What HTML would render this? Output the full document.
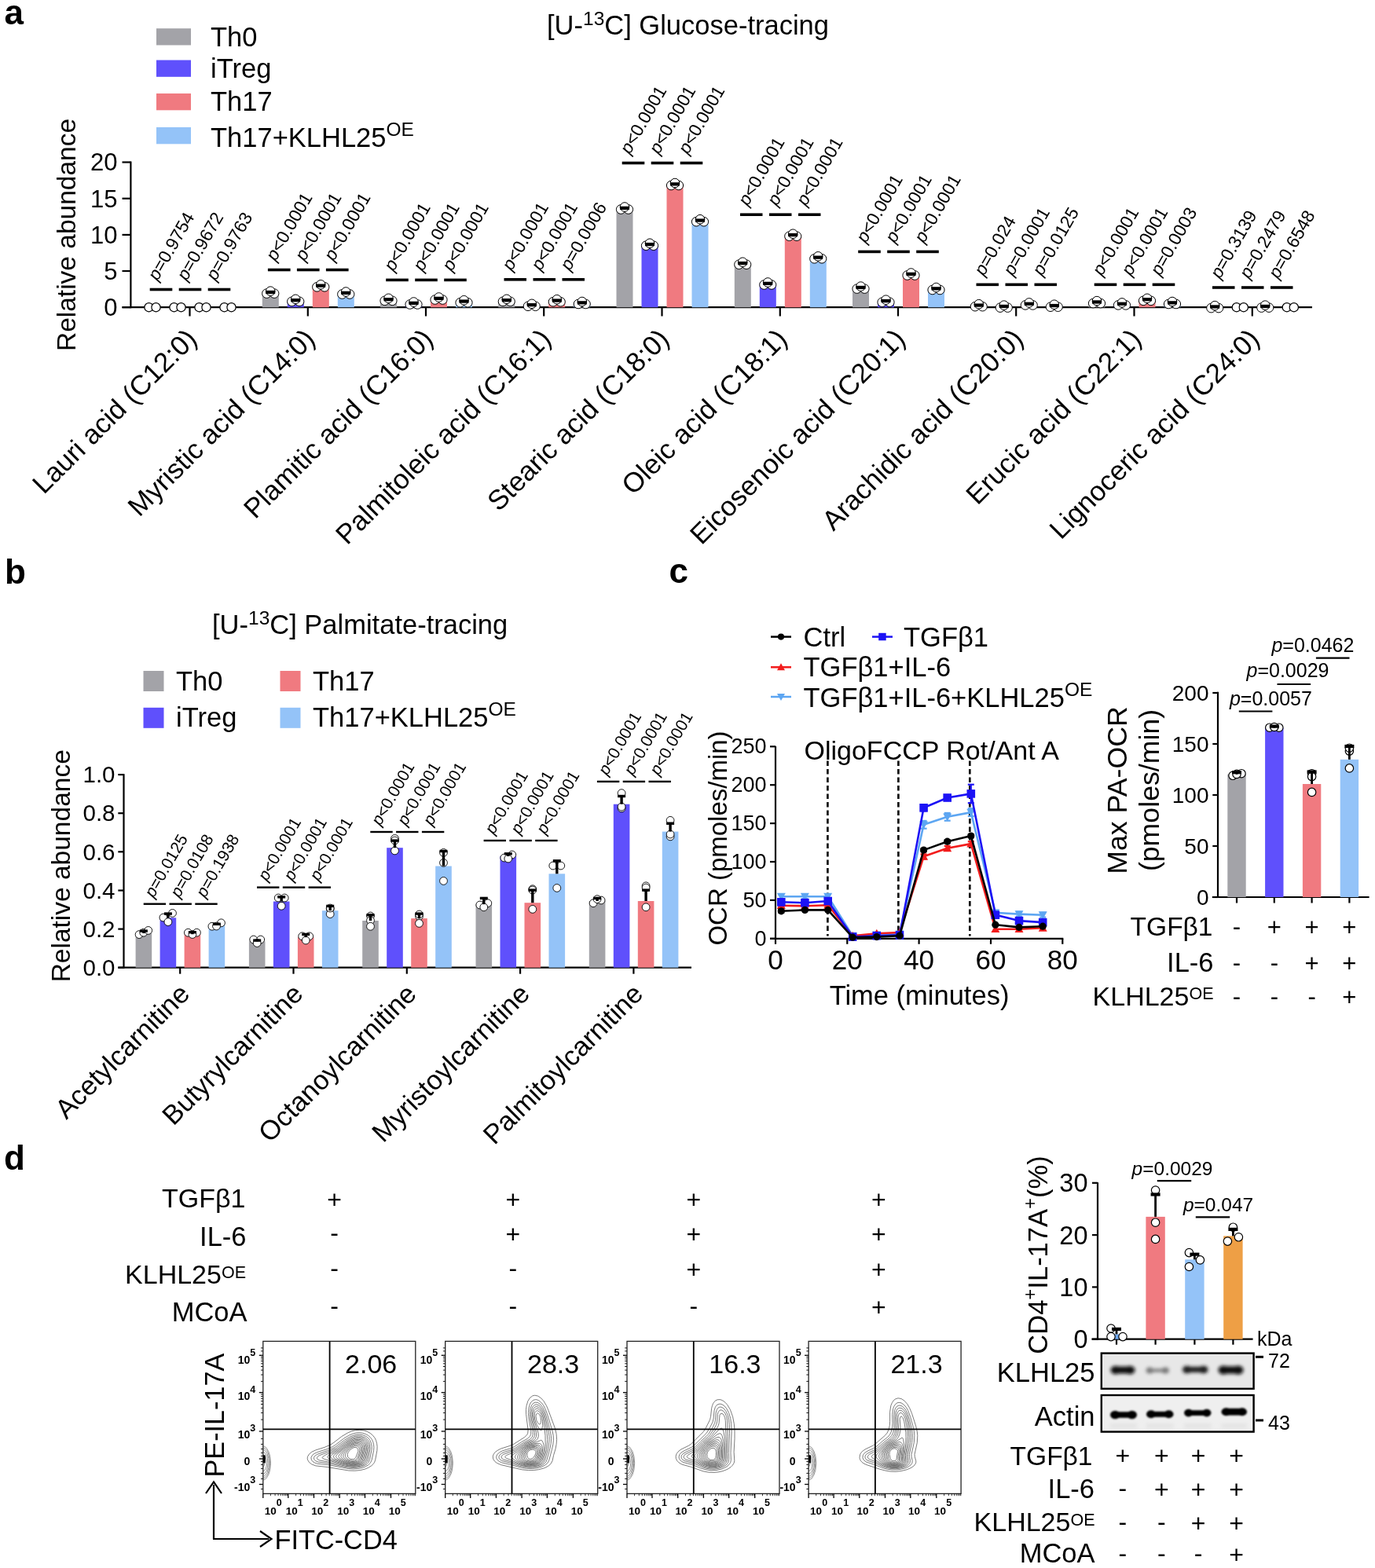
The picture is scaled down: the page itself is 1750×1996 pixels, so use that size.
<!DOCTYPE html>
<html><head><meta charset="utf-8"><title>Figure</title>
<style>html,body{margin:0;padding:0;background:#fff;} svg{display:block;} text{font-family:'Liberation Sans', Arial, Helvetica, sans-serif;}</style>
</head><body>
<svg width="1750" height="1996" viewBox="0 0 1750 1996" font-family="'Liberation Sans', Arial, Helvetica, sans-serif">
<rect width="1750" height="1996" fill="#fff"/>
<text x="5.5" y="30.5" font-size="44" font-weight="bold" >a</text>
<text x="6.0" y="742.7" font-size="44" font-weight="bold" >b</text>
<text x="851.5" y="742.4" font-size="44" font-weight="bold" >c</text>
<text x="5.0" y="1489.0" font-size="44" font-weight="bold" >d</text>
<text x="696" y="44" font-size="34.5">[U-<tspan font-size="24.5" dy="-12">13</tspan><tspan dy="12">C] Glucose-tracing</tspan></text>
<rect x="199.0" y="36.2" width="44.0" height="21.3" fill="#a3a3a8" />
<text x="268.0" y="58.5" font-size="34.5" >Th0</text>
<rect x="199.0" y="76.5" width="44.0" height="21.3" fill="#5f50fc" />
<text x="268.0" y="98.5" font-size="34.5" >iTreg</text>
<rect x="199.0" y="119.0" width="44.0" height="21.3" fill="#f07a80" />
<text x="268.0" y="141.1" font-size="34.5" >Th17</text>
<rect x="199.0" y="162.0" width="44.0" height="21.3" fill="#94c3f8" />
<text x="268" y="186.7" font-size="34.5">Th17+KLHL25<tspan font-size="24.5" dy="-14">OE</tspan></text>
<line x1="166.4" y1="205.5" x2="166.4" y2="392.2" stroke="#000" stroke-width="2.2" />
<line x1="155.5" y1="391.2" x2="166.4" y2="391.2" stroke="#000" stroke-width="2.2" />
<text x="149.5" y="402.0" font-size="31" text-anchor="end" >0</text>
<line x1="155.5" y1="345.0" x2="166.4" y2="345.0" stroke="#000" stroke-width="2.2" />
<text x="149.5" y="355.8" font-size="31" text-anchor="end" >5</text>
<line x1="155.5" y1="298.9" x2="166.4" y2="298.9" stroke="#000" stroke-width="2.2" />
<text x="149.5" y="309.7" font-size="31" text-anchor="end" >10</text>
<line x1="155.5" y1="252.7" x2="166.4" y2="252.7" stroke="#000" stroke-width="2.2" />
<text x="149.5" y="263.5" font-size="31" text-anchor="end" >15</text>
<line x1="155.5" y1="206.5" x2="166.4" y2="206.5" stroke="#000" stroke-width="2.2" />
<text x="149.5" y="217.3" font-size="31" text-anchor="end" >20</text>
<line x1="155.5" y1="391.2" x2="1670.0" y2="391.2" stroke="#000" stroke-width="2.2" />
<text transform="translate(95.5,299) rotate(-90)" font-size="33.5" text-anchor="middle">Relative abundance</text>
<line x1="241.5" y1="391.2" x2="241.5" y2="402.5" stroke="#000" stroke-width="2.2" />
<circle cx="189.5" cy="391.2" r="5.6" fill="#fff" stroke="#000" stroke-width="1.2"/>
<circle cx="198.5" cy="391.2" r="5.6" fill="#fff" stroke="#000" stroke-width="1.2"/>
<circle cx="221.5" cy="391.2" r="5.6" fill="#fff" stroke="#000" stroke-width="1.2"/>
<circle cx="230.5" cy="391.2" r="5.6" fill="#fff" stroke="#000" stroke-width="1.2"/>
<circle cx="253.5" cy="391.2" r="5.6" fill="#fff" stroke="#000" stroke-width="1.2"/>
<circle cx="262.5" cy="391.2" r="5.6" fill="#fff" stroke="#000" stroke-width="1.2"/>
<circle cx="285.5" cy="391.2" r="5.6" fill="#fff" stroke="#000" stroke-width="1.2"/>
<circle cx="294.5" cy="391.2" r="5.6" fill="#fff" stroke="#000" stroke-width="1.2"/>
<line x1="190.7" y1="368.5" x2="219.3" y2="368.5" stroke="#000" stroke-width="3.6" />
<text transform="translate(200.5,358.5) rotate(-60)" font-size="22.7"><tspan font-style="italic">p</tspan>=0.9754</text>
<line x1="227.7" y1="368.5" x2="256.3" y2="368.5" stroke="#000" stroke-width="3.6" />
<text transform="translate(237.5,358.5) rotate(-60)" font-size="22.7"><tspan font-style="italic">p</tspan>=0.9672</text>
<line x1="264.7" y1="368.5" x2="293.3" y2="368.5" stroke="#000" stroke-width="3.6" />
<text transform="translate(274.5,358.5) rotate(-60)" font-size="22.7"><tspan font-style="italic">p</tspan>=0.9763</text>
<text transform="translate(252.5,433.5) rotate(-45)" font-size="35" text-anchor="end">Lauri acid (C12:0)</text>
<line x1="391.8" y1="391.2" x2="391.8" y2="402.5" stroke="#000" stroke-width="2.2" />
<rect x="333.8" y="371.8" width="21.0" height="19.4" fill="#a3a3a8" />
<rect x="365.8" y="382.0" width="21.0" height="9.2" fill="#5f50fc" />
<rect x="397.8" y="363.5" width="21.0" height="27.7" fill="#f07a80" />
<rect x="429.8" y="372.7" width="21.0" height="18.5" fill="#94c3f8" />
<circle cx="339.4" cy="373.6" r="5.8" fill="#fff" stroke="#000" stroke-width="1.0"/>
<circle cx="349.1" cy="373.6" r="5.8" fill="#fff" stroke="#000" stroke-width="1.0"/>
<circle cx="344.2" cy="370.6" r="5.8" fill="#fff" stroke="#000" stroke-width="1.0"/>
<rect x="338.2" y="369.8" width="12.0" height="4.3" fill="#000" />
<circle cx="371.4" cy="383.8" r="5.8" fill="#fff" stroke="#000" stroke-width="1.0"/>
<circle cx="381.1" cy="383.8" r="5.8" fill="#fff" stroke="#000" stroke-width="1.0"/>
<circle cx="376.2" cy="380.8" r="5.8" fill="#fff" stroke="#000" stroke-width="1.0"/>
<rect x="370.2" y="380.0" width="12.0" height="4.3" fill="#000" />
<circle cx="403.4" cy="365.3" r="5.8" fill="#fff" stroke="#000" stroke-width="1.0"/>
<circle cx="413.1" cy="365.3" r="5.8" fill="#fff" stroke="#000" stroke-width="1.0"/>
<circle cx="408.2" cy="362.3" r="5.8" fill="#fff" stroke="#000" stroke-width="1.0"/>
<rect x="402.2" y="361.5" width="12.0" height="4.3" fill="#000" />
<circle cx="435.4" cy="374.5" r="5.8" fill="#fff" stroke="#000" stroke-width="1.0"/>
<circle cx="445.1" cy="374.5" r="5.8" fill="#fff" stroke="#000" stroke-width="1.0"/>
<circle cx="440.2" cy="371.5" r="5.8" fill="#fff" stroke="#000" stroke-width="1.0"/>
<rect x="434.2" y="370.7" width="12.0" height="4.3" fill="#000" />
<line x1="340.9" y1="343.5" x2="369.6" y2="343.5" stroke="#000" stroke-width="3.6" />
<text transform="translate(350.8,333.5) rotate(-60)" font-size="22.7"><tspan font-style="italic">p</tspan>&lt;0.0001</text>
<line x1="377.9" y1="343.5" x2="406.6" y2="343.5" stroke="#000" stroke-width="3.6" />
<text transform="translate(387.8,333.5) rotate(-60)" font-size="22.7"><tspan font-style="italic">p</tspan>&lt;0.0001</text>
<line x1="414.9" y1="343.5" x2="443.6" y2="343.5" stroke="#000" stroke-width="3.6" />
<text transform="translate(424.8,333.5) rotate(-60)" font-size="22.7"><tspan font-style="italic">p</tspan>&lt;0.0001</text>
<text transform="translate(402.8,433.5) rotate(-45)" font-size="35" text-anchor="end">Myristic acid (C14:0)</text>
<line x1="542.0" y1="391.2" x2="542.0" y2="402.5" stroke="#000" stroke-width="2.2" />
<rect x="484.0" y="381.0" width="21.0" height="10.2" fill="#a3a3a8" />
<rect x="516.0" y="385.7" width="21.0" height="5.5" fill="#5f50fc" />
<rect x="548.0" y="379.7" width="21.0" height="11.5" fill="#f07a80" />
<rect x="580.0" y="383.4" width="21.0" height="7.8" fill="#94c3f8" />
<circle cx="489.7" cy="382.8" r="5.8" fill="#fff" stroke="#000" stroke-width="1.0"/>
<circle cx="499.3" cy="382.8" r="5.8" fill="#fff" stroke="#000" stroke-width="1.0"/>
<circle cx="494.5" cy="379.8" r="5.8" fill="#fff" stroke="#000" stroke-width="1.0"/>
<rect x="488.5" y="379.0" width="12.0" height="4.3" fill="#000" />
<circle cx="521.7" cy="387.5" r="5.8" fill="#fff" stroke="#000" stroke-width="1.0"/>
<circle cx="531.3" cy="387.5" r="5.8" fill="#fff" stroke="#000" stroke-width="1.0"/>
<circle cx="526.5" cy="384.5" r="5.8" fill="#fff" stroke="#000" stroke-width="1.0"/>
<rect x="520.5" y="383.7" width="12.0" height="4.3" fill="#000" />
<circle cx="553.7" cy="381.5" r="5.8" fill="#fff" stroke="#000" stroke-width="1.0"/>
<circle cx="563.3" cy="381.5" r="5.8" fill="#fff" stroke="#000" stroke-width="1.0"/>
<circle cx="558.5" cy="378.5" r="5.8" fill="#fff" stroke="#000" stroke-width="1.0"/>
<rect x="552.5" y="377.7" width="12.0" height="4.3" fill="#000" />
<circle cx="585.7" cy="385.2" r="5.8" fill="#fff" stroke="#000" stroke-width="1.0"/>
<circle cx="595.3" cy="385.2" r="5.8" fill="#fff" stroke="#000" stroke-width="1.0"/>
<circle cx="590.5" cy="382.2" r="5.8" fill="#fff" stroke="#000" stroke-width="1.0"/>
<rect x="584.5" y="381.4" width="12.0" height="4.3" fill="#000" />
<line x1="491.2" y1="356.4" x2="519.8" y2="356.4" stroke="#000" stroke-width="3.6" />
<text transform="translate(501.0,346.4) rotate(-60)" font-size="22.7"><tspan font-style="italic">p</tspan>&lt;0.0001</text>
<line x1="528.2" y1="356.4" x2="556.8" y2="356.4" stroke="#000" stroke-width="3.6" />
<text transform="translate(538.0,346.4) rotate(-60)" font-size="22.7"><tspan font-style="italic">p</tspan>&lt;0.0001</text>
<line x1="565.2" y1="356.4" x2="593.8" y2="356.4" stroke="#000" stroke-width="3.6" />
<text transform="translate(575.0,346.4) rotate(-60)" font-size="22.7"><tspan font-style="italic">p</tspan>&lt;0.0001</text>
<text transform="translate(553.0,433.5) rotate(-45)" font-size="35" text-anchor="end">Plamitic acid (C16:0)</text>
<line x1="692.2" y1="391.2" x2="692.2" y2="402.5" stroke="#000" stroke-width="2.2" />
<rect x="634.2" y="382.0" width="21.0" height="9.2" fill="#a3a3a8" />
<rect x="666.2" y="388.0" width="21.0" height="3.2" fill="#5f50fc" />
<rect x="698.2" y="382.4" width="21.0" height="8.8" fill="#f07a80" />
<rect x="730.2" y="385.2" width="21.0" height="6.0" fill="#94c3f8" />
<circle cx="640.0" cy="383.8" r="5.8" fill="#fff" stroke="#000" stroke-width="1.0"/>
<circle cx="649.5" cy="383.8" r="5.8" fill="#fff" stroke="#000" stroke-width="1.0"/>
<circle cx="644.8" cy="380.8" r="5.8" fill="#fff" stroke="#000" stroke-width="1.0"/>
<rect x="638.8" y="380.0" width="12.0" height="4.3" fill="#000" />
<circle cx="672.0" cy="389.8" r="5.8" fill="#fff" stroke="#000" stroke-width="1.0"/>
<circle cx="681.5" cy="389.8" r="5.8" fill="#fff" stroke="#000" stroke-width="1.0"/>
<circle cx="676.8" cy="386.8" r="5.8" fill="#fff" stroke="#000" stroke-width="1.0"/>
<rect x="670.8" y="386.0" width="12.0" height="4.3" fill="#000" />
<circle cx="704.0" cy="384.2" r="5.8" fill="#fff" stroke="#000" stroke-width="1.0"/>
<circle cx="713.5" cy="384.2" r="5.8" fill="#fff" stroke="#000" stroke-width="1.0"/>
<circle cx="708.8" cy="381.2" r="5.8" fill="#fff" stroke="#000" stroke-width="1.0"/>
<rect x="702.8" y="380.4" width="12.0" height="4.3" fill="#000" />
<circle cx="736.0" cy="387.0" r="5.8" fill="#fff" stroke="#000" stroke-width="1.0"/>
<circle cx="745.5" cy="387.0" r="5.8" fill="#fff" stroke="#000" stroke-width="1.0"/>
<circle cx="740.8" cy="384.0" r="5.8" fill="#fff" stroke="#000" stroke-width="1.0"/>
<rect x="734.8" y="383.2" width="12.0" height="4.3" fill="#000" />
<line x1="641.5" y1="355.8" x2="670.0" y2="355.8" stroke="#000" stroke-width="3.6" />
<text transform="translate(651.2,345.8) rotate(-60)" font-size="22.7"><tspan font-style="italic">p</tspan>&lt;0.0001</text>
<line x1="678.5" y1="355.8" x2="707.0" y2="355.8" stroke="#000" stroke-width="3.6" />
<text transform="translate(688.2,345.8) rotate(-60)" font-size="22.7"><tspan font-style="italic">p</tspan>&lt;0.0001</text>
<line x1="715.5" y1="355.8" x2="744.0" y2="355.8" stroke="#000" stroke-width="3.6" />
<text transform="translate(725.2,345.8) rotate(-60)" font-size="22.7"><tspan font-style="italic">p</tspan>=0.0006</text>
<text transform="translate(703.2,433.5) rotate(-45)" font-size="35" text-anchor="end">Palmitoleic acid (C16:1)</text>
<line x1="842.5" y1="391.2" x2="842.5" y2="402.5" stroke="#000" stroke-width="2.2" />
<rect x="784.5" y="264.7" width="21.0" height="126.5" fill="#a3a3a8" />
<rect x="816.5" y="310.9" width="21.0" height="80.3" fill="#5f50fc" />
<rect x="848.5" y="234.2" width="21.0" height="157.0" fill="#f07a80" />
<rect x="880.5" y="280.4" width="21.0" height="110.8" fill="#94c3f8" />
<circle cx="790.2" cy="266.5" r="5.8" fill="#fff" stroke="#000" stroke-width="1.0"/>
<circle cx="799.8" cy="266.5" r="5.8" fill="#fff" stroke="#000" stroke-width="1.0"/>
<circle cx="795.0" cy="263.5" r="5.8" fill="#fff" stroke="#000" stroke-width="1.0"/>
<rect x="789.0" y="262.7" width="12.0" height="4.3" fill="#000" />
<circle cx="822.2" cy="312.7" r="5.8" fill="#fff" stroke="#000" stroke-width="1.0"/>
<circle cx="831.8" cy="312.7" r="5.8" fill="#fff" stroke="#000" stroke-width="1.0"/>
<circle cx="827.0" cy="309.7" r="5.8" fill="#fff" stroke="#000" stroke-width="1.0"/>
<rect x="821.0" y="308.9" width="12.0" height="4.3" fill="#000" />
<circle cx="854.2" cy="236.0" r="5.8" fill="#fff" stroke="#000" stroke-width="1.0"/>
<circle cx="863.8" cy="236.0" r="5.8" fill="#fff" stroke="#000" stroke-width="1.0"/>
<circle cx="859.0" cy="233.0" r="5.8" fill="#fff" stroke="#000" stroke-width="1.0"/>
<rect x="853.0" y="232.2" width="12.0" height="4.3" fill="#000" />
<circle cx="886.2" cy="282.2" r="5.8" fill="#fff" stroke="#000" stroke-width="1.0"/>
<circle cx="895.8" cy="282.2" r="5.8" fill="#fff" stroke="#000" stroke-width="1.0"/>
<circle cx="891.0" cy="279.2" r="5.8" fill="#fff" stroke="#000" stroke-width="1.0"/>
<rect x="885.0" y="278.4" width="12.0" height="4.3" fill="#000" />
<line x1="791.7" y1="207.5" x2="820.3" y2="207.5" stroke="#000" stroke-width="3.6" />
<text transform="translate(801.5,197.5) rotate(-60)" font-size="22.7"><tspan font-style="italic">p</tspan>&lt;0.0001</text>
<line x1="828.7" y1="207.5" x2="857.3" y2="207.5" stroke="#000" stroke-width="3.6" />
<text transform="translate(838.5,197.5) rotate(-60)" font-size="22.7"><tspan font-style="italic">p</tspan>&lt;0.0001</text>
<line x1="865.7" y1="207.5" x2="894.3" y2="207.5" stroke="#000" stroke-width="3.6" />
<text transform="translate(875.5,197.5) rotate(-60)" font-size="22.7"><tspan font-style="italic">p</tspan>&lt;0.0001</text>
<text transform="translate(853.5,433.5) rotate(-45)" font-size="35" text-anchor="end">Stearic acid (C18:0)</text>
<line x1="992.8" y1="391.2" x2="992.8" y2="402.5" stroke="#000" stroke-width="2.2" />
<rect x="934.8" y="334.9" width="21.0" height="56.3" fill="#a3a3a8" />
<rect x="966.8" y="360.7" width="21.0" height="30.5" fill="#5f50fc" />
<rect x="998.8" y="298.9" width="21.0" height="92.3" fill="#f07a80" />
<rect x="1030.8" y="327.5" width="21.0" height="63.7" fill="#94c3f8" />
<circle cx="940.5" cy="336.7" r="5.8" fill="#fff" stroke="#000" stroke-width="1.0"/>
<circle cx="950.0" cy="336.7" r="5.8" fill="#fff" stroke="#000" stroke-width="1.0"/>
<circle cx="945.2" cy="333.7" r="5.8" fill="#fff" stroke="#000" stroke-width="1.0"/>
<rect x="939.2" y="332.9" width="12.0" height="4.3" fill="#000" />
<circle cx="972.5" cy="362.5" r="5.8" fill="#fff" stroke="#000" stroke-width="1.0"/>
<circle cx="982.0" cy="362.5" r="5.8" fill="#fff" stroke="#000" stroke-width="1.0"/>
<circle cx="977.2" cy="359.5" r="5.8" fill="#fff" stroke="#000" stroke-width="1.0"/>
<rect x="971.2" y="358.7" width="12.0" height="4.3" fill="#000" />
<circle cx="1004.5" cy="300.7" r="5.8" fill="#fff" stroke="#000" stroke-width="1.0"/>
<circle cx="1014.0" cy="300.7" r="5.8" fill="#fff" stroke="#000" stroke-width="1.0"/>
<circle cx="1009.2" cy="297.7" r="5.8" fill="#fff" stroke="#000" stroke-width="1.0"/>
<rect x="1003.2" y="296.9" width="12.0" height="4.3" fill="#000" />
<circle cx="1036.5" cy="329.3" r="5.8" fill="#fff" stroke="#000" stroke-width="1.0"/>
<circle cx="1046.0" cy="329.3" r="5.8" fill="#fff" stroke="#000" stroke-width="1.0"/>
<circle cx="1041.2" cy="326.3" r="5.8" fill="#fff" stroke="#000" stroke-width="1.0"/>
<rect x="1035.2" y="325.5" width="12.0" height="4.3" fill="#000" />
<line x1="942.0" y1="273.2" x2="970.5" y2="273.2" stroke="#000" stroke-width="3.6" />
<text transform="translate(951.8,263.2) rotate(-60)" font-size="22.7"><tspan font-style="italic">p</tspan>&lt;0.0001</text>
<line x1="979.0" y1="273.2" x2="1007.5" y2="273.2" stroke="#000" stroke-width="3.6" />
<text transform="translate(988.8,263.2) rotate(-60)" font-size="22.7"><tspan font-style="italic">p</tspan>&lt;0.0001</text>
<line x1="1016.0" y1="273.2" x2="1044.5" y2="273.2" stroke="#000" stroke-width="3.6" />
<text transform="translate(1025.8,263.2) rotate(-60)" font-size="22.7"><tspan font-style="italic">p</tspan>&lt;0.0001</text>
<text transform="translate(1003.8,433.5) rotate(-45)" font-size="35" text-anchor="end">Oleic acid (C18:1)</text>
<line x1="1143.0" y1="391.2" x2="1143.0" y2="402.5" stroke="#000" stroke-width="2.2" />
<rect x="1085.0" y="365.8" width="21.0" height="25.4" fill="#a3a3a8" />
<rect x="1117.0" y="382.9" width="21.0" height="8.3" fill="#5f50fc" />
<rect x="1149.0" y="348.7" width="21.0" height="42.5" fill="#f07a80" />
<rect x="1181.0" y="367.2" width="21.0" height="24.0" fill="#94c3f8" />
<circle cx="1090.7" cy="367.6" r="5.8" fill="#fff" stroke="#000" stroke-width="1.0"/>
<circle cx="1100.3" cy="367.6" r="5.8" fill="#fff" stroke="#000" stroke-width="1.0"/>
<circle cx="1095.5" cy="364.6" r="5.8" fill="#fff" stroke="#000" stroke-width="1.0"/>
<rect x="1089.5" y="363.8" width="12.0" height="4.3" fill="#000" />
<circle cx="1122.7" cy="384.7" r="5.8" fill="#fff" stroke="#000" stroke-width="1.0"/>
<circle cx="1132.3" cy="384.7" r="5.8" fill="#fff" stroke="#000" stroke-width="1.0"/>
<circle cx="1127.5" cy="381.7" r="5.8" fill="#fff" stroke="#000" stroke-width="1.0"/>
<rect x="1121.5" y="380.9" width="12.0" height="4.3" fill="#000" />
<circle cx="1154.7" cy="350.5" r="5.8" fill="#fff" stroke="#000" stroke-width="1.0"/>
<circle cx="1164.3" cy="350.5" r="5.8" fill="#fff" stroke="#000" stroke-width="1.0"/>
<circle cx="1159.5" cy="347.5" r="5.8" fill="#fff" stroke="#000" stroke-width="1.0"/>
<rect x="1153.5" y="346.7" width="12.0" height="4.3" fill="#000" />
<circle cx="1186.7" cy="369.0" r="5.8" fill="#fff" stroke="#000" stroke-width="1.0"/>
<circle cx="1196.3" cy="369.0" r="5.8" fill="#fff" stroke="#000" stroke-width="1.0"/>
<circle cx="1191.5" cy="366.0" r="5.8" fill="#fff" stroke="#000" stroke-width="1.0"/>
<rect x="1185.5" y="365.2" width="12.0" height="4.3" fill="#000" />
<line x1="1092.2" y1="320.4" x2="1120.8" y2="320.4" stroke="#000" stroke-width="3.6" />
<text transform="translate(1102.0,310.4) rotate(-60)" font-size="22.7"><tspan font-style="italic">p</tspan>&lt;0.0001</text>
<line x1="1129.2" y1="320.4" x2="1157.8" y2="320.4" stroke="#000" stroke-width="3.6" />
<text transform="translate(1139.0,310.4) rotate(-60)" font-size="22.7"><tspan font-style="italic">p</tspan>&lt;0.0001</text>
<line x1="1166.2" y1="320.4" x2="1194.8" y2="320.4" stroke="#000" stroke-width="3.6" />
<text transform="translate(1176.0,310.4) rotate(-60)" font-size="22.7"><tspan font-style="italic">p</tspan>&lt;0.0001</text>
<text transform="translate(1154.0,433.5) rotate(-45)" font-size="35" text-anchor="end">Eicosenoic acid (C20:1)</text>
<line x1="1293.2" y1="391.2" x2="1293.2" y2="402.5" stroke="#000" stroke-width="2.2" />
<rect x="1235.2" y="388.4" width="21.0" height="2.8" fill="#a3a3a8" />
<rect x="1267.2" y="389.8" width="21.0" height="1.4" fill="#5f50fc" />
<rect x="1299.2" y="386.6" width="21.0" height="4.6" fill="#f07a80" />
<rect x="1331.2" y="388.9" width="21.0" height="2.3" fill="#94c3f8" />
<circle cx="1241.0" cy="390.2" r="5.8" fill="#fff" stroke="#000" stroke-width="1.0"/>
<circle cx="1250.5" cy="390.2" r="5.8" fill="#fff" stroke="#000" stroke-width="1.0"/>
<circle cx="1245.8" cy="387.2" r="5.8" fill="#fff" stroke="#000" stroke-width="1.0"/>
<rect x="1239.8" y="386.4" width="12.0" height="4.3" fill="#000" />
<circle cx="1273.0" cy="391.6" r="5.8" fill="#fff" stroke="#000" stroke-width="1.0"/>
<circle cx="1282.5" cy="391.6" r="5.8" fill="#fff" stroke="#000" stroke-width="1.0"/>
<circle cx="1277.8" cy="388.6" r="5.8" fill="#fff" stroke="#000" stroke-width="1.0"/>
<rect x="1271.8" y="387.8" width="12.0" height="4.3" fill="#000" />
<circle cx="1305.0" cy="388.4" r="5.8" fill="#fff" stroke="#000" stroke-width="1.0"/>
<circle cx="1314.5" cy="388.4" r="5.8" fill="#fff" stroke="#000" stroke-width="1.0"/>
<circle cx="1309.8" cy="385.4" r="5.8" fill="#fff" stroke="#000" stroke-width="1.0"/>
<rect x="1303.8" y="384.6" width="12.0" height="4.3" fill="#000" />
<circle cx="1337.0" cy="390.7" r="5.8" fill="#fff" stroke="#000" stroke-width="1.0"/>
<circle cx="1346.5" cy="390.7" r="5.8" fill="#fff" stroke="#000" stroke-width="1.0"/>
<circle cx="1341.8" cy="387.7" r="5.8" fill="#fff" stroke="#000" stroke-width="1.0"/>
<rect x="1335.8" y="386.9" width="12.0" height="4.3" fill="#000" />
<line x1="1242.5" y1="362.3" x2="1271.0" y2="362.3" stroke="#000" stroke-width="3.6" />
<text transform="translate(1252.2,352.3) rotate(-60)" font-size="22.7"><tspan font-style="italic">p</tspan>=0.024</text>
<line x1="1279.5" y1="362.3" x2="1308.0" y2="362.3" stroke="#000" stroke-width="3.6" />
<text transform="translate(1289.2,352.3) rotate(-60)" font-size="22.7"><tspan font-style="italic">p</tspan>=0.0001</text>
<line x1="1316.5" y1="362.3" x2="1345.0" y2="362.3" stroke="#000" stroke-width="3.6" />
<text transform="translate(1326.2,352.3) rotate(-60)" font-size="22.7"><tspan font-style="italic">p</tspan>=0.0125</text>
<text transform="translate(1304.2,433.5) rotate(-45)" font-size="35" text-anchor="end">Arachidic acid (C20:0)</text>
<line x1="1443.5" y1="391.2" x2="1443.5" y2="402.5" stroke="#000" stroke-width="2.2" />
<rect x="1385.5" y="384.3" width="21.0" height="6.9" fill="#a3a3a8" />
<rect x="1417.5" y="386.6" width="21.0" height="4.6" fill="#5f50fc" />
<rect x="1449.5" y="381.0" width="21.0" height="10.2" fill="#f07a80" />
<rect x="1481.5" y="385.2" width="21.0" height="6.0" fill="#94c3f8" />
<circle cx="1391.2" cy="386.1" r="5.8" fill="#fff" stroke="#000" stroke-width="1.0"/>
<circle cx="1400.8" cy="386.1" r="5.8" fill="#fff" stroke="#000" stroke-width="1.0"/>
<circle cx="1396.0" cy="383.1" r="5.8" fill="#fff" stroke="#000" stroke-width="1.0"/>
<rect x="1390.0" y="382.3" width="12.0" height="4.3" fill="#000" />
<circle cx="1423.2" cy="388.4" r="5.8" fill="#fff" stroke="#000" stroke-width="1.0"/>
<circle cx="1432.8" cy="388.4" r="5.8" fill="#fff" stroke="#000" stroke-width="1.0"/>
<circle cx="1428.0" cy="385.4" r="5.8" fill="#fff" stroke="#000" stroke-width="1.0"/>
<rect x="1422.0" y="384.6" width="12.0" height="4.3" fill="#000" />
<circle cx="1455.2" cy="382.8" r="5.8" fill="#fff" stroke="#000" stroke-width="1.0"/>
<circle cx="1464.8" cy="382.8" r="5.8" fill="#fff" stroke="#000" stroke-width="1.0"/>
<circle cx="1460.0" cy="379.8" r="5.8" fill="#fff" stroke="#000" stroke-width="1.0"/>
<rect x="1454.0" y="379.0" width="12.0" height="4.3" fill="#000" />
<circle cx="1487.2" cy="387.0" r="5.8" fill="#fff" stroke="#000" stroke-width="1.0"/>
<circle cx="1496.8" cy="387.0" r="5.8" fill="#fff" stroke="#000" stroke-width="1.0"/>
<circle cx="1492.0" cy="384.0" r="5.8" fill="#fff" stroke="#000" stroke-width="1.0"/>
<rect x="1486.0" y="383.2" width="12.0" height="4.3" fill="#000" />
<line x1="1392.7" y1="362.3" x2="1421.3" y2="362.3" stroke="#000" stroke-width="3.6" />
<text transform="translate(1402.5,352.3) rotate(-60)" font-size="22.7"><tspan font-style="italic">p</tspan>&lt;0.0001</text>
<line x1="1429.7" y1="362.3" x2="1458.3" y2="362.3" stroke="#000" stroke-width="3.6" />
<text transform="translate(1439.5,352.3) rotate(-60)" font-size="22.7"><tspan font-style="italic">p</tspan>&lt;0.0001</text>
<line x1="1466.7" y1="362.3" x2="1495.3" y2="362.3" stroke="#000" stroke-width="3.6" />
<text transform="translate(1476.5,352.3) rotate(-60)" font-size="22.7"><tspan font-style="italic">p</tspan>=0.0003</text>
<text transform="translate(1454.5,433.5) rotate(-45)" font-size="35" text-anchor="end">Erucic acid (C22:1)</text>
<line x1="1593.8" y1="391.2" x2="1593.8" y2="402.5" stroke="#000" stroke-width="2.2" />
<rect x="1535.8" y="390.3" width="21.0" height="0.9" fill="#a3a3a8" />
<rect x="1599.8" y="389.8" width="21.0" height="1.4" fill="#f07a80" />
<circle cx="1541.5" cy="392.1" r="5.8" fill="#fff" stroke="#000" stroke-width="1.0"/>
<circle cx="1551.0" cy="392.1" r="5.8" fill="#fff" stroke="#000" stroke-width="1.0"/>
<circle cx="1546.2" cy="389.1" r="5.8" fill="#fff" stroke="#000" stroke-width="1.0"/>
<rect x="1540.2" y="388.3" width="12.0" height="4.3" fill="#000" />
<circle cx="1573.8" cy="391.2" r="5.6" fill="#fff" stroke="#000" stroke-width="1.2"/>
<circle cx="1582.8" cy="391.2" r="5.6" fill="#fff" stroke="#000" stroke-width="1.2"/>
<circle cx="1605.5" cy="391.6" r="5.8" fill="#fff" stroke="#000" stroke-width="1.0"/>
<circle cx="1615.0" cy="391.6" r="5.8" fill="#fff" stroke="#000" stroke-width="1.0"/>
<circle cx="1610.2" cy="388.6" r="5.8" fill="#fff" stroke="#000" stroke-width="1.0"/>
<rect x="1604.2" y="387.8" width="12.0" height="4.3" fill="#000" />
<circle cx="1637.8" cy="391.2" r="5.6" fill="#fff" stroke="#000" stroke-width="1.2"/>
<circle cx="1646.8" cy="391.2" r="5.6" fill="#fff" stroke="#000" stroke-width="1.2"/>
<line x1="1543.0" y1="366.0" x2="1571.5" y2="366.0" stroke="#000" stroke-width="3.6" />
<text transform="translate(1552.8,356.0) rotate(-60)" font-size="22.7"><tspan font-style="italic">p</tspan>=0.3139</text>
<line x1="1580.0" y1="366.0" x2="1608.5" y2="366.0" stroke="#000" stroke-width="3.6" />
<text transform="translate(1589.8,356.0) rotate(-60)" font-size="22.7"><tspan font-style="italic">p</tspan>=0.2479</text>
<line x1="1617.0" y1="366.0" x2="1645.5" y2="366.0" stroke="#000" stroke-width="3.6" />
<text transform="translate(1626.8,356.0) rotate(-60)" font-size="22.7"><tspan font-style="italic">p</tspan>=0.6548</text>
<text transform="translate(1604.8,433.5) rotate(-45)" font-size="35" text-anchor="end">Lignoceric acid (C24:0)</text>
<text x="270" y="807" font-size="34.5">[U-<tspan font-size="24.5" dy="-12">13</tspan><tspan dy="12">C] Palmitate-tracing</tspan></text>
<rect x="182.5" y="854.0" width="26.0" height="26.0" fill="#a3a3a8" />
<text x="224.0" y="878.5" font-size="34.5" >Th0</text>
<rect x="182.5" y="900.8" width="26.0" height="26.0" fill="#5f50fc" />
<text x="224.0" y="925.3" font-size="34.5" >iTreg</text>
<rect x="356.5" y="854.0" width="26.0" height="26.0" fill="#f07a80" />
<text x="398.0" y="878.5" font-size="34.5" >Th17</text>
<rect x="356.5" y="900.8" width="26.0" height="26.0" fill="#94c3f8" />
<text x="398.0" y="925.3" font-size="34.5">Th17+KLHL25<tspan font-size="24.5" dy="-14">OE</tspan></text>
<line x1="157.5" y1="985.2" x2="157.5" y2="1232.7" stroke="#000" stroke-width="2.2" />
<line x1="150.3" y1="1231.7" x2="157.5" y2="1231.7" stroke="#000" stroke-width="2.2" />
<text x="146.5" y="1241.9" font-size="29.5" text-anchor="end" >0.0</text>
<line x1="150.3" y1="1182.6" x2="157.5" y2="1182.6" stroke="#000" stroke-width="2.2" />
<text x="146.5" y="1192.8" font-size="29.5" text-anchor="end" >0.2</text>
<line x1="150.3" y1="1133.5" x2="157.5" y2="1133.5" stroke="#000" stroke-width="2.2" />
<text x="146.5" y="1143.7" font-size="29.5" text-anchor="end" >0.4</text>
<line x1="150.3" y1="1084.3" x2="157.5" y2="1084.3" stroke="#000" stroke-width="2.2" />
<text x="146.5" y="1094.5" font-size="29.5" text-anchor="end" >0.6</text>
<line x1="150.3" y1="1035.2" x2="157.5" y2="1035.2" stroke="#000" stroke-width="2.2" />
<text x="146.5" y="1045.4" font-size="29.5" text-anchor="end" >0.8</text>
<line x1="150.3" y1="986.1" x2="157.5" y2="986.1" stroke="#000" stroke-width="2.2" />
<text x="146.5" y="996.3" font-size="29.5" text-anchor="end" >1.0</text>
<line x1="150.3" y1="1231.7" x2="880.0" y2="1231.7" stroke="#000" stroke-width="2.2" />
<text transform="translate(88.5,1102.3) rotate(-90)" font-size="33.5" text-anchor="middle">Relative abundance</text>
<line x1="229.2" y1="1231.7" x2="229.2" y2="1239.7" stroke="#000" stroke-width="2.2" />
<rect x="172.6" y="1188.0" width="20.6" height="43.7" fill="#a3a3a8" />
<rect x="203.6" y="1168.3" width="20.6" height="63.4" fill="#5f50fc" />
<rect x="234.6" y="1189.2" width="20.6" height="42.5" fill="#f07a80" />
<rect x="265.6" y="1177.7" width="20.6" height="54.0" fill="#94c3f8" />
<circle cx="177.1" cy="1189.6" r="4.9" fill="#fff" stroke="#000" stroke-width="0.9"/>
<circle cx="182.7" cy="1187.2" r="4.9" fill="#fff" stroke="#000" stroke-width="0.9"/>
<circle cx="188.7" cy="1184.4" r="4.9" fill="#fff" stroke="#000" stroke-width="0.9"/>
<line x1="182.9" y1="1188.0" x2="182.9" y2="1185.0" stroke="#000" stroke-width="3.4" />
<rect x="177.9" y="1183.4" width="10.0" height="3.4" fill="#000" />
<circle cx="207.9" cy="1168.0" r="4.9" fill="#fff" stroke="#000" stroke-width="0.9"/>
<circle cx="219.5" cy="1162.4" r="4.9" fill="#fff" stroke="#000" stroke-width="0.9"/>
<circle cx="213.9" cy="1173.6" r="4.9" fill="#fff" stroke="#000" stroke-width="0.9"/>
<line x1="213.9" y1="1168.3" x2="213.9" y2="1163.0" stroke="#000" stroke-width="3.4" />
<rect x="208.9" y="1161.4" width="10.0" height="3.4" fill="#000" />
<circle cx="239.4" cy="1187.2" r="4.9" fill="#fff" stroke="#000" stroke-width="0.9"/>
<circle cx="250.4" cy="1187.2" r="4.9" fill="#fff" stroke="#000" stroke-width="0.9"/>
<circle cx="244.9" cy="1189.5" r="4.9" fill="#fff" stroke="#000" stroke-width="0.9"/>
<line x1="244.9" y1="1189.2" x2="244.9" y2="1186.6" stroke="#000" stroke-width="3.4" />
<rect x="239.9" y="1185.0" width="10.0" height="3.4" fill="#000" />
<circle cx="269.9" cy="1179.2" r="4.9" fill="#fff" stroke="#000" stroke-width="0.9"/>
<circle cx="281.5" cy="1174.8" r="4.9" fill="#fff" stroke="#000" stroke-width="0.9"/>
<circle cx="275.5" cy="1179.0" r="4.9" fill="#fff" stroke="#000" stroke-width="0.9"/>
<line x1="275.9" y1="1177.7" x2="275.9" y2="1176.2" stroke="#000" stroke-width="3.4" />
<rect x="270.9" y="1174.6" width="10.0" height="3.4" fill="#000" />
<line x1="182.7" y1="1150.7" x2="211.1" y2="1150.7" stroke="#000" stroke-width="2.4" />
<text transform="translate(195.5,1143.7) rotate(-60)" font-size="21"><tspan font-style="italic">p</tspan>=0.0125</text>
<line x1="215.5" y1="1150.7" x2="243.9" y2="1150.7" stroke="#000" stroke-width="2.4" />
<text transform="translate(228.3,1143.7) rotate(-60)" font-size="21"><tspan font-style="italic">p</tspan>=0.0108</text>
<line x1="248.3" y1="1150.7" x2="276.7" y2="1150.7" stroke="#000" stroke-width="2.4" />
<text transform="translate(261.1,1143.7) rotate(-60)" font-size="21"><tspan font-style="italic">p</tspan>=0.1938</text>
<text transform="translate(243.2,1267.3) rotate(-45)" font-size="34.5" text-anchor="end">Acetylcarnitine</text>
<line x1="373.5" y1="1231.7" x2="373.5" y2="1239.7" stroke="#000" stroke-width="2.2" />
<rect x="316.9" y="1198.3" width="20.6" height="33.4" fill="#a3a3a8" />
<rect x="347.9" y="1147.5" width="20.6" height="84.2" fill="#5f50fc" />
<rect x="378.9" y="1193.1" width="20.6" height="38.6" fill="#f07a80" />
<rect x="409.9" y="1159.2" width="20.6" height="72.5" fill="#94c3f8" />
<circle cx="322.7" cy="1196.0" r="4.9" fill="#fff" stroke="#000" stroke-width="0.9"/>
<circle cx="331.7" cy="1196.0" r="4.9" fill="#fff" stroke="#000" stroke-width="0.9"/>
<circle cx="327.2" cy="1200.5" r="4.9" fill="#fff" stroke="#000" stroke-width="0.9"/>
<line x1="327.2" y1="1198.3" x2="327.2" y2="1197.0" stroke="#000" stroke-width="3.4" />
<rect x="322.2" y="1195.4" width="10.0" height="3.4" fill="#000" />
<circle cx="354.2" cy="1143.0" r="4.9" fill="#fff" stroke="#000" stroke-width="0.9"/>
<circle cx="362.2" cy="1143.0" r="4.9" fill="#fff" stroke="#000" stroke-width="0.9"/>
<circle cx="358.2" cy="1153.3" r="4.9" fill="#fff" stroke="#000" stroke-width="0.9"/>
<line x1="358.2" y1="1147.5" x2="358.2" y2="1141.7" stroke="#000" stroke-width="3.4" />
<rect x="353.2" y="1140.1" width="10.0" height="3.4" fill="#000" />
<circle cx="384.7" cy="1191.8" r="4.9" fill="#fff" stroke="#000" stroke-width="0.9"/>
<circle cx="393.7" cy="1191.8" r="4.9" fill="#fff" stroke="#000" stroke-width="0.9"/>
<circle cx="389.2" cy="1197.0" r="4.9" fill="#fff" stroke="#000" stroke-width="0.9"/>
<line x1="389.2" y1="1193.1" x2="389.2" y2="1189.3" stroke="#000" stroke-width="3.4" />
<rect x="384.2" y="1187.7" width="10.0" height="3.4" fill="#000" />
<circle cx="420.2" cy="1157.0" r="4.9" fill="#fff" stroke="#000" stroke-width="0.9"/>
<circle cx="420.2" cy="1163.6" r="4.9" fill="#fff" stroke="#000" stroke-width="0.9"/>
<circle cx="420.2" cy="1156.0" r="4.9" fill="#fff" stroke="#000" stroke-width="0.9"/>
<line x1="420.2" y1="1159.2" x2="420.2" y2="1153.3" stroke="#000" stroke-width="3.4" />
<rect x="415.2" y="1151.7" width="10.0" height="3.4" fill="#000" />
<line x1="327.0" y1="1129.6" x2="355.4" y2="1129.6" stroke="#000" stroke-width="2.4" />
<text transform="translate(339.8,1122.6) rotate(-60)" font-size="21"><tspan font-style="italic">p</tspan>&lt;0.0001</text>
<line x1="359.8" y1="1129.6" x2="388.2" y2="1129.6" stroke="#000" stroke-width="2.4" />
<text transform="translate(372.6,1122.6) rotate(-60)" font-size="21"><tspan font-style="italic">p</tspan>&lt;0.0001</text>
<line x1="392.6" y1="1129.6" x2="421.0" y2="1129.6" stroke="#000" stroke-width="2.4" />
<text transform="translate(405.4,1122.6) rotate(-60)" font-size="21"><tspan font-style="italic">p</tspan>&lt;0.0001</text>
<text transform="translate(387.5,1267.3) rotate(-45)" font-size="34.5" text-anchor="end">Butyrylcarnitine</text>
<line x1="517.8" y1="1231.7" x2="517.8" y2="1239.7" stroke="#000" stroke-width="2.2" />
<rect x="461.2" y="1172.0" width="20.6" height="59.7" fill="#a3a3a8" />
<rect x="492.2" y="1079.2" width="20.6" height="152.5" fill="#5f50fc" />
<rect x="523.2" y="1169.1" width="20.6" height="62.6" fill="#f07a80" />
<rect x="554.2" y="1102.5" width="20.6" height="129.2" fill="#94c3f8" />
<circle cx="471.5" cy="1166.0" r="4.9" fill="#fff" stroke="#000" stroke-width="0.9"/>
<circle cx="471.5" cy="1171.6" r="4.9" fill="#fff" stroke="#000" stroke-width="0.9"/>
<circle cx="471.5" cy="1179.3" r="4.9" fill="#fff" stroke="#000" stroke-width="0.9"/>
<line x1="471.5" y1="1172.0" x2="471.5" y2="1164.6" stroke="#000" stroke-width="3.4" />
<rect x="466.5" y="1163.0" width="10.0" height="3.4" fill="#000" />
<circle cx="502.5" cy="1067.4" r="4.9" fill="#fff" stroke="#000" stroke-width="0.9"/>
<circle cx="502.5" cy="1082.9" r="4.9" fill="#fff" stroke="#000" stroke-width="0.9"/>
<circle cx="502.5" cy="1070.0" r="4.9" fill="#fff" stroke="#000" stroke-width="0.9"/>
<line x1="502.5" y1="1079.2" x2="502.5" y2="1070.0" stroke="#000" stroke-width="3.4" />
<rect x="497.5" y="1068.4" width="10.0" height="3.4" fill="#000" />
<circle cx="533.5" cy="1166.4" r="4.9" fill="#fff" stroke="#000" stroke-width="0.9"/>
<circle cx="533.5" cy="1175.4" r="4.9" fill="#fff" stroke="#000" stroke-width="0.9"/>
<circle cx="533.5" cy="1164.0" r="4.9" fill="#fff" stroke="#000" stroke-width="0.9"/>
<line x1="533.5" y1="1169.1" x2="533.5" y2="1163.0" stroke="#000" stroke-width="3.4" />
<rect x="528.5" y="1161.4" width="10.0" height="3.4" fill="#000" />
<circle cx="564.5" cy="1085.4" r="4.9" fill="#fff" stroke="#000" stroke-width="0.9"/>
<circle cx="564.5" cy="1098.3" r="4.9" fill="#fff" stroke="#000" stroke-width="0.9"/>
<circle cx="564.5" cy="1121.4" r="4.9" fill="#fff" stroke="#000" stroke-width="0.9"/>
<line x1="564.5" y1="1102.5" x2="564.5" y2="1083.4" stroke="#000" stroke-width="3.4" />
<rect x="559.5" y="1081.8" width="10.0" height="3.4" fill="#000" />
<line x1="471.3" y1="1059.0" x2="499.7" y2="1059.0" stroke="#000" stroke-width="2.4" />
<text transform="translate(484.1,1052.0) rotate(-60)" font-size="21"><tspan font-style="italic">p</tspan>&lt;0.0001</text>
<line x1="504.1" y1="1059.0" x2="532.5" y2="1059.0" stroke="#000" stroke-width="2.4" />
<text transform="translate(516.9,1052.0) rotate(-60)" font-size="21"><tspan font-style="italic">p</tspan>&lt;0.0001</text>
<line x1="536.9" y1="1059.0" x2="565.3" y2="1059.0" stroke="#000" stroke-width="2.4" />
<text transform="translate(549.7,1052.0) rotate(-60)" font-size="21"><tspan font-style="italic">p</tspan>&lt;0.0001</text>
<text transform="translate(531.8,1267.3) rotate(-45)" font-size="34.5" text-anchor="end">Octanoylcarnitine</text>
<line x1="662.1" y1="1231.7" x2="662.1" y2="1239.7" stroke="#000" stroke-width="2.2" />
<rect x="605.5" y="1151.1" width="20.6" height="80.6" fill="#a3a3a8" />
<rect x="636.5" y="1090.0" width="20.6" height="141.7" fill="#5f50fc" />
<rect x="667.5" y="1149.2" width="20.6" height="82.5" fill="#f07a80" />
<rect x="698.5" y="1112.3" width="20.6" height="119.4" fill="#94c3f8" />
<circle cx="610.8" cy="1152.0" r="4.9" fill="#fff" stroke="#000" stroke-width="0.9"/>
<circle cx="620.8" cy="1149.7" r="4.9" fill="#fff" stroke="#000" stroke-width="0.9"/>
<circle cx="615.8" cy="1154.8" r="4.9" fill="#fff" stroke="#000" stroke-width="0.9"/>
<line x1="615.8" y1="1151.1" x2="615.8" y2="1143.3" stroke="#000" stroke-width="3.4" />
<rect x="610.8" y="1141.7" width="10.0" height="3.4" fill="#000" />
<circle cx="641.8" cy="1092.0" r="4.9" fill="#fff" stroke="#000" stroke-width="0.9"/>
<circle cx="651.8" cy="1088.0" r="4.9" fill="#fff" stroke="#000" stroke-width="0.9"/>
<circle cx="646.8" cy="1093.0" r="4.9" fill="#fff" stroke="#000" stroke-width="0.9"/>
<line x1="646.8" y1="1090.0" x2="646.8" y2="1086.7" stroke="#000" stroke-width="3.4" />
<rect x="641.8" y="1085.1" width="10.0" height="3.4" fill="#000" />
<circle cx="677.8" cy="1131.7" r="4.9" fill="#fff" stroke="#000" stroke-width="0.9"/>
<circle cx="677.8" cy="1157.4" r="4.9" fill="#fff" stroke="#000" stroke-width="0.9"/>
<circle cx="677.8" cy="1133.0" r="4.9" fill="#fff" stroke="#000" stroke-width="0.9"/>
<line x1="677.8" y1="1149.2" x2="677.8" y2="1133.0" stroke="#000" stroke-width="3.4" />
<rect x="672.8" y="1131.4" width="10.0" height="3.4" fill="#000" />
<circle cx="703.8" cy="1102.0" r="4.9" fill="#fff" stroke="#000" stroke-width="0.9"/>
<circle cx="713.8" cy="1102.0" r="4.9" fill="#fff" stroke="#000" stroke-width="0.9"/>
<circle cx="708.8" cy="1130.4" r="4.9" fill="#fff" stroke="#000" stroke-width="0.9"/>
<line x1="708.8" y1="1112.3" x2="708.8" y2="1095.7" stroke="#000" stroke-width="3.4" />
<rect x="703.8" y="1094.1" width="10.0" height="3.4" fill="#000" />
<line x1="615.6" y1="1070.0" x2="644.0" y2="1070.0" stroke="#000" stroke-width="2.4" />
<text transform="translate(628.4,1063.0) rotate(-60)" font-size="21"><tspan font-style="italic">p</tspan>&lt;0.0001</text>
<line x1="648.4" y1="1070.0" x2="676.8" y2="1070.0" stroke="#000" stroke-width="2.4" />
<text transform="translate(661.2,1063.0) rotate(-60)" font-size="21"><tspan font-style="italic">p</tspan>&lt;0.0001</text>
<line x1="681.2" y1="1070.0" x2="709.6" y2="1070.0" stroke="#000" stroke-width="2.4" />
<text transform="translate(694.0,1063.0) rotate(-60)" font-size="21"><tspan font-style="italic">p</tspan>&lt;0.0001</text>
<text transform="translate(676.1,1267.3) rotate(-45)" font-size="34.5" text-anchor="end">Myristoylcarnitine</text>
<line x1="806.4" y1="1231.7" x2="806.4" y2="1239.7" stroke="#000" stroke-width="2.2" />
<rect x="749.8" y="1147.0" width="20.6" height="84.7" fill="#a3a3a8" />
<rect x="780.8" y="1023.7" width="20.6" height="208.0" fill="#5f50fc" />
<rect x="811.8" y="1147.0" width="20.6" height="84.7" fill="#f07a80" />
<rect x="842.8" y="1058.6" width="20.6" height="173.1" fill="#94c3f8" />
<circle cx="755.1" cy="1149.7" r="4.9" fill="#fff" stroke="#000" stroke-width="0.9"/>
<circle cx="765.1" cy="1146.0" r="4.9" fill="#fff" stroke="#000" stroke-width="0.9"/>
<circle cx="760.1" cy="1144.6" r="4.9" fill="#fff" stroke="#000" stroke-width="0.9"/>
<line x1="760.1" y1="1147.0" x2="760.1" y2="1143.3" stroke="#000" stroke-width="3.4" />
<rect x="755.1" y="1141.7" width="10.0" height="3.4" fill="#000" />
<circle cx="791.1" cy="1009.6" r="4.9" fill="#fff" stroke="#000" stroke-width="0.9"/>
<circle cx="791.1" cy="1028.9" r="4.9" fill="#fff" stroke="#000" stroke-width="0.9"/>
<circle cx="791.1" cy="1027.0" r="4.9" fill="#fff" stroke="#000" stroke-width="0.9"/>
<line x1="791.1" y1="1023.7" x2="791.1" y2="1013.4" stroke="#000" stroke-width="3.4" />
<rect x="786.1" y="1011.8" width="10.0" height="3.4" fill="#000" />
<circle cx="822.1" cy="1127.8" r="4.9" fill="#fff" stroke="#000" stroke-width="0.9"/>
<circle cx="822.1" cy="1154.8" r="4.9" fill="#fff" stroke="#000" stroke-width="0.9"/>
<circle cx="822.1" cy="1130.0" r="4.9" fill="#fff" stroke="#000" stroke-width="0.9"/>
<line x1="822.1" y1="1147.0" x2="822.1" y2="1133.0" stroke="#000" stroke-width="3.4" />
<rect x="817.1" y="1131.4" width="10.0" height="3.4" fill="#000" />
<circle cx="853.1" cy="1044.3" r="4.9" fill="#fff" stroke="#000" stroke-width="0.9"/>
<circle cx="853.1" cy="1064.9" r="4.9" fill="#fff" stroke="#000" stroke-width="0.9"/>
<circle cx="853.1" cy="1062.0" r="4.9" fill="#fff" stroke="#000" stroke-width="0.9"/>
<line x1="853.1" y1="1058.6" x2="853.1" y2="1048.1" stroke="#000" stroke-width="3.4" />
<rect x="848.1" y="1046.5" width="10.0" height="3.4" fill="#000" />
<line x1="759.9" y1="994.9" x2="788.3" y2="994.9" stroke="#000" stroke-width="2.4" />
<text transform="translate(772.7,987.9) rotate(-60)" font-size="21"><tspan font-style="italic">p</tspan>&lt;0.0001</text>
<line x1="792.7" y1="994.9" x2="821.1" y2="994.9" stroke="#000" stroke-width="2.4" />
<text transform="translate(805.5,987.9) rotate(-60)" font-size="21"><tspan font-style="italic">p</tspan>&lt;0.0001</text>
<line x1="825.5" y1="994.9" x2="853.9" y2="994.9" stroke="#000" stroke-width="2.4" />
<text transform="translate(838.3,987.9) rotate(-60)" font-size="21"><tspan font-style="italic">p</tspan>&lt;0.0001</text>
<text transform="translate(820.4,1267.3) rotate(-45)" font-size="34.5" text-anchor="end">Palmitoylcarnitine</text>
<line x1="981.0" y1="810.6" x2="1007.0" y2="810.6" stroke="#000" stroke-width="2.5" />
<circle cx="994.0" cy="810.6" r="4.1" fill="#000"/>
<line x1="1110.0" y1="810.6" x2="1136.0" y2="810.6" stroke="#1c12f5" stroke-width="2.5" />
<rect x="1118.2" y="805.8" width="9.5" height="9.5" fill="#1c12f5"/>
<line x1="981.0" y1="849.3" x2="1007.0" y2="849.3" stroke="#f21c1c" stroke-width="2.5" />
<polygon points="994.0,844.3 999.0,853.3 989.0,853.3" fill="#f21c1c"/>
<line x1="981.0" y1="887.0" x2="1007.0" y2="887.0" stroke="#5da6f2" stroke-width="2.5" />
<polygon points="994.0,892.0 999.0,883.0 989.0,883.0" fill="#5da6f2"/>
<text x="1022.5" y="822.6" font-size="34.5" >Ctrl</text>
<text x="1150.0" y="822.6" font-size="34.5" >TGFβ1</text>
<text x="1022.5" y="861.0" font-size="34.5" >TGFβ1+IL-6</text>
<text x="1022.5" y="899.6" font-size="34.5">TGFβ1+IL-6+KLHL25<tspan font-size="24.5" dy="-14">OE</tspan></text>
<line x1="987.0" y1="949.8" x2="987.0" y2="1195.8" stroke="#000" stroke-width="2.2" />
<line x1="980.0" y1="1194.8" x2="987.0" y2="1194.8" stroke="#000" stroke-width="2.2" />
<text x="975.5" y="1203.8" font-size="27" text-anchor="end" >0</text>
<line x1="980.0" y1="1145.9" x2="987.0" y2="1145.9" stroke="#000" stroke-width="2.2" />
<text x="975.5" y="1154.9" font-size="27" text-anchor="end" >50</text>
<line x1="980.0" y1="1097.0" x2="987.0" y2="1097.0" stroke="#000" stroke-width="2.2" />
<text x="975.5" y="1106.0" font-size="27" text-anchor="end" >100</text>
<line x1="980.0" y1="1048.1" x2="987.0" y2="1048.1" stroke="#000" stroke-width="2.2" />
<text x="975.5" y="1057.1" font-size="27" text-anchor="end" >150</text>
<line x1="980.0" y1="999.2" x2="987.0" y2="999.2" stroke="#000" stroke-width="2.2" />
<text x="975.5" y="1008.2" font-size="27" text-anchor="end" >200</text>
<line x1="980.0" y1="950.3" x2="987.0" y2="950.3" stroke="#000" stroke-width="2.2" />
<text x="975.5" y="959.3" font-size="27" text-anchor="end" >250</text>
<line x1="980.0" y1="1194.8" x2="1353.3" y2="1194.8" stroke="#000" stroke-width="2.2" />
<line x1="987.0" y1="1194.8" x2="987.0" y2="1201.8" stroke="#000" stroke-width="2.2" />
<text x="987.0" y="1234.3" font-size="35" text-anchor="middle" >0</text>
<line x1="1078.3" y1="1194.8" x2="1078.3" y2="1201.8" stroke="#000" stroke-width="2.2" />
<text x="1078.3" y="1234.3" font-size="35" text-anchor="middle" >20</text>
<line x1="1169.6" y1="1194.8" x2="1169.6" y2="1201.8" stroke="#000" stroke-width="2.2" />
<text x="1169.6" y="1234.3" font-size="35" text-anchor="middle" >40</text>
<line x1="1261.0" y1="1194.8" x2="1261.0" y2="1201.8" stroke="#000" stroke-width="2.2" />
<text x="1261.0" y="1234.3" font-size="35" text-anchor="middle" >60</text>
<line x1="1352.3" y1="1194.8" x2="1352.3" y2="1201.8" stroke="#000" stroke-width="2.2" />
<text x="1352.3" y="1234.3" font-size="35" text-anchor="middle" >80</text>
<text x="1170.0" y="1279.0" font-size="34.5" text-anchor="middle" >Time (minutes)</text>
<text transform="translate(925,1067) rotate(-90)" font-size="33" text-anchor="middle">OCR (pmoles/min)</text>
<line x1="1053.4" y1="968.5" x2="1053.4" y2="1191.5" stroke="#000" stroke-width="2.6" stroke-dasharray="6.5,4"/>
<line x1="1143.4" y1="968.5" x2="1143.4" y2="1191.5" stroke="#000" stroke-width="2.6" stroke-dasharray="6.5,4"/>
<line x1="1234.3" y1="968.5" x2="1234.3" y2="1191.5" stroke="#000" stroke-width="2.6" stroke-dasharray="6.5,4"/>
<text x="1023.5" y="967.0" font-size="34" >OligoFCCP Rot/Ant A</text>
<polyline points="994.3,1141.2 1024.4,1141.2 1053.7,1141.2 1085.2,1191.2 1115.8,1189.8 1145.0,1188.9 1175.6,1049.8 1205.7,1039.8 1235.8,1034.1 1266.9,1161.8 1297.0,1163.6 1327.2,1164.7" fill="none" stroke="#5da6f2" stroke-width="2.6" stroke-linejoin="round"/>
<line x1="994.3" y1="1138.3" x2="994.3" y2="1144.1" stroke="#5da6f2" stroke-width="2.2" />
<line x1="990.3" y1="1138.3" x2="998.3" y2="1138.3" stroke="#5da6f2" stroke-width="2.2" />
<line x1="990.3" y1="1144.1" x2="998.3" y2="1144.1" stroke="#5da6f2" stroke-width="2.2" />
<polygon points="994.3,1146.7 999.8,1136.8 988.8,1136.8" fill="#5da6f2"/>
<line x1="1024.4" y1="1138.3" x2="1024.4" y2="1144.1" stroke="#5da6f2" stroke-width="2.2" />
<line x1="1020.4" y1="1138.3" x2="1028.4" y2="1138.3" stroke="#5da6f2" stroke-width="2.2" />
<line x1="1020.4" y1="1144.1" x2="1028.4" y2="1144.1" stroke="#5da6f2" stroke-width="2.2" />
<polygon points="1024.4,1146.7 1029.9,1136.8 1018.9,1136.8" fill="#5da6f2"/>
<line x1="1053.7" y1="1138.3" x2="1053.7" y2="1144.1" stroke="#5da6f2" stroke-width="2.2" />
<line x1="1049.7" y1="1138.3" x2="1057.7" y2="1138.3" stroke="#5da6f2" stroke-width="2.2" />
<line x1="1049.7" y1="1144.1" x2="1057.7" y2="1144.1" stroke="#5da6f2" stroke-width="2.2" />
<polygon points="1053.7,1146.7 1059.2,1136.8 1048.2,1136.8" fill="#5da6f2"/>
<polygon points="1085.2,1196.7 1090.7,1186.8 1079.7,1186.8" fill="#5da6f2"/>
<polygon points="1115.8,1195.3 1121.3,1185.4 1110.3,1185.4" fill="#5da6f2"/>
<polygon points="1145.0,1194.4 1150.5,1184.5 1139.5,1184.5" fill="#5da6f2"/>
<line x1="1175.6" y1="1044.9" x2="1175.6" y2="1054.7" stroke="#5da6f2" stroke-width="2.2" />
<line x1="1171.6" y1="1044.9" x2="1179.6" y2="1044.9" stroke="#5da6f2" stroke-width="2.2" />
<line x1="1171.6" y1="1054.7" x2="1179.6" y2="1054.7" stroke="#5da6f2" stroke-width="2.2" />
<polygon points="1175.6,1055.3 1181.1,1045.4 1170.1,1045.4" fill="#5da6f2"/>
<line x1="1205.7" y1="1034.9" x2="1205.7" y2="1044.7" stroke="#5da6f2" stroke-width="2.2" />
<line x1="1201.7" y1="1034.9" x2="1209.7" y2="1034.9" stroke="#5da6f2" stroke-width="2.2" />
<line x1="1201.7" y1="1044.7" x2="1209.7" y2="1044.7" stroke="#5da6f2" stroke-width="2.2" />
<polygon points="1205.7,1045.3 1211.2,1035.4 1200.2,1035.4" fill="#5da6f2"/>
<line x1="1235.8" y1="1029.2" x2="1235.8" y2="1039.0" stroke="#5da6f2" stroke-width="2.2" />
<line x1="1231.8" y1="1029.2" x2="1239.8" y2="1029.2" stroke="#5da6f2" stroke-width="2.2" />
<line x1="1231.8" y1="1039.0" x2="1239.8" y2="1039.0" stroke="#5da6f2" stroke-width="2.2" />
<polygon points="1235.8,1039.6 1241.3,1029.7 1230.3,1029.7" fill="#5da6f2"/>
<line x1="1266.9" y1="1158.9" x2="1266.9" y2="1164.8" stroke="#5da6f2" stroke-width="2.2" />
<line x1="1262.9" y1="1158.9" x2="1270.9" y2="1158.9" stroke="#5da6f2" stroke-width="2.2" />
<line x1="1262.9" y1="1164.8" x2="1270.9" y2="1164.8" stroke="#5da6f2" stroke-width="2.2" />
<polygon points="1266.9,1167.3 1272.4,1157.4 1261.4,1157.4" fill="#5da6f2"/>
<line x1="1297.0" y1="1160.7" x2="1297.0" y2="1166.5" stroke="#5da6f2" stroke-width="2.2" />
<line x1="1293.0" y1="1160.7" x2="1301.0" y2="1160.7" stroke="#5da6f2" stroke-width="2.2" />
<line x1="1293.0" y1="1166.5" x2="1301.0" y2="1166.5" stroke="#5da6f2" stroke-width="2.2" />
<polygon points="1297.0,1169.1 1302.5,1159.2 1291.5,1159.2" fill="#5da6f2"/>
<line x1="1327.2" y1="1161.7" x2="1327.2" y2="1167.6" stroke="#5da6f2" stroke-width="2.2" />
<line x1="1323.2" y1="1161.7" x2="1331.2" y2="1161.7" stroke="#5da6f2" stroke-width="2.2" />
<line x1="1323.2" y1="1167.6" x2="1331.2" y2="1167.6" stroke="#5da6f2" stroke-width="2.2" />
<polygon points="1327.2,1170.2 1332.7,1160.3 1321.7,1160.3" fill="#5da6f2"/>
<polyline points="994.3,1152.7 1024.4,1153.3 1053.7,1152.2 1085.2,1191.2 1115.8,1188.3 1145.0,1187.0 1175.6,1090.3 1205.7,1079.8 1235.8,1074.1 1266.9,1182.7 1297.0,1182.7 1327.2,1181.3" fill="none" stroke="#f21c1c" stroke-width="2.6" stroke-linejoin="round"/>
<line x1="994.3" y1="1150.8" x2="994.3" y2="1154.7" stroke="#f21c1c" stroke-width="2.2" />
<line x1="990.3" y1="1150.8" x2="998.3" y2="1150.8" stroke="#f21c1c" stroke-width="2.2" />
<line x1="990.3" y1="1154.7" x2="998.3" y2="1154.7" stroke="#f21c1c" stroke-width="2.2" />
<polygon points="994.3,1147.2 999.8,1157.1 988.8,1157.1" fill="#f21c1c"/>
<line x1="1024.4" y1="1151.4" x2="1024.4" y2="1155.3" stroke="#f21c1c" stroke-width="2.2" />
<line x1="1020.4" y1="1151.4" x2="1028.4" y2="1151.4" stroke="#f21c1c" stroke-width="2.2" />
<line x1="1020.4" y1="1155.3" x2="1028.4" y2="1155.3" stroke="#f21c1c" stroke-width="2.2" />
<polygon points="1024.4,1147.8 1029.9,1157.7 1018.9,1157.7" fill="#f21c1c"/>
<line x1="1053.7" y1="1150.2" x2="1053.7" y2="1154.1" stroke="#f21c1c" stroke-width="2.2" />
<line x1="1049.7" y1="1150.2" x2="1057.7" y2="1150.2" stroke="#f21c1c" stroke-width="2.2" />
<line x1="1049.7" y1="1154.1" x2="1057.7" y2="1154.1" stroke="#f21c1c" stroke-width="2.2" />
<polygon points="1053.7,1146.7 1059.2,1156.6 1048.2,1156.6" fill="#f21c1c"/>
<polygon points="1085.2,1185.7 1090.7,1195.6 1079.7,1195.6" fill="#f21c1c"/>
<polygon points="1115.8,1182.8 1121.3,1192.7 1110.3,1192.7" fill="#f21c1c"/>
<polygon points="1145.0,1181.5 1150.5,1191.4 1139.5,1191.4" fill="#f21c1c"/>
<line x1="1175.6" y1="1087.4" x2="1175.6" y2="1093.3" stroke="#f21c1c" stroke-width="2.2" />
<line x1="1171.6" y1="1087.4" x2="1179.6" y2="1087.4" stroke="#f21c1c" stroke-width="2.2" />
<line x1="1171.6" y1="1093.3" x2="1179.6" y2="1093.3" stroke="#f21c1c" stroke-width="2.2" />
<polygon points="1175.6,1084.8 1181.1,1094.7 1170.1,1094.7" fill="#f21c1c"/>
<line x1="1205.7" y1="1076.9" x2="1205.7" y2="1082.7" stroke="#f21c1c" stroke-width="2.2" />
<line x1="1201.7" y1="1076.9" x2="1209.7" y2="1076.9" stroke="#f21c1c" stroke-width="2.2" />
<line x1="1201.7" y1="1082.7" x2="1209.7" y2="1082.7" stroke="#f21c1c" stroke-width="2.2" />
<polygon points="1205.7,1074.3 1211.2,1084.2 1200.2,1084.2" fill="#f21c1c"/>
<line x1="1235.8" y1="1071.2" x2="1235.8" y2="1077.0" stroke="#f21c1c" stroke-width="2.2" />
<line x1="1231.8" y1="1071.2" x2="1239.8" y2="1071.2" stroke="#f21c1c" stroke-width="2.2" />
<line x1="1231.8" y1="1077.0" x2="1239.8" y2="1077.0" stroke="#f21c1c" stroke-width="2.2" />
<polygon points="1235.8,1068.6 1241.3,1078.5 1230.3,1078.5" fill="#f21c1c"/>
<polygon points="1266.9,1177.2 1272.4,1187.1 1261.4,1187.1" fill="#f21c1c"/>
<polygon points="1297.0,1177.2 1302.5,1187.1 1291.5,1187.1" fill="#f21c1c"/>
<polygon points="1327.2,1175.8 1332.7,1185.7 1321.7,1185.7" fill="#f21c1c"/>
<polyline points="994.3,1148.3 1024.4,1149.2 1053.7,1147.0 1085.2,1192.6 1115.8,1191.2 1145.0,1190.4 1175.6,1028.3 1205.7,1015.5 1235.8,1010.4 1266.9,1164.7 1297.0,1172.1 1327.2,1174.1" fill="none" stroke="#1c12f5" stroke-width="2.6" stroke-linejoin="round"/>
<line x1="994.3" y1="1144.4" x2="994.3" y2="1152.3" stroke="#1c12f5" stroke-width="2.2" />
<line x1="990.3" y1="1144.4" x2="998.3" y2="1144.4" stroke="#1c12f5" stroke-width="2.2" />
<line x1="990.3" y1="1152.3" x2="998.3" y2="1152.3" stroke="#1c12f5" stroke-width="2.2" />
<rect x="989.0" y="1143.0" width="10.6" height="10.6" fill="#1c12f5"/>
<line x1="1024.4" y1="1145.3" x2="1024.4" y2="1153.1" stroke="#1c12f5" stroke-width="2.2" />
<line x1="1020.4" y1="1145.3" x2="1028.4" y2="1145.3" stroke="#1c12f5" stroke-width="2.2" />
<line x1="1020.4" y1="1153.1" x2="1028.4" y2="1153.1" stroke="#1c12f5" stroke-width="2.2" />
<rect x="1019.1" y="1143.9" width="10.6" height="10.6" fill="#1c12f5"/>
<line x1="1053.7" y1="1143.1" x2="1053.7" y2="1150.9" stroke="#1c12f5" stroke-width="2.2" />
<line x1="1049.7" y1="1143.1" x2="1057.7" y2="1143.1" stroke="#1c12f5" stroke-width="2.2" />
<line x1="1049.7" y1="1150.9" x2="1057.7" y2="1150.9" stroke="#1c12f5" stroke-width="2.2" />
<rect x="1048.4" y="1141.7" width="10.6" height="10.6" fill="#1c12f5"/>
<rect x="1079.9" y="1187.3" width="10.6" height="10.6" fill="#1c12f5"/>
<rect x="1110.5" y="1185.9" width="10.6" height="10.6" fill="#1c12f5"/>
<rect x="1139.7" y="1185.1" width="10.6" height="10.6" fill="#1c12f5"/>
<line x1="1175.6" y1="1024.4" x2="1175.6" y2="1032.3" stroke="#1c12f5" stroke-width="2.2" />
<line x1="1171.6" y1="1024.4" x2="1179.6" y2="1024.4" stroke="#1c12f5" stroke-width="2.2" />
<line x1="1171.6" y1="1032.3" x2="1179.6" y2="1032.3" stroke="#1c12f5" stroke-width="2.2" />
<rect x="1170.3" y="1023.0" width="10.6" height="10.6" fill="#1c12f5"/>
<line x1="1205.7" y1="1012.6" x2="1205.7" y2="1018.5" stroke="#1c12f5" stroke-width="2.2" />
<line x1="1201.7" y1="1012.6" x2="1209.7" y2="1012.6" stroke="#1c12f5" stroke-width="2.2" />
<line x1="1201.7" y1="1018.5" x2="1209.7" y2="1018.5" stroke="#1c12f5" stroke-width="2.2" />
<rect x="1200.4" y="1010.2" width="10.6" height="10.6" fill="#1c12f5"/>
<line x1="1235.8" y1="998.7" x2="1235.8" y2="1022.2" stroke="#1c12f5" stroke-width="2.2" />
<line x1="1231.8" y1="998.7" x2="1239.8" y2="998.7" stroke="#1c12f5" stroke-width="2.2" />
<line x1="1231.8" y1="1022.2" x2="1239.8" y2="1022.2" stroke="#1c12f5" stroke-width="2.2" />
<rect x="1230.5" y="1005.1" width="10.6" height="10.6" fill="#1c12f5"/>
<line x1="1266.9" y1="1161.7" x2="1266.9" y2="1167.6" stroke="#1c12f5" stroke-width="2.2" />
<line x1="1262.9" y1="1161.7" x2="1270.9" y2="1161.7" stroke="#1c12f5" stroke-width="2.2" />
<line x1="1262.9" y1="1167.6" x2="1270.9" y2="1167.6" stroke="#1c12f5" stroke-width="2.2" />
<rect x="1261.6" y="1159.4" width="10.6" height="10.6" fill="#1c12f5"/>
<line x1="1297.0" y1="1168.2" x2="1297.0" y2="1176.0" stroke="#1c12f5" stroke-width="2.2" />
<line x1="1293.0" y1="1168.2" x2="1301.0" y2="1168.2" stroke="#1c12f5" stroke-width="2.2" />
<line x1="1293.0" y1="1176.0" x2="1301.0" y2="1176.0" stroke="#1c12f5" stroke-width="2.2" />
<rect x="1291.7" y="1166.8" width="10.6" height="10.6" fill="#1c12f5"/>
<line x1="1327.2" y1="1170.2" x2="1327.2" y2="1178.0" stroke="#1c12f5" stroke-width="2.2" />
<line x1="1323.2" y1="1170.2" x2="1331.2" y2="1170.2" stroke="#1c12f5" stroke-width="2.2" />
<line x1="1323.2" y1="1178.0" x2="1331.2" y2="1178.0" stroke="#1c12f5" stroke-width="2.2" />
<rect x="1321.9" y="1168.8" width="10.6" height="10.6" fill="#1c12f5"/>
<polyline points="994.3,1159.8 1024.4,1158.4 1053.7,1158.4 1085.2,1193.2 1115.8,1192.6 1145.0,1191.2 1175.6,1082.1 1205.7,1071.2 1235.8,1064.1 1266.9,1177.2 1297.0,1180.4 1327.2,1179.2" fill="none" stroke="#000" stroke-width="2.6" stroke-linejoin="round"/>
<line x1="994.3" y1="1157.8" x2="994.3" y2="1161.7" stroke="#000" stroke-width="2.2" />
<line x1="990.3" y1="1157.8" x2="998.3" y2="1157.8" stroke="#000" stroke-width="2.2" />
<line x1="990.3" y1="1161.7" x2="998.3" y2="1161.7" stroke="#000" stroke-width="2.2" />
<circle cx="994.3" cy="1159.8" r="4.6" fill="#000"/>
<circle cx="1024.4" cy="1158.4" r="4.6" fill="#000"/>
<circle cx="1053.7" cy="1158.4" r="4.6" fill="#000"/>
<circle cx="1085.2" cy="1193.2" r="4.6" fill="#000"/>
<circle cx="1115.8" cy="1192.6" r="4.6" fill="#000"/>
<circle cx="1145.0" cy="1191.2" r="4.6" fill="#000"/>
<line x1="1175.6" y1="1080.2" x2="1175.6" y2="1084.1" stroke="#000" stroke-width="2.2" />
<line x1="1171.6" y1="1080.2" x2="1179.6" y2="1080.2" stroke="#000" stroke-width="2.2" />
<line x1="1171.6" y1="1084.1" x2="1179.6" y2="1084.1" stroke="#000" stroke-width="2.2" />
<circle cx="1175.6" cy="1082.1" r="4.6" fill="#000"/>
<line x1="1205.7" y1="1069.2" x2="1205.7" y2="1073.1" stroke="#000" stroke-width="2.2" />
<line x1="1201.7" y1="1069.2" x2="1209.7" y2="1069.2" stroke="#000" stroke-width="2.2" />
<line x1="1201.7" y1="1073.1" x2="1209.7" y2="1073.1" stroke="#000" stroke-width="2.2" />
<circle cx="1205.7" cy="1071.2" r="4.6" fill="#000"/>
<line x1="1235.8" y1="1062.2" x2="1235.8" y2="1066.1" stroke="#000" stroke-width="2.2" />
<line x1="1231.8" y1="1062.2" x2="1239.8" y2="1062.2" stroke="#000" stroke-width="2.2" />
<line x1="1231.8" y1="1066.1" x2="1239.8" y2="1066.1" stroke="#000" stroke-width="2.2" />
<circle cx="1235.8" cy="1064.1" r="4.6" fill="#000"/>
<circle cx="1266.9" cy="1177.2" r="4.6" fill="#000"/>
<circle cx="1297.0" cy="1180.4" r="4.6" fill="#000"/>
<circle cx="1327.2" cy="1179.2" r="4.6" fill="#000"/>
<line x1="1550.0" y1="880.8" x2="1550.0" y2="1143.0" stroke="#000" stroke-width="2.2" />
<line x1="1543.3" y1="1142.0" x2="1550.0" y2="1142.0" stroke="#000" stroke-width="2.2" />
<text x="1538.5" y="1152.0" font-size="28" text-anchor="end" >0</text>
<line x1="1543.3" y1="1077.0" x2="1550.0" y2="1077.0" stroke="#000" stroke-width="2.2" />
<text x="1538.5" y="1087.0" font-size="28" text-anchor="end" >50</text>
<line x1="1543.3" y1="1012.0" x2="1550.0" y2="1012.0" stroke="#000" stroke-width="2.2" />
<text x="1538.5" y="1022.0" font-size="28" text-anchor="end" >100</text>
<line x1="1543.3" y1="947.0" x2="1550.0" y2="947.0" stroke="#000" stroke-width="2.2" />
<text x="1538.5" y="957.0" font-size="28" text-anchor="end" >150</text>
<line x1="1543.3" y1="882.0" x2="1550.0" y2="882.0" stroke="#000" stroke-width="2.2" />
<text x="1538.5" y="892.0" font-size="28" text-anchor="end" >200</text>
<line x1="1542.8" y1="1142.0" x2="1742.6" y2="1142.0" stroke="#000" stroke-width="2.2" />
<line x1="1574.0" y1="1142.0" x2="1574.0" y2="1149.5" stroke="#000" stroke-width="2.2" />
<rect x="1562.3" y="985.7" width="23.4" height="156.3" fill="#a3a3a8" />
<line x1="1621.8" y1="1142.0" x2="1621.8" y2="1149.5" stroke="#000" stroke-width="2.2" />
<rect x="1610.1" y="926.5" width="23.4" height="215.5" fill="#5f50fc" />
<line x1="1669.6" y1="1142.0" x2="1669.6" y2="1149.5" stroke="#000" stroke-width="2.2" />
<rect x="1657.9" y="998.0" width="23.4" height="144.0" fill="#f07a80" />
<line x1="1717.4" y1="1142.0" x2="1717.4" y2="1149.5" stroke="#000" stroke-width="2.2" />
<rect x="1705.7" y="966.8" width="23.4" height="175.2" fill="#94c3f8" />
<circle cx="1569.0" cy="987.3" r="5.2" fill="#fff" stroke="#000" stroke-width="1.2"/>
<circle cx="1580.0" cy="984.7" r="5.2" fill="#fff" stroke="#000" stroke-width="1.2"/>
<circle cx="1574.0" cy="985.4" r="5.2" fill="#fff" stroke="#000" stroke-width="1.2"/>
<line x1="1574.0" y1="985.7" x2="1574.0" y2="983.1" stroke="#000" stroke-width="2.8" />
<rect x="1568.0" y="981.1" width="12.0" height="4.2" fill="#000" />
<circle cx="1615.8" cy="926.2" r="5.2" fill="#fff" stroke="#000" stroke-width="1.2"/>
<circle cx="1627.8" cy="926.2" r="5.2" fill="#fff" stroke="#000" stroke-width="1.2"/>
<circle cx="1621.8" cy="925.5" r="5.2" fill="#fff" stroke="#000" stroke-width="1.2"/>
<line x1="1621.8" y1="926.5" x2="1621.8" y2="924.5" stroke="#000" stroke-width="2.8" />
<rect x="1615.8" y="922.5" width="12.0" height="4.2" fill="#000" />
<circle cx="1669.6" cy="1008.4" r="5.2" fill="#fff" stroke="#000" stroke-width="1.2"/>
<circle cx="1669.6" cy="984.7" r="5.2" fill="#fff" stroke="#000" stroke-width="1.2"/>
<circle cx="1669.6" cy="988.6" r="5.2" fill="#fff" stroke="#000" stroke-width="1.2"/>
<line x1="1669.6" y1="998.0" x2="1669.6" y2="982.4" stroke="#000" stroke-width="2.8" />
<rect x="1663.6" y="980.4" width="12.0" height="4.2" fill="#000" />
<circle cx="1717.4" cy="977.9" r="5.2" fill="#fff" stroke="#000" stroke-width="1.2"/>
<circle cx="1717.4" cy="956.1" r="5.2" fill="#fff" stroke="#000" stroke-width="1.2"/>
<circle cx="1717.4" cy="952.2" r="5.2" fill="#fff" stroke="#000" stroke-width="1.2"/>
<line x1="1717.4" y1="966.8" x2="1717.4" y2="949.9" stroke="#000" stroke-width="2.8" />
<rect x="1711.4" y="947.9" width="12.0" height="4.2" fill="#000" />
<line x1="1576.8" y1="905.5" x2="1619.4" y2="905.5" stroke="#000" stroke-width="2.2" />
<text x="1564.9" y="897.7" font-size="25"><tspan font-style="italic">p</tspan>=0.0057</text>
<line x1="1625.5" y1="871.0" x2="1668.1" y2="871.0" stroke="#000" stroke-width="2.2" />
<text x="1586.5" y="862.3" font-size="25"><tspan font-style="italic">p</tspan>=0.0029</text>
<line x1="1674.9" y1="837.6" x2="1717.5" y2="837.6" stroke="#000" stroke-width="2.2" />
<text x="1618.4" y="829.8" font-size="25"><tspan font-style="italic">p</tspan>=0.0462</text>
<text transform="translate(1433.5,1006) rotate(-90)" font-size="35.7" text-anchor="middle">Max PA-OCR</text>
<text transform="translate(1474.5,1006) rotate(-90)" font-size="35.7" text-anchor="middle">(pmoles/min)</text>
<text x="1543.5" y="1191.0" font-size="33.5" text-anchor="end" >TGFβ1</text>
<text x="1544.5" y="1236.9" font-size="34.5" text-anchor="end" >IL-6</text>
<text x="1544.5" y="1279.8" font-size="34" text-anchor="end">KLHL25<tspan font-size="21.5" dy="-7.5">OE</tspan></text>
<text x="1574.0" y="1189.6" font-size="31" text-anchor="middle" >-</text>
<text x="1621.8" y="1191.4" font-size="31" text-anchor="middle" >+</text>
<text x="1669.6" y="1191.4" font-size="31" text-anchor="middle" >+</text>
<text x="1717.4" y="1191.4" font-size="31" text-anchor="middle" >+</text>
<text x="1574.0" y="1235.5" font-size="31" text-anchor="middle" >-</text>
<text x="1621.8" y="1235.5" font-size="31" text-anchor="middle" >-</text>
<text x="1669.6" y="1237.3" font-size="31" text-anchor="middle" >+</text>
<text x="1717.4" y="1237.3" font-size="31" text-anchor="middle" >+</text>
<text x="1574.0" y="1278.5" font-size="31" text-anchor="middle" >-</text>
<text x="1621.8" y="1278.5" font-size="31" text-anchor="middle" >-</text>
<text x="1669.6" y="1278.5" font-size="31" text-anchor="middle" >-</text>
<text x="1717.4" y="1280.3" font-size="31" text-anchor="middle" >+</text>
<text x="312.5" y="1537.0" font-size="34" text-anchor="end" >TGFβ1</text>
<text x="313.5" y="1585.8" font-size="34.5" text-anchor="end" >IL-6</text>
<text x="313" y="1634.3" font-size="34" text-anchor="end">KLHL25<tspan font-size="21.5" dy="-7.8">OE</tspan></text>
<text x="314.5" y="1682.2" font-size="34.5" text-anchor="end" >MCoA</text>
<text x="425.7" y="1537.8" font-size="32" text-anchor="middle" >+</text>
<text x="652.9" y="1537.8" font-size="32" text-anchor="middle" >+</text>
<text x="882.9" y="1537.8" font-size="32" text-anchor="middle" >+</text>
<text x="1118.3" y="1537.8" font-size="32" text-anchor="middle" >+</text>
<text x="425.7" y="1579.9" font-size="32" text-anchor="middle" >-</text>
<text x="652.9" y="1581.8" font-size="32" text-anchor="middle" >+</text>
<text x="882.9" y="1581.8" font-size="32" text-anchor="middle" >+</text>
<text x="1118.3" y="1581.8" font-size="32" text-anchor="middle" >+</text>
<text x="425.7" y="1624.8" font-size="32" text-anchor="middle" >-</text>
<text x="652.9" y="1624.8" font-size="32" text-anchor="middle" >-</text>
<text x="882.9" y="1626.7" font-size="32" text-anchor="middle" >+</text>
<text x="1118.3" y="1626.7" font-size="32" text-anchor="middle" >+</text>
<text x="425.7" y="1673.0" font-size="32" text-anchor="middle" >-</text>
<text x="652.9" y="1673.0" font-size="32" text-anchor="middle" >-</text>
<text x="882.9" y="1673.0" font-size="32" text-anchor="middle" >-</text>
<text x="1118.3" y="1674.9" font-size="32" text-anchor="middle" >+</text>
<path d="M458.8,1871.5 L451.8,1872.2 L443.8,1872.0 L417.8,1867.7 L401.8,1865.9 L396.8,1864.0 L393.4,1861.4 L391.6,1858.4 L391.2,1856.4 L391.5,1854.4 L393.1,1851.4 L396.8,1848.2 L401.8,1845.9 L412.9,1842.4 L420.1,1839.4 L424.7,1836.4 L434.8,1828.6 L442.8,1823.8 L447.8,1821.8 L452.8,1820.6 L457.8,1820.3 L463.8,1821.1 L467.8,1822.5 L471.8,1824.8 L474.7,1827.4 L477.0,1830.4 L478.5,1833.4 L479.6,1837.4 L480.1,1841.4 L479.9,1846.4 L477.7,1858.4 L476.6,1861.4 L475.3,1863.4 L472.8,1865.8 L468.8,1868.3 L464.8,1870.0 L458.8,1871.5Z M455.8,1869.5 L449.8,1870.0 L443.8,1869.6 L417.8,1864.7 L403.8,1863.2 L400.8,1862.2 L397.8,1860.3 L396.4,1858.4 L395.9,1855.4 L397.5,1852.4 L400.0,1850.4 L403.8,1848.6 L416.8,1844.4 L423.6,1841.4 L426.8,1839.4 L437.8,1830.9 L444.8,1826.8 L449.8,1824.8 L453.8,1824.0 L457.8,1823.8 L461.8,1824.3 L465.8,1825.7 L468.8,1827.4 L471.1,1829.4 L473.4,1832.4 L474.7,1835.4 L475.5,1838.4 L475.9,1842.4 L475.6,1846.4 L473.2,1858.4 L471.3,1862.4 L468.8,1864.8 L464.8,1867.1 L459.8,1868.8 L455.8,1869.5Z M451.8,1868.4 L446.8,1868.4 L441.8,1867.9 L417.8,1862.7 L404.8,1861.0 L401.8,1859.7 L400.3,1858.4 L399.7,1857.4 L399.5,1855.4 L400.6,1853.4 L403.5,1851.4 L417.5,1846.4 L426.3,1842.4 L438.8,1832.9 L445.8,1828.8 L449.8,1827.2 L453.8,1826.3 L457.8,1826.1 L461.8,1826.7 L465.8,1828.4 L468.8,1830.7 L470.9,1833.4 L472.6,1837.4 L473.2,1841.4 L473.1,1845.4 L470.7,1857.4 L469.0,1861.4 L467.2,1863.4 L464.8,1865.1 L458.8,1867.4 L451.8,1868.4Z M457.8,1866.4 L453.8,1867.2 L448.8,1867.4 L439.8,1866.3 L417.8,1860.9 L406.8,1859.0 L403.9,1857.4 L403.4,1856.4 L403.5,1855.4 L404.8,1853.7 L406.8,1852.6 L416.8,1848.7 L427.8,1843.5 L439.8,1834.4 L445.8,1830.7 L449.8,1829.0 L452.8,1828.2 L456.8,1827.9 L459.8,1828.2 L464.8,1830.1 L468.4,1833.4 L469.6,1835.4 L470.7,1838.4 L471.1,1844.4 L468.6,1857.4 L467.4,1860.4 L465.8,1862.4 L463.8,1864.0 L460.8,1865.5 L457.8,1866.4Z M450.8,1866.4 L444.8,1866.1 L437.8,1864.7 L412.8,1857.4 L410.7,1856.4 L410.1,1855.4 L410.8,1854.4 L413.8,1852.4 L429.8,1844.1 L439.8,1836.2 L445.8,1832.4 L448.8,1831.0 L452.8,1829.8 L456.8,1829.5 L459.8,1829.8 L462.8,1831.0 L465.8,1833.1 L467.5,1835.4 L468.8,1838.4 L469.4,1841.4 L469.3,1845.4 L466.8,1857.4 L466.0,1859.4 L464.8,1861.3 L461.8,1863.7 L456.8,1865.6 L450.8,1866.4Z M452.8,1865.4 L444.8,1865.3 L435.8,1863.1 L421.4,1858.4 L417.8,1856.4 L417.0,1855.4 L416.9,1854.4 L417.3,1853.4 L419.5,1851.4 L430.8,1845.1 L440.8,1837.0 L445.8,1833.8 L449.8,1832.0 L452.8,1831.2 L456.8,1830.9 L459.8,1831.4 L463.8,1833.5 L465.6,1835.4 L466.7,1837.4 L467.8,1842.4 L467.4,1847.4 L465.1,1857.4 L463.7,1860.4 L461.8,1862.3 L459.8,1863.5 L456.8,1864.7 L452.8,1865.4Z M453.8,1864.4 L449.8,1864.8 L445.8,1864.6 L436.9,1862.4 L423.4,1857.4 L421.1,1855.4 L420.8,1854.4 L421.1,1853.4 L422.9,1851.4 L431.8,1846.0 L441.0,1838.4 L446.8,1834.7 L450.8,1833.0 L453.8,1832.4 L456.8,1832.3 L459.8,1832.9 L461.8,1833.9 L463.6,1835.4 L465.5,1838.4 L466.4,1842.4 L466.0,1847.4 L463.6,1857.4 L462.1,1860.4 L458.8,1862.9 L453.8,1864.4Z M453.8,1863.6 L446.8,1863.9 L438.8,1862.0 L427.2,1857.4 L424.7,1855.4 L424.3,1854.4 L424.4,1853.4 L426.1,1851.4 L432.8,1846.8 L440.8,1840.0 L445.8,1836.5 L449.8,1834.6 L452.8,1833.8 L455.8,1833.6 L458.8,1834.1 L461.8,1835.8 L463.9,1838.4 L465.0,1842.4 L464.8,1846.4 L462.4,1856.4 L461.2,1859.4 L459.8,1861.0 L457.8,1862.3 L453.8,1863.6Z M454.8,1862.5 L451.8,1863.1 L447.8,1863.2 L440.8,1861.8 L434.9,1859.4 L429.2,1856.4 L428.1,1855.4 L427.6,1854.4 L427.7,1853.4 L429.1,1851.4 L441.8,1840.6 L445.8,1837.8 L451.8,1835.3 L454.8,1834.9 L457.8,1835.2 L460.8,1836.9 L462.7,1839.4 L463.6,1842.4 L463.6,1845.4 L460.3,1858.4 L457.8,1861.1 L454.8,1862.5Z M449.8,1862.4 L443.8,1861.7 L437.7,1859.4 L432.5,1856.4 L430.9,1854.4 L430.9,1853.4 L433.0,1850.4 L440.8,1842.9 L444.8,1839.8 L450.8,1836.8 L453.8,1836.2 L456.8,1836.5 L459.8,1838.0 L461.8,1841.1 L462.3,1844.4 L461.5,1849.4 L459.3,1857.4 L458.0,1859.4 L454.8,1861.5 L449.8,1862.4Z M450.8,1861.5 L445.8,1861.2 L440.3,1859.4 L435.5,1856.4 L434.0,1854.4 L433.9,1853.4 L434.7,1851.4 L437.1,1848.4 L440.9,1844.4 L444.8,1841.1 L447.8,1839.3 L450.8,1838.1 L453.8,1837.6 L455.8,1837.7 L458.8,1839.3 L460.3,1841.4 L460.9,1844.4 L460.7,1847.4 L458.1,1856.4 L457.1,1858.4 L454.8,1860.4 L450.8,1861.5Z M450.8,1860.5 L445.8,1860.2 L441.1,1858.4 L437.4,1855.4 L436.9,1854.4 L436.8,1852.4 L437.7,1850.4 L439.9,1847.4 L445.0,1842.4 L449.8,1839.7 L452.8,1839.0 L454.8,1839.1 L457.6,1840.4 L458.8,1842.1 L459.4,1844.4 L459.2,1847.4 L456.0,1857.4 L454.0,1859.4 L450.8,1860.5Z M448.8,1859.4 L444.2,1858.4 L441.1,1856.4 L439.6,1854.4 L439.3,1853.4 L439.5,1851.4 L440.5,1849.4 L442.6,1846.4 L446.8,1842.7 L450.8,1840.9 L452.8,1840.6 L454.8,1840.9 L456.8,1842.3 L457.7,1844.4 L457.8,1846.4 L457.2,1849.4 L455.1,1855.4 L454.0,1857.4 L451.8,1858.9 L448.8,1859.4Z M449.8,1857.6 L446.8,1857.5 L444.4,1856.4 L442.6,1854.4 L442.1,1851.4 L443.3,1848.4 L445.8,1845.3 L448.8,1843.3 L450.8,1842.6 L452.8,1842.5 L454.8,1843.3 L455.6,1844.4 L455.9,1847.4 L452.8,1855.3 L451.8,1856.6 L449.8,1857.6Z" fill="none" stroke="#505050" stroke-width="0.75"/>
<path d="M334.8,1840.9 L336.8,1841.4 L338.8,1842.8 L341.7,1847.4 L343.6,1853.4 L344.5,1862.4 L343.6,1871.4 L341.7,1877.4 L338.8,1882.0 L336.8,1883.4 L334.8,1883.9 M334.8,1843.1 L336.8,1843.6 L337.9,1844.4 L339.8,1846.6 L341.2,1849.4 L343.1,1856.4 L343.5,1862.4 L343.1,1868.4 L341.2,1875.4 L339.8,1878.2 L337.9,1880.4 L336.8,1881.2 L334.8,1881.7 M334.8,1845.5 L336.8,1846.1 L337.8,1846.9 L340.1,1850.4 L341.9,1856.4 L342.4,1862.4 L341.9,1868.4 L340.1,1874.4 L337.8,1877.9 L336.8,1878.7 L334.8,1879.3 M334.8,1848.4 L336.8,1849.1 L339.2,1852.4 L340.5,1856.4 L341.1,1862.4 L340.5,1868.4 L339.2,1872.4 L336.8,1875.7 L334.8,1876.4 M334.8,1852.0 L336.8,1853.0 L338.3,1855.4 L339.1,1858.4 L339.5,1862.4 L339.1,1866.4 L338.3,1869.4 L336.8,1871.8 L334.8,1872.8 M334.8,1857.8 L335.8,1858.4 L336.3,1859.4 L336.9,1862.4 L336.3,1865.4 L335.8,1866.4 L334.8,1867.0" fill="none" stroke="#666" stroke-width="0.7"/>
<rect x="334.8" y="1852.4" width="3.0" height="10.0" fill="#000" />
<rect x="334.8" y="1707.4" width="194" height="194" fill="none" stroke="#222" stroke-width="1.3"/>
<line x1="419.6" y1="1707.4" x2="419.6" y2="1901.4" stroke="#000" stroke-width="1.8" />
<line x1="334.8" y1="1819.4" x2="528.8" y2="1819.4" stroke="#000" stroke-width="1.8" />
<text x="505.3" y="1748.1" font-size="34" text-anchor="end" >2.06</text>
<line x1="329.8" y1="1725.3" x2="334.8" y2="1725.3" stroke="#000" stroke-width="1.3" />
<line x1="329.8" y1="1772.6" x2="334.8" y2="1772.6" stroke="#000" stroke-width="1.3" />
<line x1="329.8" y1="1822.0" x2="334.8" y2="1822.0" stroke="#000" stroke-width="1.3" />
<line x1="329.8" y1="1857.0" x2="334.8" y2="1857.0" stroke="#000" stroke-width="1.3" />
<line x1="329.8" y1="1889.5" x2="334.8" y2="1889.5" stroke="#000" stroke-width="1.3" />
<line x1="332.0" y1="1758.4" x2="334.8" y2="1758.4" stroke="#000" stroke-width="0.9" />
<line x1="332.0" y1="1750.0" x2="334.8" y2="1750.0" stroke="#000" stroke-width="0.9" />
<line x1="332.0" y1="1744.1" x2="334.8" y2="1744.1" stroke="#000" stroke-width="0.9" />
<line x1="332.0" y1="1739.5" x2="334.8" y2="1739.5" stroke="#000" stroke-width="0.9" />
<line x1="332.0" y1="1735.8" x2="334.8" y2="1735.8" stroke="#000" stroke-width="0.9" />
<line x1="332.0" y1="1732.6" x2="334.8" y2="1732.6" stroke="#000" stroke-width="0.9" />
<line x1="332.0" y1="1729.9" x2="334.8" y2="1729.9" stroke="#000" stroke-width="0.9" />
<line x1="332.0" y1="1727.5" x2="334.8" y2="1727.5" stroke="#000" stroke-width="0.9" />
<line x1="332.0" y1="1807.1" x2="334.8" y2="1807.1" stroke="#000" stroke-width="0.9" />
<line x1="332.0" y1="1798.4" x2="334.8" y2="1798.4" stroke="#000" stroke-width="0.9" />
<line x1="332.0" y1="1792.3" x2="334.8" y2="1792.3" stroke="#000" stroke-width="0.9" />
<line x1="332.0" y1="1787.5" x2="334.8" y2="1787.5" stroke="#000" stroke-width="0.9" />
<line x1="332.0" y1="1783.6" x2="334.8" y2="1783.6" stroke="#000" stroke-width="0.9" />
<line x1="332.0" y1="1780.3" x2="334.8" y2="1780.3" stroke="#000" stroke-width="0.9" />
<line x1="332.0" y1="1777.4" x2="334.8" y2="1777.4" stroke="#000" stroke-width="0.9" />
<line x1="332.0" y1="1774.9" x2="334.8" y2="1774.9" stroke="#000" stroke-width="0.9" />
<line x1="332.0" y1="1715.9" x2="334.8" y2="1715.9" stroke="#000" stroke-width="0.9" />
<line x1="332.0" y1="1719.9" x2="334.8" y2="1719.9" stroke="#000" stroke-width="0.9" />
<line x1="332.0" y1="1831.4" x2="334.8" y2="1831.4" stroke="#000" stroke-width="0.9" />
<line x1="332.0" y1="1838.4" x2="334.8" y2="1838.4" stroke="#000" stroke-width="0.9" />
<line x1="332.0" y1="1844.4" x2="334.8" y2="1844.4" stroke="#000" stroke-width="0.9" />
<line x1="332.0" y1="1849.4" x2="334.8" y2="1849.4" stroke="#000" stroke-width="0.9" />
<line x1="332.0" y1="1853.4" x2="334.8" y2="1853.4" stroke="#000" stroke-width="0.9" />
<line x1="332.0" y1="1860.4" x2="334.8" y2="1860.4" stroke="#000" stroke-width="0.9" />
<line x1="332.0" y1="1864.4" x2="334.8" y2="1864.4" stroke="#000" stroke-width="0.9" />
<line x1="332.0" y1="1869.4" x2="334.8" y2="1869.4" stroke="#000" stroke-width="0.9" />
<line x1="332.0" y1="1875.4" x2="334.8" y2="1875.4" stroke="#000" stroke-width="0.9" />
<line x1="332.0" y1="1882.4" x2="334.8" y2="1882.4" stroke="#000" stroke-width="0.9" />
<line x1="332.0" y1="1895.4" x2="334.8" y2="1895.4" stroke="#000" stroke-width="0.9" />
<text x="325.3" y="1735.8" font-size="14" font-weight="bold" text-anchor="end">10<tspan font-size="12.5" dy="-9.5">5</tspan></text>
<text x="325.3" y="1782.1" font-size="14" font-weight="bold" text-anchor="end">10<tspan font-size="12.5" dy="-9.5">4</tspan></text>
<text x="325.3" y="1831.4" font-size="14" font-weight="bold" text-anchor="end">10<tspan font-size="12.5" dy="-9.5">3</tspan></text>
<text x="318.3" y="1864.9" font-size="14" font-weight="bold" text-anchor="end">0</text>
<text x="325.3" y="1897.9" font-size="14" font-weight="bold" text-anchor="end">-10<tspan font-size="12.5" dy="-9.5">3</tspan></text>
<line x1="334.8" y1="1901.4" x2="334.8" y2="1906.9" stroke="#000" stroke-width="1.3" />
<line x1="366.8" y1="1901.4" x2="366.8" y2="1906.9" stroke="#000" stroke-width="1.3" />
<line x1="399.5" y1="1901.4" x2="399.5" y2="1906.9" stroke="#000" stroke-width="1.3" />
<line x1="432.2" y1="1901.4" x2="432.2" y2="1906.9" stroke="#000" stroke-width="1.3" />
<line x1="464.5" y1="1901.4" x2="464.5" y2="1906.9" stroke="#000" stroke-width="1.3" />
<line x1="497.5" y1="1901.4" x2="497.5" y2="1906.9" stroke="#000" stroke-width="1.3" />
<line x1="344.4" y1="1901.4" x2="344.4" y2="1904.2" stroke="#000" stroke-width="0.8" />
<line x1="350.1" y1="1901.4" x2="350.1" y2="1904.2" stroke="#000" stroke-width="0.8" />
<line x1="354.1" y1="1901.4" x2="354.1" y2="1904.2" stroke="#000" stroke-width="0.8" />
<line x1="357.2" y1="1901.4" x2="357.2" y2="1904.2" stroke="#000" stroke-width="0.8" />
<line x1="359.7" y1="1901.4" x2="359.7" y2="1904.2" stroke="#000" stroke-width="0.8" />
<line x1="361.8" y1="1901.4" x2="361.8" y2="1904.2" stroke="#000" stroke-width="0.8" />
<line x1="363.7" y1="1901.4" x2="363.7" y2="1904.2" stroke="#000" stroke-width="0.8" />
<line x1="365.3" y1="1901.4" x2="365.3" y2="1904.2" stroke="#000" stroke-width="0.8" />
<line x1="376.6" y1="1901.4" x2="376.6" y2="1904.2" stroke="#000" stroke-width="0.8" />
<line x1="382.4" y1="1901.4" x2="382.4" y2="1904.2" stroke="#000" stroke-width="0.8" />
<line x1="386.5" y1="1901.4" x2="386.5" y2="1904.2" stroke="#000" stroke-width="0.8" />
<line x1="389.7" y1="1901.4" x2="389.7" y2="1904.2" stroke="#000" stroke-width="0.8" />
<line x1="392.2" y1="1901.4" x2="392.2" y2="1904.2" stroke="#000" stroke-width="0.8" />
<line x1="394.4" y1="1901.4" x2="394.4" y2="1904.2" stroke="#000" stroke-width="0.8" />
<line x1="396.3" y1="1901.4" x2="396.3" y2="1904.2" stroke="#000" stroke-width="0.8" />
<line x1="398.0" y1="1901.4" x2="398.0" y2="1904.2" stroke="#000" stroke-width="0.8" />
<line x1="409.3" y1="1901.4" x2="409.3" y2="1904.2" stroke="#000" stroke-width="0.8" />
<line x1="415.1" y1="1901.4" x2="415.1" y2="1904.2" stroke="#000" stroke-width="0.8" />
<line x1="419.2" y1="1901.4" x2="419.2" y2="1904.2" stroke="#000" stroke-width="0.8" />
<line x1="422.4" y1="1901.4" x2="422.4" y2="1904.2" stroke="#000" stroke-width="0.8" />
<line x1="424.9" y1="1901.4" x2="424.9" y2="1904.2" stroke="#000" stroke-width="0.8" />
<line x1="427.1" y1="1901.4" x2="427.1" y2="1904.2" stroke="#000" stroke-width="0.8" />
<line x1="429.0" y1="1901.4" x2="429.0" y2="1904.2" stroke="#000" stroke-width="0.8" />
<line x1="430.7" y1="1901.4" x2="430.7" y2="1904.2" stroke="#000" stroke-width="0.8" />
<line x1="441.9" y1="1901.4" x2="441.9" y2="1904.2" stroke="#000" stroke-width="0.8" />
<line x1="447.6" y1="1901.4" x2="447.6" y2="1904.2" stroke="#000" stroke-width="0.8" />
<line x1="451.6" y1="1901.4" x2="451.6" y2="1904.2" stroke="#000" stroke-width="0.8" />
<line x1="454.8" y1="1901.4" x2="454.8" y2="1904.2" stroke="#000" stroke-width="0.8" />
<line x1="457.3" y1="1901.4" x2="457.3" y2="1904.2" stroke="#000" stroke-width="0.8" />
<line x1="459.5" y1="1901.4" x2="459.5" y2="1904.2" stroke="#000" stroke-width="0.8" />
<line x1="461.4" y1="1901.4" x2="461.4" y2="1904.2" stroke="#000" stroke-width="0.8" />
<line x1="463.0" y1="1901.4" x2="463.0" y2="1904.2" stroke="#000" stroke-width="0.8" />
<line x1="474.4" y1="1901.4" x2="474.4" y2="1904.2" stroke="#000" stroke-width="0.8" />
<line x1="480.2" y1="1901.4" x2="480.2" y2="1904.2" stroke="#000" stroke-width="0.8" />
<line x1="484.4" y1="1901.4" x2="484.4" y2="1904.2" stroke="#000" stroke-width="0.8" />
<line x1="487.6" y1="1901.4" x2="487.6" y2="1904.2" stroke="#000" stroke-width="0.8" />
<line x1="490.2" y1="1901.4" x2="490.2" y2="1904.2" stroke="#000" stroke-width="0.8" />
<line x1="492.4" y1="1901.4" x2="492.4" y2="1904.2" stroke="#000" stroke-width="0.8" />
<line x1="494.3" y1="1901.4" x2="494.3" y2="1904.2" stroke="#000" stroke-width="0.8" />
<line x1="496.0" y1="1901.4" x2="496.0" y2="1904.2" stroke="#000" stroke-width="0.8" />
<line x1="507.3" y1="1901.4" x2="507.3" y2="1904.2" stroke="#000" stroke-width="0.8" />
<line x1="513.0" y1="1901.4" x2="513.0" y2="1904.2" stroke="#000" stroke-width="0.8" />
<line x1="517.1" y1="1901.4" x2="517.1" y2="1904.2" stroke="#000" stroke-width="0.8" />
<line x1="520.2" y1="1901.4" x2="520.2" y2="1904.2" stroke="#000" stroke-width="0.8" />
<line x1="522.8" y1="1901.4" x2="522.8" y2="1904.2" stroke="#000" stroke-width="0.8" />
<line x1="525.0" y1="1901.4" x2="525.0" y2="1904.2" stroke="#000" stroke-width="0.8" />
<line x1="526.9" y1="1901.4" x2="526.9" y2="1904.2" stroke="#000" stroke-width="0.8" />
<line x1="528.5" y1="1901.4" x2="528.5" y2="1904.2" stroke="#000" stroke-width="0.8" />
<text x="347.8" y="1928.0" font-size="13.5" font-weight="bold" text-anchor="middle">10<tspan font-size="12.5" dy="-11">0</tspan></text>
<text x="374.8" y="1928.0" font-size="13.5" font-weight="bold" text-anchor="middle">10<tspan font-size="12.5" dy="-11">1</tspan></text>
<text x="407.3" y="1928.0" font-size="13.5" font-weight="bold" text-anchor="middle">10<tspan font-size="12.5" dy="-11">2</tspan></text>
<text x="440.3" y="1928.0" font-size="13.5" font-weight="bold" text-anchor="middle">10<tspan font-size="12.5" dy="-11">3</tspan></text>
<text x="472.8" y="1928.0" font-size="13.5" font-weight="bold" text-anchor="middle">10<tspan font-size="12.5" dy="-11">4</tspan></text>
<text x="505.8" y="1928.0" font-size="13.5" font-weight="bold" text-anchor="middle">10<tspan font-size="12.5" dy="-11">5</tspan></text>
<path d="M679.7,1871.5 L672.7,1871.6 L664.7,1870.9 L637.7,1864.7 L632.7,1862.6 L629.8,1860.4 L627.8,1857.4 L627.3,1854.4 L627.7,1852.4 L628.7,1850.4 L630.4,1848.4 L632.7,1846.6 L637.7,1844.0 L649.1,1840.4 L653.7,1838.4 L667.8,1829.4 L670.7,1826.6 L671.7,1824.4 L672.1,1820.4 L669.6,1800.4 L669.5,1794.4 L670.1,1789.4 L671.9,1783.4 L674.5,1779.4 L677.7,1776.9 L680.7,1776.2 L684.7,1777.1 L688.7,1779.8 L691.9,1783.4 L695.5,1789.4 L698.0,1795.4 L706.5,1818.4 L708.1,1825.4 L708.6,1832.4 L708.1,1838.4 L707.0,1844.4 L704.6,1852.4 L703.1,1859.4 L701.0,1863.4 L697.6,1866.4 L692.7,1868.8 L685.7,1870.7 L679.7,1871.5Z M677.7,1869.4 L670.7,1869.3 L664.7,1868.6 L649.5,1864.4 L638.7,1861.9 L635.4,1860.4 L633.0,1858.4 L631.9,1856.4 L631.7,1854.4 L632.8,1851.4 L636.3,1848.4 L639.7,1846.8 L650.6,1843.4 L654.7,1841.6 L663.7,1835.6 L671.2,1831.4 L674.5,1828.4 L675.7,1825.4 L675.8,1821.4 L672.7,1803.4 L672.4,1798.4 L672.8,1793.4 L674.0,1788.4 L675.7,1785.1 L678.7,1782.3 L681.7,1781.6 L683.7,1781.9 L685.7,1782.8 L688.7,1785.2 L691.3,1788.4 L694.0,1793.4 L696.3,1799.4 L703.0,1821.4 L704.2,1827.4 L704.4,1833.4 L703.9,1838.4 L702.4,1845.4 L698.6,1859.4 L696.9,1862.4 L693.7,1865.1 L689.7,1867.1 L683.7,1868.8 L677.7,1869.4Z M682.7,1867.5 L677.7,1868.1 L672.7,1868.1 L667.7,1867.6 L661.7,1866.3 L649.7,1862.3 L638.7,1859.5 L635.8,1857.4 L635.2,1856.4 L634.9,1854.4 L635.7,1852.4 L638.7,1849.9 L642.7,1848.2 L651.7,1845.4 L655.7,1843.6 L665.7,1836.7 L674.0,1832.4 L675.7,1831.1 L677.2,1829.4 L678.2,1826.4 L678.3,1822.4 L674.8,1805.4 L674.4,1800.4 L674.5,1796.4 L675.2,1792.4 L676.9,1788.4 L678.7,1786.3 L681.7,1785.1 L684.7,1785.6 L687.7,1787.7 L690.6,1791.4 L693.2,1796.4 L695.2,1802.4 L700.4,1822.4 L701.3,1827.4 L701.6,1831.4 L701.2,1837.4 L700.1,1843.4 L696.0,1858.4 L695.2,1860.4 L693.7,1862.4 L690.7,1864.7 L687.7,1866.1 L682.7,1867.5Z M681.7,1866.5 L677.7,1867.0 L672.7,1867.1 L663.7,1865.6 L650.7,1860.7 L640.7,1857.9 L638.7,1856.4 L638.1,1854.4 L639.3,1852.4 L640.7,1851.4 L655.7,1845.7 L666.7,1837.9 L676.7,1832.9 L679.3,1830.4 L680.4,1827.4 L680.5,1823.4 L676.5,1806.4 L676.0,1801.4 L676.1,1797.4 L676.9,1793.4 L678.3,1790.4 L680.7,1788.3 L682.7,1787.9 L685.7,1788.9 L687.7,1790.6 L690.4,1794.4 L692.3,1798.4 L694.1,1804.4 L698.3,1823.4 L699.0,1828.4 L699.2,1832.4 L697.7,1844.4 L693.4,1859.4 L692.2,1861.4 L689.7,1863.5 L685.8,1865.4 L681.7,1866.5Z M681.7,1865.5 L673.7,1866.2 L669.7,1865.8 L664.7,1864.8 L659.7,1863.0 L650.7,1858.6 L644.5,1856.4 L643.1,1855.4 L642.8,1854.4 L643.4,1853.4 L644.8,1852.4 L652.7,1849.1 L656.7,1847.0 L666.7,1839.4 L670.7,1837.2 L677.7,1834.2 L679.7,1833.0 L681.3,1831.4 L682.6,1828.4 L682.6,1823.4 L678.3,1808.4 L677.4,1800.4 L677.8,1796.4 L678.9,1793.4 L680.7,1791.2 L682.7,1790.5 L685.7,1791.4 L687.7,1793.2 L689.8,1796.4 L691.5,1800.4 L693.1,1806.4 L696.2,1824.4 L696.8,1832.4 L695.6,1845.4 L691.5,1859.4 L690.1,1861.4 L687.7,1863.3 L684.7,1864.7 L681.7,1865.5Z M681.7,1864.6 L677.7,1865.2 L673.7,1865.3 L668.7,1864.8 L664.7,1863.8 L660.7,1862.1 L656.1,1859.4 L652.0,1856.4 L650.7,1854.4 L651.0,1853.4 L651.9,1852.4 L658.7,1847.6 L666.7,1840.8 L671.7,1838.0 L680.9,1834.4 L682.5,1833.4 L684.3,1831.4 L685.3,1828.4 L685.1,1824.4 L684.0,1820.4 L679.7,1808.4 L678.7,1801.4 L679.0,1798.4 L680.0,1795.4 L681.7,1793.4 L683.7,1793.0 L684.9,1793.4 L686.7,1794.7 L688.7,1797.4 L690.4,1801.4 L691.5,1805.4 L694.0,1827.4 L694.2,1841.4 L693.3,1848.4 L689.8,1859.4 L686.9,1862.4 L681.7,1864.6Z M688.7,1820.9 L686.7,1819.3 L683.7,1814.6 L681.7,1810.1 L680.7,1806.7 L680.2,1802.4 L680.5,1799.4 L681.2,1797.4 L682.7,1795.9 L684.7,1795.9 L686.7,1797.4 L688.5,1800.4 L689.8,1804.4 L690.5,1809.4 L690.6,1814.4 L689.7,1819.7 L688.7,1820.9Z M677.7,1864.4 L673.7,1864.6 L669.7,1864.1 L665.7,1863.1 L662.7,1861.8 L658.9,1859.4 L656.8,1857.4 L655.5,1855.4 L655.7,1853.4 L657.1,1851.4 L664.1,1844.4 L668.7,1840.8 L672.7,1838.8 L683.3,1835.4 L688.7,1833.3 L689.7,1833.7 L691.2,1836.4 L692.0,1839.4 L692.4,1843.4 L691.8,1848.4 L689.2,1857.4 L687.5,1860.4 L684.9,1862.4 L681.7,1863.7 L677.7,1864.4Z M687.7,1812.6 L686.7,1813.1 L685.7,1812.7 L683.7,1810.1 L682.6,1807.4 L682.0,1802.4 L682.7,1799.9 L683.7,1799.0 L684.7,1799.1 L685.7,1799.7 L686.7,1800.9 L687.8,1803.4 L688.6,1808.4 L688.4,1810.4 L687.7,1812.6Z M678.7,1863.5 L674.7,1863.8 L670.7,1863.5 L666.7,1862.5 L664.2,1861.4 L661.2,1859.4 L659.4,1857.4 L658.6,1855.4 L658.8,1853.4 L660.5,1850.4 L663.8,1846.4 L666.8,1843.4 L669.7,1841.3 L673.7,1839.4 L677.7,1838.3 L683.7,1837.3 L686.7,1837.4 L688.5,1838.4 L689.3,1839.4 L690.7,1843.4 L690.4,1848.4 L688.4,1855.4 L687.3,1858.4 L685.7,1860.5 L682.7,1862.4 L678.7,1863.5Z M679.7,1862.5 L676.7,1863.0 L672.7,1862.9 L669.5,1862.4 L666.6,1861.4 L663.4,1859.4 L661.7,1857.4 L661.0,1855.4 L661.2,1853.4 L662.5,1850.4 L665.3,1846.4 L667.7,1844.0 L670.7,1841.8 L673.7,1840.5 L677.7,1839.4 L681.7,1838.9 L684.7,1839.2 L687.1,1840.4 L688.6,1842.4 L689.3,1845.4 L688.9,1849.4 L686.8,1856.4 L685.7,1858.6 L683.7,1860.7 L679.7,1862.5Z M679.7,1861.5 L676.7,1862.1 L673.7,1862.2 L670.7,1861.8 L667.7,1860.8 L664.5,1858.4 L663.4,1856.4 L663.1,1854.4 L663.8,1851.4 L665.4,1848.4 L667.7,1845.4 L669.7,1843.6 L672.7,1841.9 L675.7,1840.8 L681.7,1840.2 L684.7,1841.0 L686.5,1842.4 L687.6,1844.4 L687.9,1847.4 L687.1,1851.4 L684.7,1857.8 L682.7,1860.0 L679.7,1861.5Z M679.7,1860.5 L674.7,1861.4 L669.5,1860.4 L666.5,1858.4 L665.3,1856.4 L665.1,1854.4 L665.3,1852.4 L666.3,1849.4 L669.2,1845.4 L671.7,1843.5 L673.7,1842.5 L678.7,1841.4 L681.7,1841.6 L684.7,1843.0 L685.8,1844.4 L686.5,1847.4 L685.8,1851.4 L683.7,1856.9 L681.7,1859.4 L679.7,1860.5Z M674.7,1860.4 L670.2,1859.4 L667.8,1857.4 L666.9,1854.4 L667.2,1851.4 L667.9,1849.4 L669.8,1846.4 L671.7,1844.7 L673.7,1843.6 L677.7,1842.5 L681.7,1843.0 L683.9,1844.4 L684.9,1846.4 L685.0,1849.4 L683.7,1853.5 L682.4,1856.4 L680.7,1858.5 L677.7,1860.0 L674.7,1860.4Z M677.7,1858.7 L675.7,1859.1 L673.7,1859.1 L670.7,1857.8 L669.1,1855.4 L668.8,1852.4 L669.7,1848.8 L671.7,1846.2 L674.7,1844.3 L678.7,1843.7 L680.7,1844.1 L682.6,1845.4 L683.2,1846.4 L683.6,1848.4 L683.0,1851.4 L681.2,1855.4 L679.7,1857.4 L677.7,1858.7Z M677.7,1856.6 L674.7,1857.4 L672.7,1856.7 L671.6,1855.4 L670.8,1852.4 L671.2,1849.4 L672.4,1847.4 L674.7,1845.8 L677.7,1845.1 L679.6,1845.4 L680.7,1846.0 L681.7,1847.4 L681.9,1848.4 L681.7,1850.4 L680.7,1852.8 L679.0,1855.4 L677.7,1856.6Z" fill="none" stroke="#505050" stroke-width="0.75"/>
<path d="M566.7,1840.9 L568.7,1841.4 L570.7,1842.8 L573.6,1847.4 L575.5,1853.4 L576.4,1862.4 L575.5,1871.4 L573.6,1877.4 L570.7,1882.0 L568.7,1883.4 L566.7,1883.9 M566.7,1843.1 L568.7,1843.6 L569.8,1844.4 L571.7,1846.6 L573.1,1849.4 L575.0,1856.4 L575.4,1862.4 L575.0,1868.4 L573.1,1875.4 L571.7,1878.2 L569.8,1880.4 L568.7,1881.2 L566.7,1881.7 M566.7,1845.5 L568.7,1846.1 L569.7,1846.9 L572.0,1850.4 L573.8,1856.4 L574.3,1862.4 L573.8,1868.4 L572.0,1874.4 L569.7,1877.9 L568.7,1878.7 L566.7,1879.3 M566.7,1848.4 L568.7,1849.1 L571.1,1852.4 L572.4,1856.4 L573.0,1862.4 L572.4,1868.4 L571.1,1872.4 L568.7,1875.7 L566.7,1876.4 M566.7,1852.0 L568.7,1853.0 L570.2,1855.4 L571.0,1858.4 L571.4,1862.4 L571.0,1866.4 L570.2,1869.4 L568.7,1871.8 L566.7,1872.8 M566.7,1857.8 L567.7,1858.4 L568.2,1859.4 L568.8,1862.4 L568.2,1865.4 L567.7,1866.4 L566.7,1867.0" fill="none" stroke="#666" stroke-width="0.7"/>
<rect x="566.7" y="1852.4" width="3.0" height="10.0" fill="#000" />
<rect x="566.7" y="1707.4" width="194" height="194" fill="none" stroke="#222" stroke-width="1.3"/>
<line x1="651.5" y1="1707.4" x2="651.5" y2="1901.4" stroke="#000" stroke-width="1.8" />
<line x1="566.7" y1="1819.4" x2="760.7" y2="1819.4" stroke="#000" stroke-width="1.8" />
<text x="737.2" y="1748.1" font-size="34" text-anchor="end" >28.3</text>
<line x1="561.7" y1="1725.3" x2="566.7" y2="1725.3" stroke="#000" stroke-width="1.3" />
<line x1="561.7" y1="1772.6" x2="566.7" y2="1772.6" stroke="#000" stroke-width="1.3" />
<line x1="561.7" y1="1822.0" x2="566.7" y2="1822.0" stroke="#000" stroke-width="1.3" />
<line x1="561.7" y1="1857.0" x2="566.7" y2="1857.0" stroke="#000" stroke-width="1.3" />
<line x1="561.7" y1="1889.5" x2="566.7" y2="1889.5" stroke="#000" stroke-width="1.3" />
<line x1="563.9" y1="1758.4" x2="566.7" y2="1758.4" stroke="#000" stroke-width="0.9" />
<line x1="563.9" y1="1750.0" x2="566.7" y2="1750.0" stroke="#000" stroke-width="0.9" />
<line x1="563.9" y1="1744.1" x2="566.7" y2="1744.1" stroke="#000" stroke-width="0.9" />
<line x1="563.9" y1="1739.5" x2="566.7" y2="1739.5" stroke="#000" stroke-width="0.9" />
<line x1="563.9" y1="1735.8" x2="566.7" y2="1735.8" stroke="#000" stroke-width="0.9" />
<line x1="563.9" y1="1732.6" x2="566.7" y2="1732.6" stroke="#000" stroke-width="0.9" />
<line x1="563.9" y1="1729.9" x2="566.7" y2="1729.9" stroke="#000" stroke-width="0.9" />
<line x1="563.9" y1="1727.5" x2="566.7" y2="1727.5" stroke="#000" stroke-width="0.9" />
<line x1="563.9" y1="1807.1" x2="566.7" y2="1807.1" stroke="#000" stroke-width="0.9" />
<line x1="563.9" y1="1798.4" x2="566.7" y2="1798.4" stroke="#000" stroke-width="0.9" />
<line x1="563.9" y1="1792.3" x2="566.7" y2="1792.3" stroke="#000" stroke-width="0.9" />
<line x1="563.9" y1="1787.5" x2="566.7" y2="1787.5" stroke="#000" stroke-width="0.9" />
<line x1="563.9" y1="1783.6" x2="566.7" y2="1783.6" stroke="#000" stroke-width="0.9" />
<line x1="563.9" y1="1780.3" x2="566.7" y2="1780.3" stroke="#000" stroke-width="0.9" />
<line x1="563.9" y1="1777.4" x2="566.7" y2="1777.4" stroke="#000" stroke-width="0.9" />
<line x1="563.9" y1="1774.9" x2="566.7" y2="1774.9" stroke="#000" stroke-width="0.9" />
<line x1="563.9" y1="1715.9" x2="566.7" y2="1715.9" stroke="#000" stroke-width="0.9" />
<line x1="563.9" y1="1719.9" x2="566.7" y2="1719.9" stroke="#000" stroke-width="0.9" />
<line x1="563.9" y1="1831.4" x2="566.7" y2="1831.4" stroke="#000" stroke-width="0.9" />
<line x1="563.9" y1="1838.4" x2="566.7" y2="1838.4" stroke="#000" stroke-width="0.9" />
<line x1="563.9" y1="1844.4" x2="566.7" y2="1844.4" stroke="#000" stroke-width="0.9" />
<line x1="563.9" y1="1849.4" x2="566.7" y2="1849.4" stroke="#000" stroke-width="0.9" />
<line x1="563.9" y1="1853.4" x2="566.7" y2="1853.4" stroke="#000" stroke-width="0.9" />
<line x1="563.9" y1="1860.4" x2="566.7" y2="1860.4" stroke="#000" stroke-width="0.9" />
<line x1="563.9" y1="1864.4" x2="566.7" y2="1864.4" stroke="#000" stroke-width="0.9" />
<line x1="563.9" y1="1869.4" x2="566.7" y2="1869.4" stroke="#000" stroke-width="0.9" />
<line x1="563.9" y1="1875.4" x2="566.7" y2="1875.4" stroke="#000" stroke-width="0.9" />
<line x1="563.9" y1="1882.4" x2="566.7" y2="1882.4" stroke="#000" stroke-width="0.9" />
<line x1="563.9" y1="1895.4" x2="566.7" y2="1895.4" stroke="#000" stroke-width="0.9" />
<text x="557.2" y="1735.8" font-size="14" font-weight="bold" text-anchor="end">10<tspan font-size="12.5" dy="-9.5">5</tspan></text>
<text x="557.2" y="1782.1" font-size="14" font-weight="bold" text-anchor="end">10<tspan font-size="12.5" dy="-9.5">4</tspan></text>
<text x="557.2" y="1831.4" font-size="14" font-weight="bold" text-anchor="end">10<tspan font-size="12.5" dy="-9.5">3</tspan></text>
<text x="550.2" y="1864.9" font-size="14" font-weight="bold" text-anchor="end">0</text>
<text x="557.2" y="1897.9" font-size="14" font-weight="bold" text-anchor="end">-10<tspan font-size="12.5" dy="-9.5">3</tspan></text>
<line x1="566.7" y1="1901.4" x2="566.7" y2="1906.9" stroke="#000" stroke-width="1.3" />
<line x1="598.7" y1="1901.4" x2="598.7" y2="1906.9" stroke="#000" stroke-width="1.3" />
<line x1="631.4" y1="1901.4" x2="631.4" y2="1906.9" stroke="#000" stroke-width="1.3" />
<line x1="664.1" y1="1901.4" x2="664.1" y2="1906.9" stroke="#000" stroke-width="1.3" />
<line x1="696.4" y1="1901.4" x2="696.4" y2="1906.9" stroke="#000" stroke-width="1.3" />
<line x1="729.4" y1="1901.4" x2="729.4" y2="1906.9" stroke="#000" stroke-width="1.3" />
<line x1="576.3" y1="1901.4" x2="576.3" y2="1904.2" stroke="#000" stroke-width="0.8" />
<line x1="582.0" y1="1901.4" x2="582.0" y2="1904.2" stroke="#000" stroke-width="0.8" />
<line x1="586.0" y1="1901.4" x2="586.0" y2="1904.2" stroke="#000" stroke-width="0.8" />
<line x1="589.1" y1="1901.4" x2="589.1" y2="1904.2" stroke="#000" stroke-width="0.8" />
<line x1="591.6" y1="1901.4" x2="591.6" y2="1904.2" stroke="#000" stroke-width="0.8" />
<line x1="593.7" y1="1901.4" x2="593.7" y2="1904.2" stroke="#000" stroke-width="0.8" />
<line x1="595.6" y1="1901.4" x2="595.6" y2="1904.2" stroke="#000" stroke-width="0.8" />
<line x1="597.2" y1="1901.4" x2="597.2" y2="1904.2" stroke="#000" stroke-width="0.8" />
<line x1="608.5" y1="1901.4" x2="608.5" y2="1904.2" stroke="#000" stroke-width="0.8" />
<line x1="614.3" y1="1901.4" x2="614.3" y2="1904.2" stroke="#000" stroke-width="0.8" />
<line x1="618.4" y1="1901.4" x2="618.4" y2="1904.2" stroke="#000" stroke-width="0.8" />
<line x1="621.6" y1="1901.4" x2="621.6" y2="1904.2" stroke="#000" stroke-width="0.8" />
<line x1="624.1" y1="1901.4" x2="624.1" y2="1904.2" stroke="#000" stroke-width="0.8" />
<line x1="626.3" y1="1901.4" x2="626.3" y2="1904.2" stroke="#000" stroke-width="0.8" />
<line x1="628.2" y1="1901.4" x2="628.2" y2="1904.2" stroke="#000" stroke-width="0.8" />
<line x1="629.9" y1="1901.4" x2="629.9" y2="1904.2" stroke="#000" stroke-width="0.8" />
<line x1="641.2" y1="1901.4" x2="641.2" y2="1904.2" stroke="#000" stroke-width="0.8" />
<line x1="647.0" y1="1901.4" x2="647.0" y2="1904.2" stroke="#000" stroke-width="0.8" />
<line x1="651.1" y1="1901.4" x2="651.1" y2="1904.2" stroke="#000" stroke-width="0.8" />
<line x1="654.3" y1="1901.4" x2="654.3" y2="1904.2" stroke="#000" stroke-width="0.8" />
<line x1="656.8" y1="1901.4" x2="656.8" y2="1904.2" stroke="#000" stroke-width="0.8" />
<line x1="659.0" y1="1901.4" x2="659.0" y2="1904.2" stroke="#000" stroke-width="0.8" />
<line x1="660.9" y1="1901.4" x2="660.9" y2="1904.2" stroke="#000" stroke-width="0.8" />
<line x1="662.6" y1="1901.4" x2="662.6" y2="1904.2" stroke="#000" stroke-width="0.8" />
<line x1="673.8" y1="1901.4" x2="673.8" y2="1904.2" stroke="#000" stroke-width="0.8" />
<line x1="679.5" y1="1901.4" x2="679.5" y2="1904.2" stroke="#000" stroke-width="0.8" />
<line x1="683.5" y1="1901.4" x2="683.5" y2="1904.2" stroke="#000" stroke-width="0.8" />
<line x1="686.7" y1="1901.4" x2="686.7" y2="1904.2" stroke="#000" stroke-width="0.8" />
<line x1="689.2" y1="1901.4" x2="689.2" y2="1904.2" stroke="#000" stroke-width="0.8" />
<line x1="691.4" y1="1901.4" x2="691.4" y2="1904.2" stroke="#000" stroke-width="0.8" />
<line x1="693.3" y1="1901.4" x2="693.3" y2="1904.2" stroke="#000" stroke-width="0.8" />
<line x1="694.9" y1="1901.4" x2="694.9" y2="1904.2" stroke="#000" stroke-width="0.8" />
<line x1="706.3" y1="1901.4" x2="706.3" y2="1904.2" stroke="#000" stroke-width="0.8" />
<line x1="712.1" y1="1901.4" x2="712.1" y2="1904.2" stroke="#000" stroke-width="0.8" />
<line x1="716.3" y1="1901.4" x2="716.3" y2="1904.2" stroke="#000" stroke-width="0.8" />
<line x1="719.5" y1="1901.4" x2="719.5" y2="1904.2" stroke="#000" stroke-width="0.8" />
<line x1="722.1" y1="1901.4" x2="722.1" y2="1904.2" stroke="#000" stroke-width="0.8" />
<line x1="724.3" y1="1901.4" x2="724.3" y2="1904.2" stroke="#000" stroke-width="0.8" />
<line x1="726.2" y1="1901.4" x2="726.2" y2="1904.2" stroke="#000" stroke-width="0.8" />
<line x1="727.9" y1="1901.4" x2="727.9" y2="1904.2" stroke="#000" stroke-width="0.8" />
<line x1="739.2" y1="1901.4" x2="739.2" y2="1904.2" stroke="#000" stroke-width="0.8" />
<line x1="744.9" y1="1901.4" x2="744.9" y2="1904.2" stroke="#000" stroke-width="0.8" />
<line x1="749.0" y1="1901.4" x2="749.0" y2="1904.2" stroke="#000" stroke-width="0.8" />
<line x1="752.1" y1="1901.4" x2="752.1" y2="1904.2" stroke="#000" stroke-width="0.8" />
<line x1="754.7" y1="1901.4" x2="754.7" y2="1904.2" stroke="#000" stroke-width="0.8" />
<line x1="756.9" y1="1901.4" x2="756.9" y2="1904.2" stroke="#000" stroke-width="0.8" />
<line x1="758.8" y1="1901.4" x2="758.8" y2="1904.2" stroke="#000" stroke-width="0.8" />
<line x1="760.4" y1="1901.4" x2="760.4" y2="1904.2" stroke="#000" stroke-width="0.8" />
<text x="579.7" y="1928.0" font-size="13.5" font-weight="bold" text-anchor="middle">10<tspan font-size="12.5" dy="-11">0</tspan></text>
<text x="606.7" y="1928.0" font-size="13.5" font-weight="bold" text-anchor="middle">10<tspan font-size="12.5" dy="-11">1</tspan></text>
<text x="639.2" y="1928.0" font-size="13.5" font-weight="bold" text-anchor="middle">10<tspan font-size="12.5" dy="-11">2</tspan></text>
<text x="672.2" y="1928.0" font-size="13.5" font-weight="bold" text-anchor="middle">10<tspan font-size="12.5" dy="-11">3</tspan></text>
<text x="704.7" y="1928.0" font-size="13.5" font-weight="bold" text-anchor="middle">10<tspan font-size="12.5" dy="-11">4</tspan></text>
<text x="737.7" y="1928.0" font-size="13.5" font-weight="bold" text-anchor="middle">10<tspan font-size="12.5" dy="-11">5</tspan></text>
<path d="M909.0,1874.4 L902.0,1874.2 L895.0,1872.9 L879.7,1867.4 L868.0,1864.2 L864.0,1861.9 L861.7,1859.4 L860.3,1856.4 L860.2,1853.4 L861.2,1850.4 L864.0,1847.0 L867.0,1844.9 L876.2,1840.4 L879.3,1838.4 L895.4,1822.4 L898.0,1818.4 L903.5,1807.4 L904.5,1803.4 L905.7,1792.4 L906.5,1789.4 L907.7,1786.4 L909.1,1784.4 L911.0,1782.7 L913.0,1781.8 L916.0,1781.6 L918.0,1782.0 L921.0,1783.6 L923.2,1785.4 L925.8,1788.4 L929.4,1794.4 L932.6,1803.4 L934.3,1812.4 L935.0,1821.4 L935.0,1831.4 L934.1,1848.4 L934.8,1859.4 L934.1,1862.4 L932.2,1865.4 L930.0,1867.6 L927.0,1869.6 L924.0,1871.1 L919.0,1872.9 L914.0,1873.9 L909.0,1874.4Z M912.0,1871.5 L905.0,1871.8 L898.0,1870.8 L892.0,1869.0 L880.7,1864.4 L870.0,1861.6 L867.6,1860.4 L865.4,1858.4 L864.3,1856.4 L864.1,1854.4 L865.0,1851.4 L867.0,1849.1 L870.0,1847.1 L880.0,1842.4 L882.9,1840.4 L899.1,1824.4 L903.0,1818.2 L907.0,1810.2 L908.0,1806.1 L909.1,1795.4 L910.3,1791.4 L911.5,1789.4 L913.0,1788.0 L916.0,1787.1 L918.0,1787.4 L920.0,1788.3 L922.0,1789.8 L924.3,1792.4 L927.6,1798.4 L929.7,1805.4 L930.7,1812.4 L931.2,1822.4 L930.0,1849.4 L930.4,1858.4 L929.8,1861.4 L928.7,1863.4 L925.0,1867.0 L919.0,1869.9 L912.0,1871.5Z M914.0,1869.5 L909.0,1870.1 L904.0,1870.0 L899.0,1869.3 L895.0,1868.1 L882.0,1862.6 L870.6,1859.4 L868.0,1857.4 L867.4,1856.4 L867.0,1854.4 L867.6,1852.4 L870.0,1849.9 L881.0,1844.5 L885.0,1841.8 L892.0,1834.6 L899.0,1828.4 L901.8,1825.4 L907.3,1816.4 L909.7,1811.4 L910.5,1807.4 L911.2,1798.4 L912.4,1794.4 L914.0,1792.1 L915.2,1791.4 L917.0,1791.0 L919.0,1791.5 L921.0,1792.8 L923.9,1796.4 L926.3,1801.4 L927.7,1807.4 L928.3,1813.4 L928.5,1824.4 L927.4,1849.4 L927.7,1857.4 L926.9,1861.4 L925.6,1863.4 L924.0,1865.0 L920.0,1867.5 L914.0,1869.5Z M912.0,1868.5 L908.0,1868.9 L904.0,1868.8 L900.0,1868.1 L896.0,1867.0 L882.0,1860.6 L873.0,1858.0 L870.7,1856.4 L870.0,1854.4 L870.9,1852.4 L872.0,1851.4 L882.0,1846.2 L886.0,1843.4 L893.8,1835.4 L900.9,1829.4 L903.7,1826.4 L909.1,1818.4 L911.7,1813.4 L912.7,1809.4 L913.3,1800.4 L914.2,1797.4 L916.0,1795.2 L918.0,1794.8 L921.0,1796.5 L923.0,1799.2 L924.7,1803.4 L925.7,1808.4 L926.2,1828.4 L925.4,1850.4 L925.6,1857.4 L924.6,1861.4 L922.1,1864.4 L918.0,1866.8 L912.0,1868.5Z M911.0,1867.5 L904.0,1867.7 L897.0,1866.1 L893.0,1864.4 L883.0,1859.1 L876.3,1856.4 L874.8,1855.4 L874.3,1854.4 L874.5,1853.4 L875.4,1852.4 L884.0,1847.1 L887.0,1844.8 L895.0,1836.4 L902.4,1830.4 L906.3,1826.4 L912.8,1817.4 L914.4,1814.4 L915.1,1811.4 L916.0,1801.4 L917.0,1799.7 L918.0,1799.1 L920.0,1799.9 L921.2,1801.4 L922.6,1804.4 L923.3,1808.4 L924.3,1836.4 L923.8,1857.4 L923.5,1859.4 L922.6,1861.4 L920.0,1864.2 L916.0,1866.3 L911.0,1867.5Z M911.0,1866.5 L907.0,1866.8 L903.0,1866.5 L896.0,1864.5 L891.9,1862.4 L882.2,1856.4 L880.3,1854.4 L880.2,1853.4 L881.5,1851.4 L888.0,1846.0 L896.0,1837.4 L904.9,1830.4 L914.0,1820.8 L916.0,1819.0 L918.0,1818.0 L919.0,1818.3 L920.0,1819.8 L921.0,1822.8 L922.0,1828.7 L922.7,1840.4 L922.3,1857.4 L921.4,1860.4 L918.9,1863.4 L915.2,1865.4 L911.0,1866.5Z M911.0,1865.6 L908.0,1865.9 L904.0,1865.7 L900.0,1864.9 L897.0,1863.8 L892.5,1861.4 L887.0,1857.4 L884.9,1855.4 L884.2,1853.4 L884.4,1852.4 L885.8,1850.4 L897.0,1838.2 L913.0,1825.9 L916.0,1824.7 L917.0,1824.9 L918.0,1825.7 L919.0,1827.4 L920.6,1834.4 L921.3,1842.4 L920.8,1857.4 L919.8,1860.4 L918.0,1862.5 L915.0,1864.4 L911.0,1865.6Z M911.0,1864.6 L908.0,1865.0 L904.0,1864.9 L900.0,1863.9 L897.0,1862.7 L893.2,1860.4 L889.5,1857.4 L887.9,1855.4 L887.2,1853.4 L887.7,1851.4 L889.1,1849.4 L895.6,1841.4 L898.6,1838.4 L902.0,1835.9 L910.0,1831.0 L913.0,1829.6 L915.0,1829.4 L916.6,1830.4 L917.9,1832.4 L919.5,1838.4 L919.9,1843.4 L919.5,1856.4 L918.8,1859.4 L917.4,1861.4 L914.6,1863.4 L911.0,1864.6Z M912.0,1863.4 L909.0,1864.0 L905.0,1864.1 L902.0,1863.6 L898.7,1862.4 L895.2,1860.4 L892.7,1858.4 L890.3,1855.4 L889.7,1853.4 L890.1,1851.4 L891.8,1848.4 L895.5,1843.4 L899.0,1839.7 L903.0,1836.7 L907.0,1834.5 L911.0,1833.0 L913.0,1832.7 L915.0,1833.4 L916.0,1834.4 L917.0,1836.1 L918.0,1839.1 L918.6,1844.4 L918.3,1855.4 L917.8,1858.4 L916.7,1860.4 L914.3,1862.4 L912.0,1863.4Z M911.0,1862.7 L908.0,1863.2 L905.0,1863.2 L902.0,1862.6 L899.0,1861.5 L895.8,1859.4 L893.8,1857.4 L892.4,1855.4 L891.9,1853.4 L892.1,1851.4 L893.6,1848.4 L896.3,1844.4 L899.0,1841.3 L902.0,1838.8 L905.0,1837.1 L908.0,1835.8 L911.0,1835.2 L913.0,1835.5 L915.3,1837.4 L916.9,1841.4 L917.3,1845.4 L917.0,1855.4 L916.3,1858.4 L914.0,1861.3 L911.0,1862.7Z M911.0,1861.6 L906.0,1862.3 L903.0,1861.9 L900.0,1860.8 L897.8,1859.4 L895.7,1857.4 L894.4,1855.4 L893.9,1853.4 L894.0,1851.4 L895.3,1848.4 L897.1,1845.4 L899.6,1842.4 L902.0,1840.3 L905.0,1838.6 L908.0,1837.5 L910.0,1837.2 L912.0,1837.6 L914.0,1839.0 L915.2,1841.4 L915.9,1845.4 L915.7,1854.4 L915.3,1857.4 L914.0,1859.6 L911.0,1861.6Z M910.0,1860.8 L906.0,1861.3 L903.0,1860.8 L901.0,1860.0 L897.6,1857.4 L896.3,1855.4 L895.8,1853.4 L895.9,1851.4 L896.9,1848.4 L900.0,1843.8 L904.0,1840.6 L907.0,1839.4 L909.0,1839.1 L911.0,1839.4 L913.0,1841.0 L914.1,1843.4 L914.6,1846.4 L914.0,1856.6 L912.4,1859.4 L910.0,1860.8Z M909.0,1859.7 L906.0,1860.1 L902.0,1859.1 L898.8,1856.4 L897.7,1853.4 L898.3,1849.4 L901.0,1844.8 L904.0,1842.3 L906.0,1841.4 L908.0,1841.0 L910.0,1841.3 L911.5,1842.4 L912.6,1844.4 L913.1,1847.4 L912.9,1853.4 L912.4,1856.4 L911.2,1858.4 L909.0,1859.7Z M907.0,1858.6 L904.0,1858.3 L901.2,1856.4 L900.0,1854.4 L899.8,1851.4 L900.6,1848.4 L902.7,1845.4 L905.0,1843.8 L908.0,1843.2 L910.0,1844.2 L911.0,1846.0 L911.4,1848.4 L911.3,1852.4 L910.8,1855.4 L910.0,1857.0 L909.0,1857.9 L907.0,1858.6Z" fill="none" stroke="#505050" stroke-width="0.75"/>
<path d="M798.0,1840.9 L800.0,1841.4 L802.0,1842.8 L804.9,1847.4 L806.8,1853.4 L807.7,1862.4 L806.8,1871.4 L804.9,1877.4 L802.0,1882.0 L800.0,1883.4 L798.0,1883.9 M798.0,1843.1 L800.0,1843.6 L801.1,1844.4 L803.0,1846.6 L804.4,1849.4 L806.3,1856.4 L806.7,1862.4 L806.3,1868.4 L804.4,1875.4 L803.0,1878.2 L801.1,1880.4 L800.0,1881.2 L798.0,1881.7 M798.0,1845.5 L800.0,1846.1 L801.0,1846.9 L803.3,1850.4 L805.1,1856.4 L805.6,1862.4 L805.1,1868.4 L803.3,1874.4 L801.0,1877.9 L800.0,1878.7 L798.0,1879.3 M798.0,1848.4 L800.0,1849.1 L802.4,1852.4 L803.7,1856.4 L804.3,1862.4 L803.7,1868.4 L802.4,1872.4 L800.0,1875.7 L798.0,1876.4 M798.0,1852.0 L800.0,1853.0 L801.5,1855.4 L802.3,1858.4 L802.7,1862.4 L802.3,1866.4 L801.5,1869.4 L800.0,1871.8 L798.0,1872.8 M798.0,1857.8 L799.0,1858.4 L799.5,1859.4 L800.1,1862.4 L799.5,1865.4 L799.0,1866.4 L798.0,1867.0" fill="none" stroke="#666" stroke-width="0.7"/>
<rect x="798.0" y="1852.4" width="3.0" height="10.0" fill="#000" />
<rect x="798.0" y="1707.4" width="194" height="194" fill="none" stroke="#222" stroke-width="1.3"/>
<line x1="882.8" y1="1707.4" x2="882.8" y2="1901.4" stroke="#000" stroke-width="1.8" />
<line x1="798.0" y1="1819.4" x2="992.0" y2="1819.4" stroke="#000" stroke-width="1.8" />
<text x="968.5" y="1748.1" font-size="34" text-anchor="end" >16.3</text>
<line x1="793.0" y1="1725.3" x2="798.0" y2="1725.3" stroke="#000" stroke-width="1.3" />
<line x1="793.0" y1="1772.6" x2="798.0" y2="1772.6" stroke="#000" stroke-width="1.3" />
<line x1="793.0" y1="1822.0" x2="798.0" y2="1822.0" stroke="#000" stroke-width="1.3" />
<line x1="793.0" y1="1857.0" x2="798.0" y2="1857.0" stroke="#000" stroke-width="1.3" />
<line x1="793.0" y1="1889.5" x2="798.0" y2="1889.5" stroke="#000" stroke-width="1.3" />
<line x1="795.2" y1="1758.4" x2="798.0" y2="1758.4" stroke="#000" stroke-width="0.9" />
<line x1="795.2" y1="1750.0" x2="798.0" y2="1750.0" stroke="#000" stroke-width="0.9" />
<line x1="795.2" y1="1744.1" x2="798.0" y2="1744.1" stroke="#000" stroke-width="0.9" />
<line x1="795.2" y1="1739.5" x2="798.0" y2="1739.5" stroke="#000" stroke-width="0.9" />
<line x1="795.2" y1="1735.8" x2="798.0" y2="1735.8" stroke="#000" stroke-width="0.9" />
<line x1="795.2" y1="1732.6" x2="798.0" y2="1732.6" stroke="#000" stroke-width="0.9" />
<line x1="795.2" y1="1729.9" x2="798.0" y2="1729.9" stroke="#000" stroke-width="0.9" />
<line x1="795.2" y1="1727.5" x2="798.0" y2="1727.5" stroke="#000" stroke-width="0.9" />
<line x1="795.2" y1="1807.1" x2="798.0" y2="1807.1" stroke="#000" stroke-width="0.9" />
<line x1="795.2" y1="1798.4" x2="798.0" y2="1798.4" stroke="#000" stroke-width="0.9" />
<line x1="795.2" y1="1792.3" x2="798.0" y2="1792.3" stroke="#000" stroke-width="0.9" />
<line x1="795.2" y1="1787.5" x2="798.0" y2="1787.5" stroke="#000" stroke-width="0.9" />
<line x1="795.2" y1="1783.6" x2="798.0" y2="1783.6" stroke="#000" stroke-width="0.9" />
<line x1="795.2" y1="1780.3" x2="798.0" y2="1780.3" stroke="#000" stroke-width="0.9" />
<line x1="795.2" y1="1777.4" x2="798.0" y2="1777.4" stroke="#000" stroke-width="0.9" />
<line x1="795.2" y1="1774.9" x2="798.0" y2="1774.9" stroke="#000" stroke-width="0.9" />
<line x1="795.2" y1="1715.9" x2="798.0" y2="1715.9" stroke="#000" stroke-width="0.9" />
<line x1="795.2" y1="1719.9" x2="798.0" y2="1719.9" stroke="#000" stroke-width="0.9" />
<line x1="795.2" y1="1831.4" x2="798.0" y2="1831.4" stroke="#000" stroke-width="0.9" />
<line x1="795.2" y1="1838.4" x2="798.0" y2="1838.4" stroke="#000" stroke-width="0.9" />
<line x1="795.2" y1="1844.4" x2="798.0" y2="1844.4" stroke="#000" stroke-width="0.9" />
<line x1="795.2" y1="1849.4" x2="798.0" y2="1849.4" stroke="#000" stroke-width="0.9" />
<line x1="795.2" y1="1853.4" x2="798.0" y2="1853.4" stroke="#000" stroke-width="0.9" />
<line x1="795.2" y1="1860.4" x2="798.0" y2="1860.4" stroke="#000" stroke-width="0.9" />
<line x1="795.2" y1="1864.4" x2="798.0" y2="1864.4" stroke="#000" stroke-width="0.9" />
<line x1="795.2" y1="1869.4" x2="798.0" y2="1869.4" stroke="#000" stroke-width="0.9" />
<line x1="795.2" y1="1875.4" x2="798.0" y2="1875.4" stroke="#000" stroke-width="0.9" />
<line x1="795.2" y1="1882.4" x2="798.0" y2="1882.4" stroke="#000" stroke-width="0.9" />
<line x1="795.2" y1="1895.4" x2="798.0" y2="1895.4" stroke="#000" stroke-width="0.9" />
<text x="788.5" y="1735.8" font-size="14" font-weight="bold" text-anchor="end">10<tspan font-size="12.5" dy="-9.5">5</tspan></text>
<text x="788.5" y="1782.1" font-size="14" font-weight="bold" text-anchor="end">10<tspan font-size="12.5" dy="-9.5">4</tspan></text>
<text x="788.5" y="1831.4" font-size="14" font-weight="bold" text-anchor="end">10<tspan font-size="12.5" dy="-9.5">3</tspan></text>
<text x="781.5" y="1864.9" font-size="14" font-weight="bold" text-anchor="end">0</text>
<text x="788.5" y="1897.9" font-size="14" font-weight="bold" text-anchor="end">-10<tspan font-size="12.5" dy="-9.5">3</tspan></text>
<line x1="798.0" y1="1901.4" x2="798.0" y2="1906.9" stroke="#000" stroke-width="1.3" />
<line x1="830.0" y1="1901.4" x2="830.0" y2="1906.9" stroke="#000" stroke-width="1.3" />
<line x1="862.7" y1="1901.4" x2="862.7" y2="1906.9" stroke="#000" stroke-width="1.3" />
<line x1="895.4" y1="1901.4" x2="895.4" y2="1906.9" stroke="#000" stroke-width="1.3" />
<line x1="927.7" y1="1901.4" x2="927.7" y2="1906.9" stroke="#000" stroke-width="1.3" />
<line x1="960.7" y1="1901.4" x2="960.7" y2="1906.9" stroke="#000" stroke-width="1.3" />
<line x1="807.6" y1="1901.4" x2="807.6" y2="1904.2" stroke="#000" stroke-width="0.8" />
<line x1="813.3" y1="1901.4" x2="813.3" y2="1904.2" stroke="#000" stroke-width="0.8" />
<line x1="817.3" y1="1901.4" x2="817.3" y2="1904.2" stroke="#000" stroke-width="0.8" />
<line x1="820.4" y1="1901.4" x2="820.4" y2="1904.2" stroke="#000" stroke-width="0.8" />
<line x1="822.9" y1="1901.4" x2="822.9" y2="1904.2" stroke="#000" stroke-width="0.8" />
<line x1="825.0" y1="1901.4" x2="825.0" y2="1904.2" stroke="#000" stroke-width="0.8" />
<line x1="826.9" y1="1901.4" x2="826.9" y2="1904.2" stroke="#000" stroke-width="0.8" />
<line x1="828.5" y1="1901.4" x2="828.5" y2="1904.2" stroke="#000" stroke-width="0.8" />
<line x1="839.8" y1="1901.4" x2="839.8" y2="1904.2" stroke="#000" stroke-width="0.8" />
<line x1="845.6" y1="1901.4" x2="845.6" y2="1904.2" stroke="#000" stroke-width="0.8" />
<line x1="849.7" y1="1901.4" x2="849.7" y2="1904.2" stroke="#000" stroke-width="0.8" />
<line x1="852.9" y1="1901.4" x2="852.9" y2="1904.2" stroke="#000" stroke-width="0.8" />
<line x1="855.4" y1="1901.4" x2="855.4" y2="1904.2" stroke="#000" stroke-width="0.8" />
<line x1="857.6" y1="1901.4" x2="857.6" y2="1904.2" stroke="#000" stroke-width="0.8" />
<line x1="859.5" y1="1901.4" x2="859.5" y2="1904.2" stroke="#000" stroke-width="0.8" />
<line x1="861.2" y1="1901.4" x2="861.2" y2="1904.2" stroke="#000" stroke-width="0.8" />
<line x1="872.5" y1="1901.4" x2="872.5" y2="1904.2" stroke="#000" stroke-width="0.8" />
<line x1="878.3" y1="1901.4" x2="878.3" y2="1904.2" stroke="#000" stroke-width="0.8" />
<line x1="882.4" y1="1901.4" x2="882.4" y2="1904.2" stroke="#000" stroke-width="0.8" />
<line x1="885.6" y1="1901.4" x2="885.6" y2="1904.2" stroke="#000" stroke-width="0.8" />
<line x1="888.1" y1="1901.4" x2="888.1" y2="1904.2" stroke="#000" stroke-width="0.8" />
<line x1="890.3" y1="1901.4" x2="890.3" y2="1904.2" stroke="#000" stroke-width="0.8" />
<line x1="892.2" y1="1901.4" x2="892.2" y2="1904.2" stroke="#000" stroke-width="0.8" />
<line x1="893.9" y1="1901.4" x2="893.9" y2="1904.2" stroke="#000" stroke-width="0.8" />
<line x1="905.1" y1="1901.4" x2="905.1" y2="1904.2" stroke="#000" stroke-width="0.8" />
<line x1="910.8" y1="1901.4" x2="910.8" y2="1904.2" stroke="#000" stroke-width="0.8" />
<line x1="914.8" y1="1901.4" x2="914.8" y2="1904.2" stroke="#000" stroke-width="0.8" />
<line x1="918.0" y1="1901.4" x2="918.0" y2="1904.2" stroke="#000" stroke-width="0.8" />
<line x1="920.5" y1="1901.4" x2="920.5" y2="1904.2" stroke="#000" stroke-width="0.8" />
<line x1="922.7" y1="1901.4" x2="922.7" y2="1904.2" stroke="#000" stroke-width="0.8" />
<line x1="924.6" y1="1901.4" x2="924.6" y2="1904.2" stroke="#000" stroke-width="0.8" />
<line x1="926.2" y1="1901.4" x2="926.2" y2="1904.2" stroke="#000" stroke-width="0.8" />
<line x1="937.6" y1="1901.4" x2="937.6" y2="1904.2" stroke="#000" stroke-width="0.8" />
<line x1="943.4" y1="1901.4" x2="943.4" y2="1904.2" stroke="#000" stroke-width="0.8" />
<line x1="947.6" y1="1901.4" x2="947.6" y2="1904.2" stroke="#000" stroke-width="0.8" />
<line x1="950.8" y1="1901.4" x2="950.8" y2="1904.2" stroke="#000" stroke-width="0.8" />
<line x1="953.4" y1="1901.4" x2="953.4" y2="1904.2" stroke="#000" stroke-width="0.8" />
<line x1="955.6" y1="1901.4" x2="955.6" y2="1904.2" stroke="#000" stroke-width="0.8" />
<line x1="957.5" y1="1901.4" x2="957.5" y2="1904.2" stroke="#000" stroke-width="0.8" />
<line x1="959.2" y1="1901.4" x2="959.2" y2="1904.2" stroke="#000" stroke-width="0.8" />
<line x1="970.5" y1="1901.4" x2="970.5" y2="1904.2" stroke="#000" stroke-width="0.8" />
<line x1="976.2" y1="1901.4" x2="976.2" y2="1904.2" stroke="#000" stroke-width="0.8" />
<line x1="980.3" y1="1901.4" x2="980.3" y2="1904.2" stroke="#000" stroke-width="0.8" />
<line x1="983.4" y1="1901.4" x2="983.4" y2="1904.2" stroke="#000" stroke-width="0.8" />
<line x1="986.0" y1="1901.4" x2="986.0" y2="1904.2" stroke="#000" stroke-width="0.8" />
<line x1="988.2" y1="1901.4" x2="988.2" y2="1904.2" stroke="#000" stroke-width="0.8" />
<line x1="990.1" y1="1901.4" x2="990.1" y2="1904.2" stroke="#000" stroke-width="0.8" />
<line x1="991.7" y1="1901.4" x2="991.7" y2="1904.2" stroke="#000" stroke-width="0.8" />
<text x="811.0" y="1928.0" font-size="13.5" font-weight="bold" text-anchor="middle">10<tspan font-size="12.5" dy="-11">0</tspan></text>
<text x="838.0" y="1928.0" font-size="13.5" font-weight="bold" text-anchor="middle">10<tspan font-size="12.5" dy="-11">1</tspan></text>
<text x="870.5" y="1928.0" font-size="13.5" font-weight="bold" text-anchor="middle">10<tspan font-size="12.5" dy="-11">2</tspan></text>
<text x="903.5" y="1928.0" font-size="13.5" font-weight="bold" text-anchor="middle">10<tspan font-size="12.5" dy="-11">3</tspan></text>
<text x="936.0" y="1928.0" font-size="13.5" font-weight="bold" text-anchor="middle">10<tspan font-size="12.5" dy="-11">4</tspan></text>
<text x="969.0" y="1928.0" font-size="13.5" font-weight="bold" text-anchor="middle">10<tspan font-size="12.5" dy="-11">5</tspan></text>
<path d="M1147.1,1872.5 L1140.1,1873.3 L1133.1,1873.1 L1126.1,1871.9 L1119.1,1870.0 L1103.1,1864.7 L1099.1,1862.9 L1097.1,1861.3 L1095.4,1859.4 L1094.4,1857.4 L1094.0,1855.4 L1094.7,1851.4 L1095.8,1849.4 L1097.6,1847.4 L1101.1,1844.9 L1110.5,1840.4 L1113.6,1838.4 L1126.3,1827.4 L1129.1,1824.1 L1131.1,1819.8 L1132.3,1814.4 L1132.6,1809.4 L1132.6,1797.4 L1133.8,1789.4 L1135.5,1785.4 L1137.6,1782.4 L1140.1,1780.6 L1143.1,1779.8 L1147.1,1780.5 L1151.1,1783.2 L1154.8,1787.4 L1157.7,1792.4 L1160.6,1799.4 L1165.7,1815.4 L1167.3,1822.4 L1167.8,1827.4 L1167.3,1836.4 L1164.0,1851.4 L1164.3,1854.4 L1165.7,1859.4 L1165.8,1861.4 L1165.1,1863.4 L1162.7,1866.4 L1159.1,1868.7 L1154.1,1870.8 L1147.1,1872.5Z M1146.1,1870.4 L1141.1,1871.0 L1135.1,1871.0 L1129.1,1870.2 L1124.1,1868.9 L1112.6,1864.4 L1102.1,1860.9 L1099.2,1858.4 L1097.9,1855.4 L1098.4,1852.4 L1099.7,1850.4 L1101.1,1849.0 L1104.1,1847.1 L1112.1,1843.5 L1115.5,1841.4 L1123.1,1834.6 L1129.7,1829.4 L1132.4,1826.4 L1134.4,1822.4 L1135.7,1816.4 L1136.0,1811.4 L1135.7,1800.4 L1136.6,1793.4 L1137.7,1790.4 L1139.7,1787.4 L1142.1,1785.7 L1144.1,1785.3 L1147.1,1785.9 L1150.1,1787.8 L1153.1,1791.2 L1155.6,1795.4 L1158.6,1803.4 L1161.7,1814.4 L1163.3,1821.4 L1163.9,1827.4 L1163.3,1836.4 L1160.0,1851.4 L1160.1,1854.4 L1161.2,1859.4 L1160.9,1862.4 L1159.1,1864.9 L1156.1,1867.1 L1152.1,1868.9 L1146.1,1870.4Z M1143.1,1869.5 L1139.1,1869.7 L1134.1,1869.5 L1129.1,1868.7 L1124.1,1867.2 L1113.1,1862.2 L1104.1,1859.1 L1101.9,1857.4 L1101.3,1856.4 L1100.9,1854.4 L1101.6,1852.4 L1103.5,1850.4 L1113.1,1845.6 L1116.6,1843.4 L1125.1,1835.8 L1132.2,1830.4 L1134.9,1827.4 L1136.8,1823.4 L1138.0,1817.4 L1137.8,1801.4 L1138.6,1795.4 L1139.8,1792.4 L1141.1,1790.7 L1143.1,1789.3 L1145.1,1789.0 L1148.1,1790.0 L1150.9,1792.4 L1153.1,1795.5 L1155.4,1800.4 L1157.6,1807.4 L1160.4,1819.4 L1161.2,1824.4 L1161.4,1829.4 L1160.6,1836.4 L1157.4,1851.4 L1157.5,1854.4 L1158.5,1859.4 L1157.9,1862.4 L1156.4,1864.4 L1153.1,1866.7 L1148.1,1868.5 L1143.1,1869.5Z M1142.1,1868.5 L1134.1,1868.5 L1126.1,1866.6 L1122.1,1864.9 L1114.1,1860.5 L1106.2,1857.4 L1104.9,1856.4 L1104.2,1854.4 L1105.1,1852.6 L1106.4,1851.4 L1114.1,1847.3 L1118.1,1844.6 L1125.1,1838.0 L1134.0,1831.4 L1136.9,1828.4 L1138.8,1824.4 L1139.9,1818.4 L1139.5,1803.4 L1140.0,1798.4 L1141.0,1795.4 L1142.1,1793.7 L1143.1,1792.8 L1145.1,1792.1 L1148.1,1793.0 L1150.1,1794.7 L1152.1,1797.5 L1154.0,1801.4 L1155.8,1807.4 L1158.2,1818.4 L1159.1,1824.4 L1159.3,1829.4 L1158.5,1836.4 L1155.5,1851.4 L1155.5,1854.4 L1156.3,1859.4 L1155.6,1862.4 L1153.9,1864.4 L1150.6,1866.4 L1146.1,1867.9 L1142.1,1868.5Z M1143.1,1867.5 L1135.1,1867.7 L1131.1,1867.1 L1127.1,1865.9 L1122.0,1863.4 L1111.1,1856.4 L1109.8,1855.4 L1109.3,1854.4 L1109.5,1853.4 L1110.4,1852.4 L1118.1,1846.8 L1127.1,1838.1 L1136.6,1831.4 L1139.2,1828.4 L1140.8,1824.4 L1141.7,1819.4 L1141.8,1814.4 L1141.2,1804.4 L1141.5,1800.4 L1143.1,1796.6 L1144.1,1795.7 L1146.1,1795.2 L1148.1,1796.0 L1150.1,1797.9 L1152.1,1801.3 L1153.3,1804.4 L1154.9,1810.4 L1156.7,1820.4 L1157.3,1829.4 L1156.4,1837.4 L1153.8,1851.4 L1153.8,1854.4 L1154.5,1859.4 L1154.2,1861.4 L1152.9,1863.4 L1150.1,1865.4 L1147.1,1866.6 L1143.1,1867.5Z M1144.1,1866.4 L1140.1,1867.0 L1135.1,1866.9 L1131.1,1866.2 L1127.1,1864.8 L1122.8,1862.4 L1118.1,1858.4 L1115.4,1855.4 L1115.0,1853.4 L1116.1,1851.4 L1126.3,1840.4 L1130.1,1837.4 L1138.0,1832.4 L1140.1,1830.4 L1141.4,1828.4 L1142.9,1824.4 L1143.6,1819.4 L1142.9,1806.4 L1143.1,1803.0 L1144.1,1799.9 L1145.1,1798.8 L1146.1,1798.5 L1147.1,1798.6 L1149.1,1800.1 L1151.1,1803.4 L1152.1,1806.2 L1154.8,1820.4 L1155.4,1828.4 L1153.8,1843.4 L1152.3,1852.4 L1152.8,1860.4 L1151.9,1862.4 L1150.1,1864.1 L1147.6,1865.4 L1144.1,1866.4Z M1144.1,1865.6 L1140.1,1866.2 L1136.1,1866.2 L1132.1,1865.6 L1128.1,1864.2 L1124.8,1862.4 L1121.5,1859.4 L1119.3,1856.4 L1118.5,1853.4 L1119.2,1851.4 L1120.4,1849.4 L1127.1,1841.3 L1131.1,1838.1 L1140.1,1832.9 L1141.9,1831.4 L1143.4,1829.4 L1145.0,1825.4 L1145.9,1820.4 L1146.0,1816.4 L1145.2,1806.4 L1146.1,1803.4 L1147.1,1803.0 L1148.1,1803.5 L1149.1,1804.7 L1150.7,1809.4 L1152.9,1823.4 L1153.1,1829.7 L1152.3,1843.4 L1150.9,1852.4 L1151.3,1860.4 L1150.3,1862.4 L1149.2,1863.4 L1147.1,1864.6 L1144.1,1865.6Z M1140.1,1865.5 L1136.1,1865.5 L1133.1,1865.0 L1130.1,1864.1 L1126.7,1862.4 L1124.4,1860.4 L1122.2,1857.4 L1121.2,1854.4 L1121.3,1852.4 L1122.5,1849.4 L1124.3,1846.4 L1129.1,1840.9 L1133.1,1838.1 L1142.9,1833.4 L1148.1,1830.1 L1149.1,1830.8 L1149.6,1832.4 L1150.8,1840.4 L1150.8,1845.4 L1149.6,1853.4 L1150.1,1858.4 L1149.9,1860.4 L1148.6,1862.4 L1147.1,1863.5 L1144.1,1864.8 L1140.1,1865.5Z M1142.1,1864.5 L1139.1,1864.8 L1135.1,1864.6 L1131.1,1863.6 L1128.6,1862.4 L1126.2,1860.4 L1124.7,1858.4 L1123.5,1855.4 L1123.4,1852.4 L1124.2,1849.4 L1125.8,1846.4 L1128.0,1843.4 L1131.1,1840.6 L1134.1,1838.8 L1138.1,1837.1 L1142.1,1835.9 L1145.1,1835.5 L1147.1,1836.4 L1147.9,1837.4 L1149.3,1841.4 L1149.5,1845.4 L1148.4,1853.4 L1148.7,1859.4 L1147.9,1861.4 L1147.0,1862.4 L1145.1,1863.5 L1142.1,1864.5Z M1142.1,1863.6 L1139.1,1864.1 L1136.1,1864.0 L1133.1,1863.4 L1130.1,1862.1 L1127.9,1860.4 L1126.4,1858.4 L1125.7,1856.4 L1125.2,1853.4 L1125.5,1850.4 L1126.2,1848.4 L1127.9,1845.4 L1130.1,1842.8 L1132.1,1841.2 L1135.1,1839.5 L1139.1,1838.1 L1142.1,1837.7 L1145.1,1838.3 L1146.4,1839.4 L1147.8,1842.4 L1148.2,1845.4 L1147.2,1853.4 L1147.5,1858.4 L1147.1,1860.2 L1145.2,1862.4 L1142.1,1863.6Z M1142.1,1862.7 L1139.1,1863.3 L1136.1,1863.2 L1133.1,1862.5 L1130.8,1861.4 L1129.6,1860.4 L1128.1,1858.4 L1126.9,1853.4 L1127.1,1850.4 L1127.6,1848.4 L1130.1,1844.3 L1134.1,1841.2 L1137.1,1839.9 L1140.1,1839.3 L1143.1,1839.6 L1145.1,1840.9 L1146.1,1842.4 L1146.8,1845.4 L1145.9,1853.4 L1145.9,1859.4 L1144.6,1861.4 L1142.1,1862.7Z M1139.1,1862.4 L1135.1,1862.1 L1133.0,1861.4 L1131.1,1860.1 L1129.4,1857.4 L1128.5,1851.4 L1129.5,1847.4 L1132.1,1843.9 L1136.1,1841.5 L1140.1,1840.8 L1142.1,1841.1 L1144.1,1842.4 L1145.2,1844.4 L1145.5,1847.4 L1144.6,1853.4 L1144.4,1859.4 L1142.6,1861.4 L1139.1,1862.4Z M1138.1,1861.4 L1134.1,1860.6 L1132.1,1858.9 L1130.9,1856.4 L1130.2,1850.4 L1131.0,1847.4 L1133.4,1844.4 L1137.1,1842.5 L1140.1,1842.3 L1142.1,1843.0 L1143.4,1844.4 L1144.1,1846.4 L1144.1,1848.4 L1143.1,1853.4 L1142.9,1858.4 L1142.5,1859.4 L1141.1,1860.7 L1138.1,1861.4Z M1139.1,1859.7 L1136.1,1859.6 L1134.1,1858.4 L1133.1,1856.4 L1132.0,1851.4 L1132.3,1848.4 L1133.4,1846.4 L1135.9,1844.4 L1138.1,1843.8 L1140.1,1844.1 L1141.1,1844.6 L1142.1,1845.9 L1142.5,1847.4 L1141.0,1857.4 L1140.1,1859.1 L1139.1,1859.7Z" fill="none" stroke="#505050" stroke-width="0.75"/>
<path d="M1029.1,1840.9 L1031.1,1841.4 L1033.1,1842.8 L1036.0,1847.4 L1037.9,1853.4 L1038.8,1862.4 L1037.9,1871.4 L1036.0,1877.4 L1033.1,1882.0 L1031.1,1883.4 L1029.1,1883.9 M1029.1,1843.1 L1031.1,1843.6 L1032.2,1844.4 L1034.1,1846.6 L1035.5,1849.4 L1037.4,1856.4 L1037.8,1862.4 L1037.4,1868.4 L1035.5,1875.4 L1034.1,1878.2 L1032.2,1880.4 L1031.1,1881.2 L1029.1,1881.7 M1029.1,1845.5 L1031.1,1846.1 L1032.1,1846.9 L1034.4,1850.4 L1036.2,1856.4 L1036.7,1862.4 L1036.2,1868.4 L1034.4,1874.4 L1032.1,1877.9 L1031.1,1878.7 L1029.1,1879.3 M1029.1,1848.4 L1031.1,1849.1 L1033.5,1852.4 L1034.8,1856.4 L1035.4,1862.4 L1034.8,1868.4 L1033.5,1872.4 L1031.1,1875.7 L1029.1,1876.4 M1029.1,1852.0 L1031.1,1853.0 L1032.6,1855.4 L1033.4,1858.4 L1033.8,1862.4 L1033.4,1866.4 L1032.6,1869.4 L1031.1,1871.8 L1029.1,1872.8 M1029.1,1857.8 L1030.1,1858.4 L1030.6,1859.4 L1031.2,1862.4 L1030.6,1865.4 L1030.1,1866.4 L1029.1,1867.0" fill="none" stroke="#666" stroke-width="0.7"/>
<rect x="1029.1" y="1852.4" width="3.0" height="10.0" fill="#000" />
<rect x="1029.1" y="1707.4" width="194" height="194" fill="none" stroke="#222" stroke-width="1.3"/>
<line x1="1113.9" y1="1707.4" x2="1113.9" y2="1901.4" stroke="#000" stroke-width="1.8" />
<line x1="1029.1" y1="1819.4" x2="1223.1" y2="1819.4" stroke="#000" stroke-width="1.8" />
<text x="1199.6" y="1748.1" font-size="34" text-anchor="end" >21.3</text>
<line x1="1024.1" y1="1725.3" x2="1029.1" y2="1725.3" stroke="#000" stroke-width="1.3" />
<line x1="1024.1" y1="1772.6" x2="1029.1" y2="1772.6" stroke="#000" stroke-width="1.3" />
<line x1="1024.1" y1="1822.0" x2="1029.1" y2="1822.0" stroke="#000" stroke-width="1.3" />
<line x1="1024.1" y1="1857.0" x2="1029.1" y2="1857.0" stroke="#000" stroke-width="1.3" />
<line x1="1024.1" y1="1889.5" x2="1029.1" y2="1889.5" stroke="#000" stroke-width="1.3" />
<line x1="1026.3" y1="1758.4" x2="1029.1" y2="1758.4" stroke="#000" stroke-width="0.9" />
<line x1="1026.3" y1="1750.0" x2="1029.1" y2="1750.0" stroke="#000" stroke-width="0.9" />
<line x1="1026.3" y1="1744.1" x2="1029.1" y2="1744.1" stroke="#000" stroke-width="0.9" />
<line x1="1026.3" y1="1739.5" x2="1029.1" y2="1739.5" stroke="#000" stroke-width="0.9" />
<line x1="1026.3" y1="1735.8" x2="1029.1" y2="1735.8" stroke="#000" stroke-width="0.9" />
<line x1="1026.3" y1="1732.6" x2="1029.1" y2="1732.6" stroke="#000" stroke-width="0.9" />
<line x1="1026.3" y1="1729.9" x2="1029.1" y2="1729.9" stroke="#000" stroke-width="0.9" />
<line x1="1026.3" y1="1727.5" x2="1029.1" y2="1727.5" stroke="#000" stroke-width="0.9" />
<line x1="1026.3" y1="1807.1" x2="1029.1" y2="1807.1" stroke="#000" stroke-width="0.9" />
<line x1="1026.3" y1="1798.4" x2="1029.1" y2="1798.4" stroke="#000" stroke-width="0.9" />
<line x1="1026.3" y1="1792.3" x2="1029.1" y2="1792.3" stroke="#000" stroke-width="0.9" />
<line x1="1026.3" y1="1787.5" x2="1029.1" y2="1787.5" stroke="#000" stroke-width="0.9" />
<line x1="1026.3" y1="1783.6" x2="1029.1" y2="1783.6" stroke="#000" stroke-width="0.9" />
<line x1="1026.3" y1="1780.3" x2="1029.1" y2="1780.3" stroke="#000" stroke-width="0.9" />
<line x1="1026.3" y1="1777.4" x2="1029.1" y2="1777.4" stroke="#000" stroke-width="0.9" />
<line x1="1026.3" y1="1774.9" x2="1029.1" y2="1774.9" stroke="#000" stroke-width="0.9" />
<line x1="1026.3" y1="1715.9" x2="1029.1" y2="1715.9" stroke="#000" stroke-width="0.9" />
<line x1="1026.3" y1="1719.9" x2="1029.1" y2="1719.9" stroke="#000" stroke-width="0.9" />
<line x1="1026.3" y1="1831.4" x2="1029.1" y2="1831.4" stroke="#000" stroke-width="0.9" />
<line x1="1026.3" y1="1838.4" x2="1029.1" y2="1838.4" stroke="#000" stroke-width="0.9" />
<line x1="1026.3" y1="1844.4" x2="1029.1" y2="1844.4" stroke="#000" stroke-width="0.9" />
<line x1="1026.3" y1="1849.4" x2="1029.1" y2="1849.4" stroke="#000" stroke-width="0.9" />
<line x1="1026.3" y1="1853.4" x2="1029.1" y2="1853.4" stroke="#000" stroke-width="0.9" />
<line x1="1026.3" y1="1860.4" x2="1029.1" y2="1860.4" stroke="#000" stroke-width="0.9" />
<line x1="1026.3" y1="1864.4" x2="1029.1" y2="1864.4" stroke="#000" stroke-width="0.9" />
<line x1="1026.3" y1="1869.4" x2="1029.1" y2="1869.4" stroke="#000" stroke-width="0.9" />
<line x1="1026.3" y1="1875.4" x2="1029.1" y2="1875.4" stroke="#000" stroke-width="0.9" />
<line x1="1026.3" y1="1882.4" x2="1029.1" y2="1882.4" stroke="#000" stroke-width="0.9" />
<line x1="1026.3" y1="1895.4" x2="1029.1" y2="1895.4" stroke="#000" stroke-width="0.9" />
<text x="1019.6" y="1735.8" font-size="14" font-weight="bold" text-anchor="end">10<tspan font-size="12.5" dy="-9.5">5</tspan></text>
<text x="1019.6" y="1782.1" font-size="14" font-weight="bold" text-anchor="end">10<tspan font-size="12.5" dy="-9.5">4</tspan></text>
<text x="1019.6" y="1831.4" font-size="14" font-weight="bold" text-anchor="end">10<tspan font-size="12.5" dy="-9.5">3</tspan></text>
<text x="1012.6" y="1864.9" font-size="14" font-weight="bold" text-anchor="end">0</text>
<text x="1019.6" y="1897.9" font-size="14" font-weight="bold" text-anchor="end">-10<tspan font-size="12.5" dy="-9.5">3</tspan></text>
<line x1="1029.1" y1="1901.4" x2="1029.1" y2="1906.9" stroke="#000" stroke-width="1.3" />
<line x1="1061.1" y1="1901.4" x2="1061.1" y2="1906.9" stroke="#000" stroke-width="1.3" />
<line x1="1093.8" y1="1901.4" x2="1093.8" y2="1906.9" stroke="#000" stroke-width="1.3" />
<line x1="1126.5" y1="1901.4" x2="1126.5" y2="1906.9" stroke="#000" stroke-width="1.3" />
<line x1="1158.8" y1="1901.4" x2="1158.8" y2="1906.9" stroke="#000" stroke-width="1.3" />
<line x1="1191.8" y1="1901.4" x2="1191.8" y2="1906.9" stroke="#000" stroke-width="1.3" />
<line x1="1038.7" y1="1901.4" x2="1038.7" y2="1904.2" stroke="#000" stroke-width="0.8" />
<line x1="1044.4" y1="1901.4" x2="1044.4" y2="1904.2" stroke="#000" stroke-width="0.8" />
<line x1="1048.4" y1="1901.4" x2="1048.4" y2="1904.2" stroke="#000" stroke-width="0.8" />
<line x1="1051.5" y1="1901.4" x2="1051.5" y2="1904.2" stroke="#000" stroke-width="0.8" />
<line x1="1054.0" y1="1901.4" x2="1054.0" y2="1904.2" stroke="#000" stroke-width="0.8" />
<line x1="1056.1" y1="1901.4" x2="1056.1" y2="1904.2" stroke="#000" stroke-width="0.8" />
<line x1="1058.0" y1="1901.4" x2="1058.0" y2="1904.2" stroke="#000" stroke-width="0.8" />
<line x1="1059.6" y1="1901.4" x2="1059.6" y2="1904.2" stroke="#000" stroke-width="0.8" />
<line x1="1070.9" y1="1901.4" x2="1070.9" y2="1904.2" stroke="#000" stroke-width="0.8" />
<line x1="1076.7" y1="1901.4" x2="1076.7" y2="1904.2" stroke="#000" stroke-width="0.8" />
<line x1="1080.8" y1="1901.4" x2="1080.8" y2="1904.2" stroke="#000" stroke-width="0.8" />
<line x1="1084.0" y1="1901.4" x2="1084.0" y2="1904.2" stroke="#000" stroke-width="0.8" />
<line x1="1086.5" y1="1901.4" x2="1086.5" y2="1904.2" stroke="#000" stroke-width="0.8" />
<line x1="1088.7" y1="1901.4" x2="1088.7" y2="1904.2" stroke="#000" stroke-width="0.8" />
<line x1="1090.6" y1="1901.4" x2="1090.6" y2="1904.2" stroke="#000" stroke-width="0.8" />
<line x1="1092.3" y1="1901.4" x2="1092.3" y2="1904.2" stroke="#000" stroke-width="0.8" />
<line x1="1103.6" y1="1901.4" x2="1103.6" y2="1904.2" stroke="#000" stroke-width="0.8" />
<line x1="1109.4" y1="1901.4" x2="1109.4" y2="1904.2" stroke="#000" stroke-width="0.8" />
<line x1="1113.5" y1="1901.4" x2="1113.5" y2="1904.2" stroke="#000" stroke-width="0.8" />
<line x1="1116.7" y1="1901.4" x2="1116.7" y2="1904.2" stroke="#000" stroke-width="0.8" />
<line x1="1119.2" y1="1901.4" x2="1119.2" y2="1904.2" stroke="#000" stroke-width="0.8" />
<line x1="1121.4" y1="1901.4" x2="1121.4" y2="1904.2" stroke="#000" stroke-width="0.8" />
<line x1="1123.3" y1="1901.4" x2="1123.3" y2="1904.2" stroke="#000" stroke-width="0.8" />
<line x1="1125.0" y1="1901.4" x2="1125.0" y2="1904.2" stroke="#000" stroke-width="0.8" />
<line x1="1136.2" y1="1901.4" x2="1136.2" y2="1904.2" stroke="#000" stroke-width="0.8" />
<line x1="1141.9" y1="1901.4" x2="1141.9" y2="1904.2" stroke="#000" stroke-width="0.8" />
<line x1="1145.9" y1="1901.4" x2="1145.9" y2="1904.2" stroke="#000" stroke-width="0.8" />
<line x1="1149.1" y1="1901.4" x2="1149.1" y2="1904.2" stroke="#000" stroke-width="0.8" />
<line x1="1151.6" y1="1901.4" x2="1151.6" y2="1904.2" stroke="#000" stroke-width="0.8" />
<line x1="1153.8" y1="1901.4" x2="1153.8" y2="1904.2" stroke="#000" stroke-width="0.8" />
<line x1="1155.7" y1="1901.4" x2="1155.7" y2="1904.2" stroke="#000" stroke-width="0.8" />
<line x1="1157.3" y1="1901.4" x2="1157.3" y2="1904.2" stroke="#000" stroke-width="0.8" />
<line x1="1168.7" y1="1901.4" x2="1168.7" y2="1904.2" stroke="#000" stroke-width="0.8" />
<line x1="1174.5" y1="1901.4" x2="1174.5" y2="1904.2" stroke="#000" stroke-width="0.8" />
<line x1="1178.7" y1="1901.4" x2="1178.7" y2="1904.2" stroke="#000" stroke-width="0.8" />
<line x1="1181.9" y1="1901.4" x2="1181.9" y2="1904.2" stroke="#000" stroke-width="0.8" />
<line x1="1184.5" y1="1901.4" x2="1184.5" y2="1904.2" stroke="#000" stroke-width="0.8" />
<line x1="1186.7" y1="1901.4" x2="1186.7" y2="1904.2" stroke="#000" stroke-width="0.8" />
<line x1="1188.6" y1="1901.4" x2="1188.6" y2="1904.2" stroke="#000" stroke-width="0.8" />
<line x1="1190.3" y1="1901.4" x2="1190.3" y2="1904.2" stroke="#000" stroke-width="0.8" />
<line x1="1201.6" y1="1901.4" x2="1201.6" y2="1904.2" stroke="#000" stroke-width="0.8" />
<line x1="1207.3" y1="1901.4" x2="1207.3" y2="1904.2" stroke="#000" stroke-width="0.8" />
<line x1="1211.4" y1="1901.4" x2="1211.4" y2="1904.2" stroke="#000" stroke-width="0.8" />
<line x1="1214.5" y1="1901.4" x2="1214.5" y2="1904.2" stroke="#000" stroke-width="0.8" />
<line x1="1217.1" y1="1901.4" x2="1217.1" y2="1904.2" stroke="#000" stroke-width="0.8" />
<line x1="1219.3" y1="1901.4" x2="1219.3" y2="1904.2" stroke="#000" stroke-width="0.8" />
<line x1="1221.2" y1="1901.4" x2="1221.2" y2="1904.2" stroke="#000" stroke-width="0.8" />
<line x1="1222.8" y1="1901.4" x2="1222.8" y2="1904.2" stroke="#000" stroke-width="0.8" />
<text x="1042.1" y="1928.0" font-size="13.5" font-weight="bold" text-anchor="middle">10<tspan font-size="12.5" dy="-11">0</tspan></text>
<text x="1069.1" y="1928.0" font-size="13.5" font-weight="bold" text-anchor="middle">10<tspan font-size="12.5" dy="-11">1</tspan></text>
<text x="1101.6" y="1928.0" font-size="13.5" font-weight="bold" text-anchor="middle">10<tspan font-size="12.5" dy="-11">2</tspan></text>
<text x="1134.6" y="1928.0" font-size="13.5" font-weight="bold" text-anchor="middle">10<tspan font-size="12.5" dy="-11">3</tspan></text>
<text x="1167.1" y="1928.0" font-size="13.5" font-weight="bold" text-anchor="middle">10<tspan font-size="12.5" dy="-11">4</tspan></text>
<text x="1200.1" y="1928.0" font-size="13.5" font-weight="bold" text-anchor="middle">10<tspan font-size="12.5" dy="-11">5</tspan></text>
<line x1="272.0" y1="1959.0" x2="272.0" y2="1890.0" stroke="#000" stroke-width="2.2" />
<polyline points="262,1901 272,1886.5 282,1901" fill="none" stroke="#000" stroke-width="2.2"/>
<line x1="271.0" y1="1959.0" x2="342.0" y2="1959.0" stroke="#000" stroke-width="2.2" />
<polyline points="331,1949 345.5,1959 331,1969" fill="none" stroke="#000" stroke-width="2.2"/>
<text transform="translate(284.8,1801.6) rotate(-90)" font-size="34.2" text-anchor="middle">PE-IL-17A</text>
<text x="349.5" y="1972.0" font-size="34.3" >FITC-CD4</text>
<line x1="1397.0" y1="1505.2" x2="1397.0" y2="1705.7" stroke="#000" stroke-width="2.2" />
<line x1="1390.0" y1="1704.7" x2="1397.0" y2="1704.7" stroke="#000" stroke-width="2.2" />
<text x="1384.5" y="1716.2" font-size="32.5" text-anchor="end" >0</text>
<line x1="1390.0" y1="1638.4" x2="1397.0" y2="1638.4" stroke="#000" stroke-width="2.2" />
<text x="1384.5" y="1649.9" font-size="32.5" text-anchor="end" >10</text>
<line x1="1390.0" y1="1572.1" x2="1397.0" y2="1572.1" stroke="#000" stroke-width="2.2" />
<text x="1384.5" y="1583.6" font-size="32.5" text-anchor="end" >20</text>
<line x1="1390.0" y1="1505.8" x2="1397.0" y2="1505.8" stroke="#000" stroke-width="2.2" />
<text x="1384.5" y="1517.3" font-size="32.5" text-anchor="end" >30</text>
<line x1="1389.4" y1="1704.7" x2="1594.6" y2="1704.7" stroke="#000" stroke-width="2.2" />
<line x1="1421.0" y1="1704.7" x2="1421.0" y2="1711.7" stroke="#000" stroke-width="2.2" />
<rect x="1418.0" y="1698.4" width="6.0" height="6.3" fill="#6fa8ef" />
<line x1="1470.6" y1="1704.7" x2="1470.6" y2="1711.7" stroke="#000" stroke-width="2.2" />
<rect x="1458.4" y="1548.9" width="24.4" height="155.8" fill="#f07a80" />
<line x1="1520.4" y1="1704.7" x2="1520.4" y2="1711.7" stroke="#000" stroke-width="2.2" />
<rect x="1508.2" y="1603.3" width="24.4" height="101.4" fill="#94c3f8" />
<line x1="1569.4" y1="1704.7" x2="1569.4" y2="1711.7" stroke="#000" stroke-width="2.2" />
<rect x="1557.2" y="1573.4" width="24.4" height="131.3" fill="#ee9f45" />
<circle cx="1414.0" cy="1691.0" r="5.2" fill="#fff" stroke="#000" stroke-width="1.2"/>
<circle cx="1414.0" cy="1701.6" r="5.2" fill="#fff" stroke="#000" stroke-width="1.2"/>
<circle cx="1429.0" cy="1701.6" r="5.2" fill="#fff" stroke="#000" stroke-width="1.2"/>
<line x1="1421.0" y1="1698.4" x2="1421.0" y2="1691.8" stroke="#000" stroke-width="2.8" />
<rect x="1415.0" y="1689.8" width="12.0" height="4.2" fill="#000" />
<circle cx="1470.6" cy="1515.1" r="5.2" fill="#fff" stroke="#000" stroke-width="1.2"/>
<circle cx="1470.6" cy="1556.2" r="5.2" fill="#fff" stroke="#000" stroke-width="1.2"/>
<circle cx="1470.6" cy="1577.4" r="5.2" fill="#fff" stroke="#000" stroke-width="1.2"/>
<line x1="1470.6" y1="1548.9" x2="1470.6" y2="1520.4" stroke="#000" stroke-width="2.8" />
<rect x="1464.6" y="1518.4" width="12.0" height="4.2" fill="#000" />
<circle cx="1513.4" cy="1594.6" r="5.2" fill="#fff" stroke="#000" stroke-width="1.2"/>
<circle cx="1527.4" cy="1603.9" r="5.2" fill="#fff" stroke="#000" stroke-width="1.2"/>
<circle cx="1513.4" cy="1612.5" r="5.2" fill="#fff" stroke="#000" stroke-width="1.2"/>
<line x1="1520.4" y1="1603.3" x2="1520.4" y2="1596.6" stroke="#000" stroke-width="2.8" />
<rect x="1514.4" y="1594.6" width="12.0" height="4.2" fill="#000" />
<circle cx="1562.4" cy="1580.1" r="5.2" fill="#fff" stroke="#000" stroke-width="1.2"/>
<circle cx="1576.4" cy="1574.8" r="5.2" fill="#fff" stroke="#000" stroke-width="1.2"/>
<circle cx="1569.4" cy="1562.2" r="5.2" fill="#fff" stroke="#000" stroke-width="1.2"/>
<line x1="1569.4" y1="1573.4" x2="1569.4" y2="1564.8" stroke="#000" stroke-width="2.8" />
<rect x="1563.4" y="1562.8" width="12.0" height="4.2" fill="#000" />
<line x1="1472.8" y1="1503.2" x2="1516.2" y2="1503.2" stroke="#000" stroke-width="2.2" />
<text x="1440.6" y="1496.2" font-size="24.5"><tspan font-style="italic">p</tspan>=0.0029</text>
<line x1="1521.8" y1="1549.4" x2="1565.2" y2="1549.4" stroke="#000" stroke-width="2.2" />
<text x="1505.9" y="1542.4" font-size="24.5"><tspan font-style="italic">p</tspan>=0.047</text>
<text x="1600.0" y="1712.6" font-size="25" >kDa</text>
<text transform="translate(1333,1597.5) rotate(-90)" font-size="34.5" text-anchor="middle">CD4<tspan font-size="24" dy="-14">+</tspan><tspan dy="14">IL-17A</tspan><tspan font-size="24" dy="-14">+</tspan><tspan dy="14">(%)</tspan></text>
<defs><filter id="bl" x="-30%" y="-80%" width="160%" height="260%"><feGaussianBlur stdDeviation="1.3"/></filter><filter id="bl2" x="-30%" y="-80%" width="160%" height="260%"><feGaussianBlur stdDeviation="2"/></filter></defs>
<rect x="1401.8" y="1722.6" width="193.8" height="45.2" fill="#e7e7e7" />
<rect x="1401.8" y="1776.0" width="193.8" height="46.6" fill="#efefef" />
<g filter="url(#bl2)" opacity="1.0" fill="#111"><ellipse cx="1419.8" cy="1744.0" rx="6.3" ry="5.2"/><ellipse cx="1438.2" cy="1744.0" rx="6.3" ry="5.2"/><rect x="1418.8" y="1739.5" width="20.5" height="8.9"/></g>
<g filter="url(#bl2)" opacity="0.9" fill="#6a6a6a"><ellipse cx="1463.3" cy="1744.5" rx="4.8" ry="4.0"/><ellipse cx="1483.2" cy="1744.5" rx="4.8" ry="4.0"/><rect x="1462.5" y="1742.5" width="21.5" height="4.0"/></g>
<g filter="url(#bl2)" opacity="1.0" fill="#1a1a1a"><ellipse cx="1510.7" cy="1743.5" rx="5.7" ry="4.8"/><ellipse cx="1531.8" cy="1743.5" rx="5.7" ry="4.8"/><rect x="1509.8" y="1739.9" width="23.0" height="7.1"/></g>
<g filter="url(#bl2)" opacity="1.0" fill="#0c0c0c"><ellipse cx="1557.1" cy="1744.0" rx="6.6" ry="5.5"/><ellipse cx="1575.9" cy="1744.0" rx="6.6" ry="5.5"/><rect x="1556.0" y="1739.3" width="21.0" height="9.3"/></g>
<g filter="url(#bl)" opacity="1.0" fill="#000"><ellipse cx="1419.3" cy="1801.0" rx="6.3" ry="5.2"/><ellipse cx="1440.7" cy="1801.0" rx="6.3" ry="5.2"/><rect x="1418.2" y="1797.2" width="23.5" height="7.6"/></g>
<g filter="url(#bl)" opacity="1.0" fill="#000"><ellipse cx="1465.0" cy="1800.3" rx="6.0" ry="5.0"/><ellipse cx="1487.5" cy="1800.3" rx="6.0" ry="5.0"/><rect x="1464.0" y="1796.8" width="24.5" height="7.0"/></g>
<g filter="url(#bl)" opacity="1.0" fill="#000"><ellipse cx="1512.7" cy="1798.6" rx="5.7" ry="4.8"/><ellipse cx="1535.8" cy="1798.6" rx="5.7" ry="4.8"/><rect x="1511.8" y="1795.2" width="25.0" height="6.8"/></g>
<g filter="url(#bl)" opacity="1.0" fill="#000"><ellipse cx="1560.5" cy="1797.2" rx="6.0" ry="5.0"/><ellipse cx="1581.0" cy="1797.2" rx="6.0" ry="5.0"/><rect x="1559.5" y="1792.8" width="22.5" height="8.8"/></g>
<rect x="1413.0" y="1812" width="34.0" height="6" fill="#e4e4e4" filter="url(#bl2)"/>
<rect x="1459.0" y="1812" width="34.5" height="6" fill="#e4e4e4" filter="url(#bl2)"/>
<rect x="1507.0" y="1812" width="34.5" height="6" fill="#e4e4e4" filter="url(#bl2)"/>
<rect x="1554.5" y="1812" width="32.5" height="6" fill="#e4e4e4" filter="url(#bl2)"/>
<rect x="1401.8" y="1722.6" width="193.8" height="45.2" fill="none" stroke="#000" stroke-width="2.4"/>
<rect x="1401.8" y="1776" width="193.8" height="46.6" fill="none" stroke="#000" stroke-width="2.4"/>
<line x1="1598.0" y1="1727.3" x2="1608.0" y2="1727.3" stroke="#000" stroke-width="3" />
<text x="1614.0" y="1740.5" font-size="25" >72</text>
<line x1="1598.0" y1="1808.0" x2="1608.0" y2="1808.0" stroke="#000" stroke-width="3" />
<text x="1614.0" y="1820.0" font-size="25" >43</text>
<text x="1393.5" y="1759.4" font-size="34.5" text-anchor="end" >KLHL25</text>
<text x="1393.5" y="1815.3" font-size="34.5" text-anchor="end" >Actin</text>
<text x="1390.5" y="1864.5" font-size="33.5" text-anchor="end" >TGFβ1</text>
<text x="1393.0" y="1907.1" font-size="34.5" text-anchor="end" >IL-6</text>
<text x="1393.5" y="1949.4" font-size="34" text-anchor="end">KLHL25<tspan font-size="21.5" dy="-7.5">OE</tspan></text>
<text x="1393.5" y="1988.7" font-size="34.5" text-anchor="end" >MCoA</text>
<text x="1428.9" y="1863.7" font-size="32" text-anchor="middle" >+</text>
<text x="1478.4" y="1863.7" font-size="32" text-anchor="middle" >+</text>
<text x="1525.0" y="1863.7" font-size="32" text-anchor="middle" >+</text>
<text x="1573.7" y="1863.7" font-size="32" text-anchor="middle" >+</text>
<text x="1428.9" y="1905.3" font-size="32" text-anchor="middle" >-</text>
<text x="1478.4" y="1907.2" font-size="32" text-anchor="middle" >+</text>
<text x="1525.0" y="1907.2" font-size="32" text-anchor="middle" >+</text>
<text x="1573.7" y="1907.2" font-size="32" text-anchor="middle" >+</text>
<text x="1428.9" y="1947.8" font-size="32" text-anchor="middle" >-</text>
<text x="1478.4" y="1947.8" font-size="32" text-anchor="middle" >-</text>
<text x="1525.0" y="1949.7" font-size="32" text-anchor="middle" >+</text>
<text x="1573.7" y="1949.7" font-size="32" text-anchor="middle" >+</text>
<text x="1428.9" y="1987.8" font-size="32" text-anchor="middle" >-</text>
<text x="1478.4" y="1987.8" font-size="32" text-anchor="middle" >-</text>
<text x="1525.0" y="1987.8" font-size="32" text-anchor="middle" >-</text>
<text x="1573.7" y="1989.7" font-size="32" text-anchor="middle" >+</text>
</svg>
</body></html>
